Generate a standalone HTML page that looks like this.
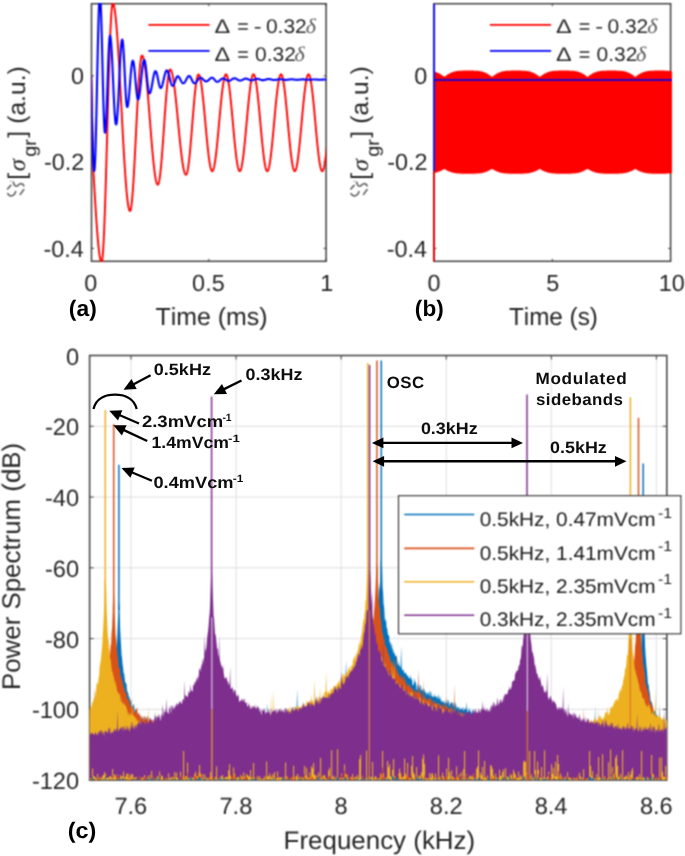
<!DOCTYPE html><html><head><meta charset="utf-8"><style>html,body{margin:0;padding:0;background:#fff;width:685px;height:856px;overflow:hidden;position:relative}</style></head><body>
<svg width="685" height="856" viewBox="0 0 685 856" style="position:absolute;left:0;top:0;font-kerning:none" text-rendering="geometricPrecision">
<filter id="bl" x="0" y="0" width="685" height="856" filterUnits="userSpaceOnUse" color-interpolation-filters="sRGB"><feConvolveMatrix order="3" kernelMatrix="1 2 1 2 4 2 1 2 1" divisor="16" edgeMode="duplicate"/></filter>
<rect width="685" height="856" fill="#fff"/>
<g filter="url(#bl)">
<defs>
<clipPath id="ca"><rect x="91.5" y="3.1" width="234.60000000000002" height="258.8"/></clipPath>
<clipPath id="cb"><rect x="432.8" y="3.1" width="239.40000000000003" height="258.8"/></clipPath>
</defs>
<rect x="91.5" y="3.7" width="234.60000000000002" height="257.6" fill="none" stroke="#404040" stroke-width="1.5"/>
<line x1="91.5" y1="261.3" x2="91.5" y2="258.8" stroke="#404040" stroke-width="1"/>
<line x1="91.5" y1="3.7" x2="91.5" y2="6.2" stroke="#404040" stroke-width="1"/>
<line x1="208.8" y1="261.3" x2="208.8" y2="258.8" stroke="#404040" stroke-width="1"/>
<line x1="208.8" y1="3.7" x2="208.8" y2="6.2" stroke="#404040" stroke-width="1"/>
<line x1="326.1" y1="261.3" x2="326.1" y2="258.8" stroke="#404040" stroke-width="1"/>
<line x1="326.1" y1="3.7" x2="326.1" y2="6.2" stroke="#404040" stroke-width="1"/>
<line x1="91.5" y1="75.8" x2="94.0" y2="75.8" stroke="#404040" stroke-width="1"/>
<line x1="326.1" y1="75.8" x2="323.6" y2="75.8" stroke="#404040" stroke-width="1"/>
<line x1="91.5" y1="162.10000000000002" x2="94.0" y2="162.10000000000002" stroke="#404040" stroke-width="1"/>
<line x1="326.1" y1="162.10000000000002" x2="323.6" y2="162.10000000000002" stroke="#404040" stroke-width="1"/>
<line x1="91.5" y1="248.40000000000003" x2="94.0" y2="248.40000000000003" stroke="#404040" stroke-width="1"/>
<line x1="326.1" y1="248.40000000000003" x2="323.6" y2="248.40000000000003" stroke="#404040" stroke-width="1"/>
<rect x="434.0" y="3.7" width="236.60000000000002" height="257.6" fill="none" stroke="#404040" stroke-width="1.5"/>
<line x1="434.0" y1="261.3" x2="434.0" y2="258.8" stroke="#404040" stroke-width="1"/>
<line x1="434.0" y1="3.7" x2="434.0" y2="6.2" stroke="#404040" stroke-width="1"/>
<line x1="552.3" y1="261.3" x2="552.3" y2="258.8" stroke="#404040" stroke-width="1"/>
<line x1="552.3" y1="3.7" x2="552.3" y2="6.2" stroke="#404040" stroke-width="1"/>
<line x1="670.6" y1="261.3" x2="670.6" y2="258.8" stroke="#404040" stroke-width="1"/>
<line x1="670.6" y1="3.7" x2="670.6" y2="6.2" stroke="#404040" stroke-width="1"/>
<line x1="434.0" y1="75.8" x2="436.5" y2="75.8" stroke="#404040" stroke-width="1"/>
<line x1="670.6" y1="75.8" x2="668.1" y2="75.8" stroke="#404040" stroke-width="1"/>
<line x1="434.0" y1="162.10000000000002" x2="436.5" y2="162.10000000000002" stroke="#404040" stroke-width="1"/>
<line x1="670.6" y1="162.10000000000002" x2="668.1" y2="162.10000000000002" stroke="#404040" stroke-width="1"/>
<line x1="434.0" y1="248.40000000000003" x2="436.5" y2="248.40000000000003" stroke="#404040" stroke-width="1"/>
<line x1="670.6" y1="248.40000000000003" x2="668.1" y2="248.40000000000003" stroke="#404040" stroke-width="1"/>
<g clip-path="url(#ca)" fill="none" stroke-linejoin="round">
<path d="M91.10,75.80 L91.36,86.38 L91.61,96.96 L91.87,107.53 L92.12,118.11 L92.38,128.69 L92.63,139.27 L92.89,149.84 L93.14,160.42 L93.40,171.00 L93.66,175.47 L93.91,179.92 L94.17,184.35 L94.43,188.75 L94.68,193.11 L94.94,197.42 L95.19,201.66 L95.45,205.82 L95.71,209.91 L95.96,213.90 L96.22,217.78 L96.47,221.56 L96.73,225.21 L96.99,228.73 L97.24,232.11 L97.50,235.35 L97.76,238.43 L98.01,241.34 L98.27,244.09 L98.53,246.66 L98.78,249.05 L99.04,251.25 L99.29,253.26 L99.55,255.07 L99.81,256.68 L100.06,258.08 L100.32,259.27 L100.57,260.25 L100.83,261.02 L101.09,261.56 L101.34,261.89 L101.60,262.00 L101.85,261.67 L102.11,260.68 L102.36,259.05 L102.62,256.76 L102.87,253.85 L103.13,250.32 L103.38,246.18 L103.64,241.47 L103.89,236.21 L104.15,230.42 L104.40,224.13 L104.65,217.37 L104.91,210.19 L105.16,202.60 L105.42,194.67 L105.67,186.41 L105.93,177.89 L106.18,169.13 L106.44,160.18 L106.69,151.10 L106.95,141.92 L107.20,132.70 L107.45,123.48 L107.71,114.30 L107.96,105.22 L108.22,96.27 L108.47,87.51 L108.73,78.99 L108.98,70.73 L109.24,62.80 L109.49,55.21 L109.75,48.03 L110.00,41.27 L110.25,34.98 L110.51,29.19 L110.76,23.93 L111.02,19.22 L111.27,15.08 L111.53,11.55 L111.78,8.64 L112.04,6.35 L112.29,4.72 L112.55,3.73 L112.80,3.40 L113.05,3.51 L113.31,3.84 L113.56,4.40 L113.81,5.17 L114.06,6.16 L114.32,7.36 L114.57,8.78 L114.82,10.41 L115.08,12.24 L115.33,14.28 L115.58,16.52 L115.84,18.95 L116.09,21.57 L116.34,24.37 L116.59,27.34 L116.85,30.49 L117.10,33.80 L117.35,37.27 L117.61,40.89 L117.86,44.65 L118.11,48.54 L118.36,52.56 L118.62,56.69 L118.87,60.93 L119.12,65.27 L119.38,69.70 L119.63,74.21 L119.88,78.79 L120.14,83.43 L120.39,88.13 L120.64,92.86 L120.89,97.62 L121.15,102.41 L121.40,107.20 L121.65,111.99 L121.91,116.78 L122.16,121.54 L122.41,126.27 L122.66,130.97 L122.92,135.61 L123.17,140.19 L123.42,144.70 L123.68,149.13 L123.93,153.47 L124.18,157.71 L124.44,161.84 L124.69,165.86 L124.94,169.75 L125.19,173.51 L125.45,177.13 L125.70,180.60 L125.95,183.91 L126.21,187.06 L126.46,190.03 L126.71,192.83 L126.96,195.45 L127.22,197.88 L127.47,200.12 L127.72,202.16 L127.98,203.99 L128.23,205.62 L128.48,207.04 L128.74,208.24 L128.99,209.23 L129.24,210.00 L129.49,210.56 L129.75,210.89 L130.00,211.00 L130.25,210.83 L130.50,210.34 L130.75,209.51 L131.00,208.35 L131.25,206.88 L131.50,205.09 L131.75,202.99 L132.00,200.59 L132.25,197.91 L132.50,194.94 L132.75,191.72 L133.00,188.24 L133.25,184.53 L133.50,180.60 L133.75,176.47 L134.00,172.15 L134.25,167.67 L134.50,163.03 L134.75,158.28 L135.00,153.41 L135.25,148.46 L135.50,143.44 L135.75,138.38 L136.00,133.30 L136.25,128.22 L136.50,123.16 L136.75,118.14 L137.00,113.19 L137.25,108.32 L137.50,103.57 L137.75,98.93 L138.00,94.45 L138.25,90.13 L138.50,86.00 L138.75,82.07 L139.00,78.36 L139.25,74.88 L139.50,71.66 L139.75,68.69 L140.00,66.01 L140.25,63.61 L140.50,61.51 L140.75,59.72 L141.00,58.25 L141.25,57.09 L141.50,56.26 L141.75,55.77 L142.00,55.60 L142.25,55.68 L142.50,55.92 L142.75,56.32 L143.00,56.88 L143.25,57.59 L143.50,58.47 L143.76,59.49 L144.01,60.66 L144.26,61.99 L144.51,63.45 L144.76,65.06 L145.01,66.81 L145.26,68.68 L145.51,70.69 L145.76,72.82 L146.01,75.06 L146.26,77.42 L146.51,79.88 L146.77,82.45 L147.02,85.11 L147.27,87.85 L147.52,90.67 L147.77,93.57 L148.02,96.54 L148.27,99.56 L148.52,102.63 L148.77,105.75 L149.02,108.90 L149.27,112.08 L149.52,115.28 L149.77,118.49 L150.03,121.71 L150.28,124.92 L150.53,128.12 L150.78,131.30 L151.03,134.45 L151.28,137.57 L151.53,140.64 L151.78,143.66 L152.03,146.63 L152.28,149.53 L152.53,152.35 L152.78,155.09 L153.03,157.75 L153.29,160.32 L153.54,162.78 L153.79,165.14 L154.04,167.38 L154.29,169.51 L154.54,171.52 L154.79,173.39 L155.04,175.14 L155.29,176.75 L155.54,178.21 L155.79,179.54 L156.04,180.71 L156.30,181.73 L156.55,182.61 L156.80,183.32 L157.05,183.88 L157.30,184.28 L157.55,184.52 L157.80,184.60 L158.05,184.48 L158.31,184.13 L158.56,183.54 L158.81,182.72 L159.07,181.67 L159.32,180.39 L159.57,178.90 L159.82,177.19 L160.08,175.28 L160.33,173.17 L160.58,170.87 L160.84,168.39 L161.09,165.74 L161.34,162.93 L161.60,159.98 L161.85,156.88 L162.10,153.67 L162.36,150.35 L162.61,146.93 L162.86,143.42 L163.11,139.86 L163.37,136.23 L163.62,132.58 L163.87,128.89 L164.13,125.21 L164.38,121.52 L164.63,117.87 L164.89,114.24 L165.14,110.68 L165.39,107.17 L165.64,103.75 L165.90,100.43 L166.15,97.22 L166.40,94.12 L166.66,91.17 L166.91,88.36 L167.16,85.71 L167.42,83.23 L167.67,80.93 L167.92,78.82 L168.18,76.91 L168.43,75.20 L168.68,73.71 L168.93,72.43 L169.19,71.38 L169.44,70.56 L169.69,69.97 L169.95,69.62 L170.20,69.50 L170.45,69.57 L170.70,69.76 L170.95,70.09 L171.20,70.54 L171.45,71.13 L171.70,71.84 L171.96,72.67 L172.21,73.63 L172.46,74.71 L172.71,75.91 L172.96,77.22 L173.21,78.64 L173.46,80.17 L173.71,81.81 L173.96,83.54 L174.21,85.37 L174.46,87.30 L174.71,89.30 L174.97,91.40 L175.22,93.56 L175.47,95.80 L175.72,98.10 L175.97,100.47 L176.22,102.88 L176.47,105.35 L176.72,107.85 L176.97,110.40 L177.22,112.97 L177.47,115.56 L177.72,118.17 L177.97,120.79 L178.23,123.41 L178.48,126.03 L178.73,128.64 L178.98,131.23 L179.23,133.80 L179.48,136.35 L179.73,138.85 L179.98,141.32 L180.23,143.73 L180.48,146.10 L180.73,148.40 L180.98,150.64 L181.23,152.80 L181.49,154.90 L181.74,156.90 L181.99,158.83 L182.24,160.66 L182.49,162.39 L182.74,164.03 L182.99,165.56 L183.24,166.98 L183.49,168.29 L183.74,169.49 L183.99,170.57 L184.24,171.53 L184.50,172.36 L184.75,173.07 L185.00,173.66 L185.25,174.11 L185.50,174.44 L185.75,174.63 L186.00,174.70 L186.25,174.60 L186.50,174.30 L186.75,173.81 L187.00,173.13 L187.25,172.25 L187.50,171.18 L187.75,169.93 L188.00,168.50 L188.25,166.90 L188.50,165.13 L188.75,163.20 L189.00,161.12 L189.25,158.90 L189.50,156.53 L189.75,154.05 L190.00,151.44 L190.25,148.74 L190.50,145.93 L190.75,143.04 L191.00,140.08 L191.25,137.06 L191.50,133.99 L191.75,130.88 L192.00,127.75 L192.25,124.60 L192.50,121.45 L192.75,118.32 L193.00,115.21 L193.25,112.14 L193.50,109.12 L193.75,106.16 L194.00,103.27 L194.25,100.46 L194.50,97.76 L194.75,95.15 L195.00,92.67 L195.25,90.30 L195.50,88.08 L195.75,86.00 L196.00,84.07 L196.25,82.30 L196.50,80.70 L196.75,79.27 L197.00,78.02 L197.25,76.95 L197.50,76.07 L197.75,75.39 L198.00,74.90 L198.25,74.60 L198.50,74.50 L198.75,74.58 L199.00,74.82 L199.25,75.21 L199.50,75.76 L199.75,76.46 L200.00,77.31 L200.25,78.31 L200.50,79.46 L200.75,80.75 L201.00,82.18 L201.25,83.73 L201.50,85.42 L201.75,87.23 L202.00,89.15 L202.25,91.19 L202.50,93.33 L202.75,95.56 L203.00,97.88 L203.25,100.29 L203.50,102.76 L203.75,105.31 L204.00,107.91 L204.25,110.56 L204.50,113.25 L204.75,115.97 L205.00,118.71 L205.25,121.47 L205.50,124.23 L205.75,126.99 L206.00,129.73 L206.25,132.45 L206.50,135.14 L206.75,137.79 L207.00,140.39 L207.25,142.94 L207.50,145.41 L207.75,147.82 L208.00,150.14 L208.25,152.37 L208.50,154.51 L208.75,156.55 L209.00,158.47 L209.25,160.28 L209.50,161.97 L209.75,163.52 L210.00,164.95 L210.25,166.24 L210.50,167.39 L210.75,168.39 L211.00,169.24 L211.25,169.94 L211.50,170.49 L211.75,170.88 L212.00,171.12 L212.25,171.20 L212.50,171.12 L212.75,170.88 L213.00,170.49 L213.25,169.94 L213.50,169.24 L213.75,168.38 L214.00,167.38 L214.25,166.23 L214.50,164.94 L214.75,163.51 L215.00,161.95 L215.25,160.26 L215.50,158.45 L215.75,156.52 L216.00,154.48 L216.25,152.34 L216.50,150.10 L216.75,147.77 L217.00,145.36 L217.25,142.88 L217.50,140.33 L217.75,137.72 L218.00,135.07 L218.25,132.37 L218.50,129.65 L218.75,126.90 L219.00,124.13 L219.25,121.37 L219.50,118.60 L219.75,115.85 L220.00,113.13 L220.25,110.43 L220.50,107.78 L220.75,105.17 L221.00,102.62 L221.25,100.14 L221.50,97.73 L221.75,95.40 L222.00,93.16 L222.25,91.02 L222.50,88.98 L222.75,87.05 L223.00,85.24 L223.25,83.55 L223.50,81.99 L223.75,80.56 L224.00,79.27 L224.25,78.12 L224.50,77.12 L224.75,76.26 L225.00,75.56 L225.25,75.01 L225.50,74.62 L225.75,74.38 L226.00,74.30 L226.25,74.38 L226.50,74.62 L226.75,75.01 L227.00,75.56 L227.25,76.26 L227.50,77.12 L227.75,78.12 L228.00,79.27 L228.25,80.56 L228.50,81.99 L228.75,83.55 L229.00,85.24 L229.25,87.05 L229.50,88.98 L229.75,91.02 L230.00,93.16 L230.25,95.40 L230.50,97.73 L230.75,100.14 L231.00,102.62 L231.25,105.17 L231.50,107.78 L231.75,110.43 L232.00,113.13 L232.25,115.85 L232.50,118.60 L232.75,121.37 L233.00,124.13 L233.25,126.90 L233.50,129.65 L233.75,132.37 L234.00,135.07 L234.25,137.72 L234.50,140.33 L234.75,142.88 L235.00,145.36 L235.25,147.77 L235.50,150.10 L235.75,152.34 L236.00,154.48 L236.25,156.52 L236.50,158.45 L236.75,160.26 L237.00,161.95 L237.25,163.51 L237.50,164.94 L237.75,166.23 L238.00,167.38 L238.25,168.38 L238.50,169.24 L238.75,169.94 L239.00,170.49 L239.25,170.88 L239.50,171.12 L239.75,171.20 L240.00,171.12 L240.25,170.88 L240.50,170.49 L240.75,169.94 L241.00,169.24 L241.25,168.38 L241.50,167.38 L241.75,166.23 L242.00,164.94 L242.25,163.51 L242.50,161.95 L242.75,160.26 L243.00,158.45 L243.25,156.52 L243.50,154.48 L243.75,152.34 L244.00,150.10 L244.25,147.77 L244.50,145.36 L244.75,142.88 L245.00,140.33 L245.25,137.72 L245.50,135.07 L245.75,132.37 L246.00,129.65 L246.25,126.90 L246.50,124.13 L246.75,121.37 L247.00,118.60 L247.25,115.85 L247.50,113.13 L247.75,110.43 L248.00,107.78 L248.25,105.17 L248.50,102.62 L248.75,100.14 L249.00,97.73 L249.25,95.40 L249.50,93.16 L249.75,91.02 L250.00,88.98 L250.25,87.05 L250.50,85.24 L250.75,83.55 L251.00,81.99 L251.25,80.56 L251.50,79.27 L251.75,78.12 L252.00,77.12 L252.25,76.26 L252.50,75.56 L252.75,75.01 L253.00,74.62 L253.25,74.38 L253.50,74.30 L253.75,74.38 L254.00,74.62 L254.25,75.01 L254.50,75.56 L254.75,76.26 L255.00,77.12 L255.25,78.12 L255.50,79.27 L255.75,80.56 L256.00,81.99 L256.25,83.55 L256.50,85.24 L256.75,87.05 L257.00,88.98 L257.25,91.02 L257.50,93.16 L257.75,95.40 L258.00,97.73 L258.25,100.14 L258.50,102.62 L258.75,105.17 L259.00,107.78 L259.25,110.43 L259.50,113.13 L259.75,115.85 L260.00,118.60 L260.25,121.37 L260.50,124.13 L260.75,126.90 L261.00,129.65 L261.25,132.37 L261.50,135.07 L261.75,137.72 L262.00,140.33 L262.25,142.88 L262.50,145.36 L262.75,147.77 L263.00,150.10 L263.25,152.34 L263.50,154.48 L263.75,156.52 L264.00,158.45 L264.25,160.26 L264.50,161.95 L264.75,163.51 L265.00,164.94 L265.25,166.23 L265.50,167.38 L265.75,168.38 L266.00,169.24 L266.25,169.94 L266.50,170.49 L266.75,170.88 L267.00,171.12 L267.25,171.20 L267.50,171.12 L267.75,170.88 L268.00,170.49 L268.25,169.94 L268.50,169.24 L268.75,168.38 L269.00,167.38 L269.25,166.23 L269.50,164.94 L269.75,163.51 L270.00,161.95 L270.25,160.26 L270.50,158.45 L270.75,156.52 L271.00,154.48 L271.25,152.34 L271.50,150.10 L271.75,147.77 L272.00,145.36 L272.25,142.88 L272.50,140.33 L272.75,137.72 L273.00,135.07 L273.25,132.37 L273.50,129.65 L273.75,126.90 L274.00,124.13 L274.25,121.37 L274.50,118.60 L274.75,115.85 L275.00,113.13 L275.25,110.43 L275.50,107.78 L275.75,105.17 L276.00,102.62 L276.25,100.14 L276.50,97.73 L276.75,95.40 L277.00,93.16 L277.25,91.02 L277.50,88.98 L277.75,87.05 L278.00,85.24 L278.25,83.55 L278.50,81.99 L278.75,80.56 L279.00,79.27 L279.25,78.12 L279.50,77.12 L279.75,76.26 L280.00,75.56 L280.25,75.01 L280.50,74.62 L280.75,74.38 L281.00,74.30 L281.25,74.38 L281.50,74.62 L281.75,75.01 L282.00,75.56 L282.25,76.26 L282.50,77.12 L282.75,78.12 L283.00,79.27 L283.25,80.56 L283.50,81.99 L283.75,83.55 L284.00,85.24 L284.25,87.05 L284.50,88.98 L284.75,91.02 L285.00,93.16 L285.25,95.40 L285.50,97.73 L285.75,100.14 L286.00,102.62 L286.25,105.17 L286.50,107.78 L286.75,110.43 L287.00,113.13 L287.25,115.85 L287.50,118.60 L287.75,121.37 L288.00,124.13 L288.25,126.90 L288.50,129.65 L288.75,132.37 L289.00,135.07 L289.25,137.72 L289.50,140.33 L289.75,142.88 L290.00,145.36 L290.25,147.77 L290.50,150.10 L290.75,152.34 L291.00,154.48 L291.25,156.52 L291.50,158.45 L291.75,160.26 L292.00,161.95 L292.25,163.51 L292.50,164.94 L292.75,166.23 L293.00,167.38 L293.25,168.38 L293.50,169.24 L293.75,169.94 L294.00,170.49 L294.25,170.88 L294.50,171.12 L294.75,171.20 L295.00,171.12 L295.25,170.88 L295.50,170.49 L295.75,169.94 L296.00,169.24 L296.25,168.38 L296.50,167.38 L296.75,166.23 L297.00,164.94 L297.25,163.51 L297.50,161.95 L297.75,160.26 L298.00,158.45 L298.25,156.52 L298.50,154.48 L298.75,152.34 L299.00,150.10 L299.25,147.77 L299.50,145.36 L299.75,142.88 L300.00,140.33 L300.25,137.72 L300.50,135.07 L300.75,132.37 L301.00,129.65 L301.25,126.90 L301.50,124.13 L301.75,121.37 L302.00,118.60 L302.25,115.85 L302.50,113.13 L302.75,110.43 L303.00,107.78 L303.25,105.17 L303.50,102.62 L303.75,100.14 L304.00,97.73 L304.25,95.40 L304.50,93.16 L304.75,91.02 L305.00,88.98 L305.25,87.05 L305.50,85.24 L305.75,83.55 L306.00,81.99 L306.25,80.56 L306.50,79.27 L306.75,78.12 L307.00,77.12 L307.25,76.26 L307.50,75.56 L307.75,75.01 L308.00,74.62 L308.25,74.38 L308.50,74.30 L308.75,74.38 L309.00,74.62 L309.25,75.01 L309.50,75.56 L309.75,76.26 L310.00,77.12 L310.25,78.12 L310.50,79.27 L310.75,80.56 L311.00,81.99 L311.25,83.55 L311.50,85.24 L311.75,87.05 L312.00,88.98 L312.25,91.02 L312.50,93.16 L312.75,95.40 L313.00,97.73 L313.25,100.14 L313.50,102.62 L313.75,105.17 L314.00,107.78 L314.25,110.43 L314.50,113.13 L314.75,115.85 L315.00,118.60 L315.25,121.37 L315.50,124.13 L315.75,126.90 L316.00,129.65 L316.25,132.37 L316.50,135.07 L316.75,137.72 L317.00,140.33 L317.25,142.88 L317.50,145.36 L317.75,147.77 L318.00,150.10 L318.25,152.34 L318.50,154.48 L318.75,156.52 L319.00,158.45 L319.25,160.26 L319.50,161.95 L319.75,163.51 L320.00,164.94 L320.25,166.23 L320.50,167.38 L320.75,168.38 L321.00,169.24 L321.25,169.94 L321.50,170.49 L321.75,170.88 L322.00,171.12 L322.25,171.20 L322.50,171.12 L322.75,170.88 L323.00,170.49 L323.25,169.94 L323.50,169.24 L323.75,168.38 L324.00,167.38 L324.25,166.23 L324.50,164.94 L324.75,163.51 L325.00,161.95 L325.25,160.26 L325.50,158.45 L325.75,156.52 L326.00,154.48 L326.25,152.34 L326.50,150.10 L326.75,147.77 L327.00,145.36 L327.25,142.88 L327.50,140.33 L327.75,137.72 L328.00,135.07 L328.25,132.37 L328.50,129.65 L328.75,126.90 L329.00,124.13 L329.25,121.37 L329.50,118.60 L329.75,115.85 L330.00,113.13 L330.25,110.43 L330.50,107.78 L330.75,105.17 L331.00,102.62 L331.25,100.14 L331.50,97.73 L331.75,95.40 L332.00,93.16 L332.25,91.02 L332.50,88.98 L332.75,87.05 L333.00,85.24 L333.25,83.55 L333.50,81.99 L333.75,80.56 L334.00,79.27 L334.25,78.12 L334.50,77.12 L334.75,76.26 L335.00,75.56 L335.25,75.01 L335.50,74.62 L335.75,74.38 L336.00,74.30 L336.25,74.38 L336.50,74.62 L336.75,75.01 L337.00,75.56 L337.25,76.26 L337.50,77.12 L337.75,78.12 L338.00,79.27 L338.25,80.56 L338.50,81.99 L338.75,83.55 L339.00,85.24 L339.25,87.05 L339.50,88.98 L339.75,91.02 L340.00,93.16 L340.25,95.40 L340.50,97.73 L340.75,100.14 L341.00,102.62 L341.25,105.17 L341.50,107.78 L341.75,110.43 L342.00,113.13 L342.25,115.85 L342.50,118.60 L342.75,121.37 L343.00,124.13 L343.25,126.90 L343.50,129.65 L343.75,132.37 L344.00,135.07 L344.25,137.72 L344.50,140.33 L344.75,142.88 L345.00,145.36 L345.25,147.77 L345.50,150.10 L345.75,152.34 L346.00,154.48 L346.25,156.52 L346.50,158.45 L346.75,160.26 L347.00,161.95 L347.25,163.51 L347.50,164.94 L347.75,166.23 L348.00,167.38 L348.25,168.38 L348.50,169.24 L348.75,169.94 L349.00,170.49 L349.25,170.88 L349.50,171.12 L349.75,171.20 L350.00,171.12 L350.25,170.88 L350.50,170.49 L350.75,169.94 L351.00,169.24 L351.25,168.38 L351.50,167.38 L351.75,166.23 L352.00,164.94 L352.25,163.51 L352.50,161.95 L352.75,160.26 L353.00,158.45 L353.25,156.52 L353.50,154.48 L353.75,152.34 L354.00,150.10 L354.25,147.77 L354.50,145.36 L354.75,142.88 L355.00,140.33 L355.25,137.72 L355.50,135.07 L355.75,132.37 L356.00,129.65 L356.25,126.90 L356.50,124.13 L356.75,121.37 L357.00,118.60 L357.25,115.85 L357.50,113.13 L357.75,110.43 L358.00,107.78 L358.25,105.17 L358.50,102.62 L358.75,100.14 L359.00,97.73 L359.25,95.40 L359.50,93.16 L359.75,91.02 L360.00,88.98 L360.25,87.05 L360.50,85.24 L360.75,83.55 L361.00,81.99 L361.25,80.56 L361.50,79.27 L361.75,78.12 L362.00,77.12 L362.25,76.26 L362.50,75.56 L362.75,75.01 L363.00,74.62 L363.25,74.38 L363.50,74.30" stroke="#ff0000" stroke-width="1.9"/>
<path d="M91.10,75.80 L91.36,88.23 L91.62,100.44 L91.88,112.23 L92.13,123.40 L92.39,133.75 L92.65,143.12 L92.91,151.33 L93.17,158.25 L93.42,163.75 L93.68,167.76 L93.94,170.19 L94.20,171.00 L94.46,170.11 L94.72,167.46 L94.98,163.09 L95.24,157.11 L95.50,149.63 L95.75,140.80 L96.01,130.81 L96.27,119.85 L96.53,108.15 L96.79,95.95 L97.05,83.50 L97.31,71.05 L97.57,58.85 L97.83,47.15 L98.09,36.19 L98.35,26.20 L98.60,17.37 L98.86,9.89 L99.12,3.91 L99.38,-0.46 L99.64,-3.11 L99.90,-4.00 L100.16,-3.16 L100.41,-0.65 L100.67,3.45 L100.92,9.05 L101.18,16.02 L101.43,24.17 L101.69,33.32 L101.94,43.23 L102.20,53.66 L102.45,64.35 L102.70,75.04 L102.96,85.47 L103.22,95.38 L103.47,104.53 L103.72,112.68 L103.98,119.65 L104.23,125.25 L104.49,129.35 L104.75,131.86 L105.00,132.70 L105.25,132.10 L105.50,130.33 L105.75,127.41 L106.00,123.44 L106.25,118.49 L106.50,112.71 L106.75,106.22 L107.00,99.19 L107.25,91.79 L107.50,84.20 L107.75,76.61 L108.00,69.21 L108.25,62.18 L108.50,55.69 L108.75,49.91 L109.00,44.96 L109.25,40.99 L109.50,38.07 L109.75,36.30 L110.00,35.70 L110.25,36.08 L110.51,37.21 L110.76,39.08 L111.02,41.65 L111.27,44.88 L111.53,48.70 L111.78,53.07 L112.03,57.90 L112.29,63.11 L112.54,68.61 L112.80,74.30 L113.05,80.10 L113.30,85.90 L113.56,91.59 L113.81,97.09 L114.07,102.30 L114.32,107.13 L114.57,111.50 L114.83,115.32 L115.08,118.55 L115.34,121.12 L115.59,122.99 L115.85,124.12 L116.10,124.50 L116.35,124.14 L116.61,123.05 L116.86,121.26 L117.12,118.81 L117.37,115.72 L117.62,112.05 L117.88,107.87 L118.13,103.25 L118.39,98.26 L118.64,93.00 L118.90,87.55 L119.15,82.00 L119.40,76.45 L119.66,71.00 L119.91,65.74 L120.17,60.75 L120.42,56.13 L120.67,51.95 L120.93,48.28 L121.18,45.19 L121.44,42.74 L121.69,40.95 L121.95,39.86 L122.20,39.50 L122.45,39.92 L122.70,41.15 L122.95,43.18 L123.20,45.95 L123.45,49.39 L123.70,53.41 L123.95,57.93 L124.20,62.82 L124.45,67.97 L124.70,73.25 L124.95,78.53 L125.20,83.68 L125.45,88.57 L125.70,93.09 L125.95,97.11 L126.20,100.55 L126.45,103.32 L126.70,105.35 L126.95,106.58 L127.20,107.00 L127.45,106.76 L127.71,106.06 L127.96,104.91 L128.22,103.33 L128.47,101.35 L128.73,99.01 L128.98,96.37 L129.24,93.47 L129.49,90.37 L129.75,87.14 L130.00,83.85 L130.25,80.56 L130.51,77.33 L130.76,74.23 L131.02,71.33 L131.27,68.69 L131.53,66.35 L131.78,64.37 L132.04,62.79 L132.29,61.64 L132.55,60.94 L132.80,60.70 L133.05,60.92 L133.30,61.56 L133.56,62.62 L133.81,64.06 L134.06,65.87 L134.31,67.99 L134.57,70.38 L134.82,72.98 L135.07,75.74 L135.32,78.60 L135.58,81.50 L135.83,84.36 L136.08,87.12 L136.33,89.72 L136.59,92.11 L136.84,94.23 L137.09,96.04 L137.34,97.48 L137.60,98.54 L137.85,99.18 L138.10,99.40 L138.35,99.23 L138.61,98.73 L138.86,97.90 L139.12,96.76 L139.37,95.33 L139.62,93.63 L139.88,91.69 L140.13,89.55 L140.39,87.24 L140.64,84.80 L140.90,82.27 L141.15,79.70 L141.40,77.13 L141.66,74.60 L141.91,72.16 L142.17,69.85 L142.42,67.71 L142.67,65.77 L142.93,64.07 L143.18,62.64 L143.44,61.50 L143.69,60.67 L143.95,60.17 L144.20,60.00 L144.45,60.19 L144.70,60.74 L144.96,61.65 L145.21,62.90 L145.46,64.46 L145.71,66.29 L145.97,68.35 L146.22,70.60 L146.47,72.98 L146.72,75.45 L146.98,77.95 L147.23,80.42 L147.48,82.80 L147.73,85.05 L147.99,87.11 L148.24,88.94 L148.49,90.50 L148.74,91.75 L149.00,92.66 L149.25,93.21 L149.50,93.40 L149.75,93.31 L150.00,93.02 L150.25,92.56 L150.50,91.91 L150.75,91.11 L151.00,90.15 L151.25,89.06 L151.50,87.85 L151.75,86.55 L152.00,85.17 L152.25,83.75 L152.50,82.30 L152.75,80.85 L153.00,79.43 L153.25,78.05 L153.50,76.75 L153.75,75.54 L154.00,74.45 L154.25,73.49 L154.50,72.69 L154.75,72.04 L155.00,71.58 L155.25,71.29 L155.50,71.20 L155.76,71.30 L156.02,71.61 L156.28,72.12 L156.54,72.80 L156.80,73.66 L157.06,74.66 L157.32,75.79 L157.58,77.00 L157.84,78.29 L158.10,79.60 L158.36,80.91 L158.62,82.20 L158.88,83.41 L159.14,84.54 L159.40,85.54 L159.66,86.40 L159.92,87.08 L160.18,87.59 L160.44,87.90 L160.70,88.00 L160.95,87.92 L161.21,87.70 L161.46,87.33 L161.72,86.82 L161.97,86.18 L162.22,85.42 L162.48,84.56 L162.73,83.60 L162.99,82.57 L163.24,81.48 L163.50,80.35 L163.75,79.20 L164.00,78.05 L164.26,76.92 L164.51,75.83 L164.77,74.80 L165.02,73.84 L165.28,72.98 L165.53,72.22 L165.78,71.58 L166.04,71.07 L166.29,70.70 L166.55,70.48 L166.80,70.40 L167.05,70.47 L167.30,70.69 L167.56,71.04 L167.81,71.52 L168.06,72.13 L168.31,72.84 L168.57,73.66 L168.82,74.56 L169.07,75.52 L169.32,76.53 L169.57,77.57 L169.83,78.63 L170.08,79.67 L170.33,80.68 L170.58,81.64 L170.83,82.54 L171.09,83.36 L171.34,84.07 L171.59,84.68 L171.84,85.16 L172.10,85.51 L172.35,85.73 L172.60,85.80 L172.85,85.74 L173.11,85.57 L173.36,85.28 L173.62,84.89 L173.88,84.41 L174.13,83.84 L174.38,83.21 L174.64,82.52 L174.89,81.79 L175.15,81.05 L175.41,80.31 L175.66,79.58 L175.91,78.89 L176.17,78.26 L176.42,77.69 L176.68,77.21 L176.94,76.82 L177.19,76.53 L177.44,76.36 L177.70,76.30 L177.95,76.34 L178.21,76.44 L178.46,76.62 L178.72,76.86 L178.97,77.15 L179.23,77.51 L179.48,77.91 L179.74,78.35 L179.99,78.81 L180.25,79.30 L180.50,79.80 L180.75,80.30 L181.01,80.79 L181.26,81.25 L181.52,81.69 L181.77,82.09 L182.03,82.45 L182.28,82.74 L182.54,82.98 L182.79,83.16 L183.05,83.26 L183.30,83.30 L183.55,83.27 L183.80,83.16 L184.06,83.00 L184.31,82.77 L184.56,82.48 L184.81,82.14 L185.07,81.75 L185.32,81.33 L185.57,80.87 L185.82,80.39 L186.07,79.90 L186.33,79.40 L186.58,78.91 L186.83,78.43 L187.08,77.97 L187.33,77.55 L187.59,77.16 L187.84,76.82 L188.09,76.53 L188.34,76.30 L188.60,76.14 L188.85,76.03 L189.10,76.00 L189.36,76.04 L189.61,76.16 L189.87,76.36 L190.13,76.63 L190.39,76.97 L190.64,77.37 L190.90,77.83 L191.16,78.32 L191.41,78.84 L191.67,79.38 L191.93,79.92 L192.19,80.46 L192.44,80.98 L192.70,81.47 L192.96,81.93 L193.21,82.33 L193.47,82.67 L193.73,82.94 L193.99,83.14 L194.24,83.26 L194.50,83.30 L194.76,83.27 L195.01,83.20 L195.27,83.07 L195.53,82.89 L195.78,82.67 L196.04,82.41 L196.30,82.11 L196.55,81.79 L196.81,81.44 L197.07,81.07 L197.32,80.69 L197.58,80.31 L197.83,79.93 L198.09,79.56 L198.35,79.21 L198.60,78.89 L198.86,78.59 L199.12,78.33 L199.37,78.11 L199.63,77.93 L199.89,77.80 L200.14,77.73 L200.40,77.70 L200.65,77.72 L200.90,77.77 L201.16,77.85 L201.41,77.97 L201.66,78.11 L201.91,78.29 L202.17,78.48 L202.42,78.70 L202.67,78.93 L202.92,79.17 L203.17,79.42 L203.43,79.68 L203.68,79.93 L203.93,80.17 L204.18,80.40 L204.43,80.62 L204.69,80.81 L204.94,80.99 L205.19,81.13 L205.44,81.25 L205.70,81.33 L205.95,81.38 L206.20,81.40 L206.45,81.38 L206.70,81.33 L206.96,81.25 L207.21,81.13 L207.46,80.99 L207.71,80.81 L207.97,80.62 L208.22,80.40 L208.47,80.17 L208.72,79.93 L208.97,79.68 L209.23,79.42 L209.48,79.17 L209.73,78.93 L209.98,78.70 L210.23,78.48 L210.49,78.29 L210.74,78.11 L210.99,77.97 L211.24,77.85 L211.50,77.77 L211.75,77.72 L212.00,77.70 L212.26,77.73 L212.52,77.80 L212.78,77.92 L213.04,78.09 L213.30,78.30 L213.56,78.55 L213.82,78.82 L214.08,79.12 L214.34,79.43 L214.60,79.75 L214.86,80.07 L215.12,80.38 L215.38,80.68 L215.64,80.95 L215.90,81.20 L216.16,81.41 L216.42,81.58 L216.68,81.70 L216.94,81.77 L217.20,81.80 L217.45,81.78 L217.70,81.74 L217.96,81.66 L218.21,81.56 L218.46,81.43 L218.71,81.28 L218.97,81.10 L219.22,80.91 L219.47,80.70 L219.72,80.49 L219.97,80.26 L220.23,80.04 L220.48,79.81 L220.73,79.60 L220.98,79.39 L221.23,79.20 L221.49,79.02 L221.74,78.87 L221.99,78.74 L222.24,78.64 L222.50,78.56 L222.75,78.52 L223.00,78.50 L223.26,78.51 L223.52,78.55 L223.78,78.61 L224.04,78.69 L224.30,78.79 L224.55,78.91 L224.81,79.05 L225.07,79.20 L225.33,79.36 L225.59,79.53 L225.85,79.70 L226.11,79.87 L226.37,80.04 L226.63,80.20 L226.89,80.35 L227.15,80.49 L227.40,80.61 L227.66,80.71 L227.92,80.79 L228.18,80.85 L228.44,80.89 L228.70,80.90 L228.96,80.89 L229.22,80.85 L229.48,80.78 L229.74,80.69 L230.00,80.58 L230.25,80.45 L230.51,80.30 L230.77,80.14 L231.03,79.97 L231.29,79.79 L231.55,79.60 L231.81,79.41 L232.07,79.23 L232.33,79.06 L232.59,78.90 L232.85,78.75 L233.10,78.62 L233.36,78.51 L233.62,78.42 L233.88,78.35 L234.14,78.31 L234.40,78.30 L234.66,78.31 L234.92,78.35 L235.18,78.40 L235.44,78.48 L235.70,78.58 L235.95,78.69 L236.21,78.82 L236.47,78.96 L236.73,79.12 L236.99,79.28 L237.25,79.44 L237.51,79.60 L237.77,79.76 L238.03,79.91 L238.29,80.05 L238.55,80.18 L238.80,80.30 L239.06,80.39 L239.32,80.47 L239.58,80.53 L239.84,80.56 L240.10,80.57 L240.36,80.57 L240.62,80.54 L240.88,80.49 L241.14,80.42 L241.40,80.34 L241.65,80.24 L241.91,80.13 L242.17,80.01 L242.43,79.87 L242.69,79.74 L242.95,79.60 L243.21,79.46 L243.47,79.33 L243.73,79.19 L243.99,79.07 L244.25,78.96 L244.50,78.86 L244.76,78.78 L245.02,78.71 L245.28,78.66 L245.54,78.63 L245.80,78.62 L246.06,78.63 L246.32,78.66 L246.58,78.70 L246.84,78.76 L247.10,78.83 L247.35,78.92 L247.61,79.02 L247.87,79.12 L248.13,79.24 L248.39,79.36 L248.65,79.48 L248.91,79.60 L249.17,79.72 L249.43,79.83 L249.69,79.94 L249.95,80.04 L250.20,80.12 L250.46,80.20 L250.72,80.25 L250.98,80.30 L251.24,80.32 L251.50,80.33 L251.76,80.32 L252.02,80.30 L252.28,80.27 L252.54,80.22 L252.80,80.15 L253.05,80.08 L253.31,80.00 L253.57,79.90 L253.83,79.81 L254.09,79.70 L254.35,79.60 L254.61,79.50 L254.87,79.39 L255.13,79.30 L255.39,79.20 L255.65,79.12 L255.90,79.05 L256.16,78.98 L256.42,78.93 L256.68,78.90 L256.94,78.88 L257.20,78.87 L257.46,78.88 L257.72,78.89 L257.98,78.93 L258.24,78.97 L258.50,79.03 L258.75,79.09 L259.01,79.16 L259.27,79.24 L259.53,79.33 L259.79,79.42 L260.05,79.51 L260.31,79.60 L260.57,79.69 L260.83,79.77 L261.09,79.85 L261.35,79.93 L261.60,79.99 L261.86,80.05 L262.12,80.09 L262.38,80.12 L262.64,80.14 L262.90,80.15 L263.16,80.14 L263.42,80.13 L263.68,80.10 L263.94,80.06 L264.20,80.01 L264.45,79.96 L264.71,79.90 L264.97,79.83 L265.23,79.75 L265.49,79.68 L265.75,79.60 L266.01,79.52 L266.27,79.45 L266.53,79.37 L266.79,79.30 L267.05,79.24 L267.30,79.19 L267.56,79.14 L267.82,79.10 L268.08,79.07 L268.34,79.06 L268.60,79.05 L268.86,79.06 L269.12,79.07 L269.38,79.09 L269.64,79.13 L269.90,79.17 L270.15,79.22 L270.41,79.27 L270.67,79.33 L270.93,79.40 L271.19,79.46 L271.45,79.53 L271.71,79.60 L271.97,79.67 L272.23,79.73 L272.49,79.79 L272.75,79.85 L273.00,79.89 L273.26,79.94 L273.52,79.97 L273.78,79.99 L274.04,80.01 L274.30,80.01 L274.56,80.01 L274.82,79.99 L275.08,79.97 L275.34,79.95 L275.60,79.91 L275.85,79.87 L276.11,79.82 L276.37,79.77 L276.63,79.72 L276.89,79.66 L277.15,79.60 L277.41,79.54 L277.67,79.48 L277.93,79.43 L278.19,79.38 L278.45,79.33 L278.70,79.29 L278.96,79.25 L279.22,79.23 L279.48,79.21 L279.74,79.19 L280.00,79.19 L280.26,79.19 L280.52,79.20 L280.78,79.22 L281.04,79.25 L281.30,79.28 L281.55,79.31 L281.81,79.35 L282.07,79.40 L282.33,79.45 L282.59,79.50 L282.85,79.55 L283.11,79.60 L283.37,79.65 L283.63,79.70 L283.89,79.74 L284.15,79.78 L284.40,79.82 L284.66,79.85 L284.92,79.88 L285.18,79.89 L285.44,79.90 L285.70,79.91 L285.96,79.91 L286.22,79.90 L286.48,79.88 L286.74,79.86 L287.00,79.83 L287.25,79.80 L287.51,79.77 L287.77,79.73 L288.03,79.69 L288.29,79.64 L288.55,79.60 L288.81,79.56 L289.07,79.51 L289.33,79.47 L289.59,79.43 L289.85,79.40 L290.10,79.37 L290.36,79.34 L290.62,79.32 L290.88,79.30 L291.14,79.29 L291.40,79.29 L291.66,79.29 L291.92,79.30 L292.18,79.32 L292.44,79.33 L292.70,79.36 L292.95,79.38 L293.21,79.42 L293.47,79.45 L293.73,79.49 L293.99,79.52 L294.25,79.56 L294.51,79.60 L294.77,79.64 L295.03,79.67 L295.29,79.71 L295.55,79.74 L295.80,79.77 L296.06,79.79 L296.32,79.81 L296.58,79.82 L296.84,79.83 L297.10,79.83 L297.36,79.83 L297.62,79.82 L297.88,79.81 L298.14,79.79 L298.40,79.77 L298.65,79.75 L298.91,79.73 L299.17,79.70 L299.43,79.67 L299.69,79.63 L299.95,79.60 L300.21,79.57 L300.47,79.53 L300.73,79.50 L300.99,79.47 L301.25,79.45 L301.50,79.43 L301.76,79.41 L302.02,79.39 L302.28,79.38 L302.54,79.37 L302.80,79.37 L303.06,79.37 L303.32,79.38 L303.58,79.39 L303.84,79.40 L304.10,79.42 L304.35,79.44 L304.61,79.46 L304.87,79.49 L305.13,79.51 L305.39,79.54 L305.65,79.57 L305.91,79.60 L306.17,79.63 L306.43,79.66 L306.69,79.68 L306.95,79.70 L307.20,79.72 L307.46,79.74 L307.72,79.76 L307.98,79.77 L308.24,79.77 L308.50,79.77 L308.76,79.77 L309.02,79.77 L309.28,79.76 L309.54,79.75 L309.80,79.73 L310.05,79.71 L310.31,79.69 L310.57,79.67 L310.83,79.65 L311.09,79.62 L311.35,79.60 L311.61,79.58 L311.87,79.55 L312.13,79.53 L312.39,79.51 L312.65,79.49 L312.90,79.47 L313.16,79.45 L313.42,79.44 L313.68,79.43 L313.94,79.43 L314.20,79.43 L314.46,79.43 L314.72,79.43 L314.98,79.44 L315.24,79.45 L315.50,79.46 L315.75,79.48 L316.01,79.50 L316.27,79.52 L316.53,79.54 L316.79,79.56 L317.05,79.58 L317.31,79.60 L317.57,79.62 L317.83,79.64 L318.09,79.66 L318.35,79.68 L318.60,79.69 L318.86,79.71 L319.12,79.72 L319.38,79.72 L319.64,79.73 L319.90,79.73 L320.16,79.73 L320.42,79.72 L320.68,79.72 L320.94,79.71 L321.20,79.70 L321.45,79.69 L321.71,79.67 L321.97,79.65 L322.23,79.64 L322.49,79.62 L322.75,79.60 L323.01,79.58 L323.27,79.56 L323.53,79.55 L323.79,79.53 L324.05,79.51 L324.30,79.50 L324.56,79.49 L324.82,79.48 L325.08,79.48 L325.34,79.47 L325.60,79.47 L325.86,79.47 L326.12,79.47 L326.38,79.48 L326.64,79.49 L326.90,79.50 L327.15,79.51 L327.41,79.52 L327.67,79.54 L327.93,79.55 L328.19,79.57 L328.45,79.58 L328.71,79.60 L328.97,79.62 L329.23,79.63 L329.49,79.65 L329.75,79.66 L330.00,79.67 L330.26,79.68 L330.52,79.69 L330.78,79.69 L331.04,79.70 L331.30,79.70 L331.56,79.70 L331.82,79.69 L332.08,79.69 L332.34,79.68 L332.60,79.67 L332.85,79.66 L333.11,79.65 L333.37,79.64 L333.63,79.63 L333.89,79.61 L334.15,79.60 L334.41,79.59 L334.67,79.57 L334.93,79.56 L335.19,79.55 L335.45,79.54 L335.70,79.53 L335.96,79.52 L336.22,79.51 L336.48,79.51 L336.74,79.50 L337.00,79.50 L337.25,79.50 L337.50,79.51 L337.75,79.52 L338.00,79.53 L338.25,79.54 L338.50,79.55 L338.75,79.56 L339.00,79.58 L339.25,79.59 L339.50,79.59 L339.75,79.60 L340.00,79.60" stroke="#0000ff" stroke-width="2.1"/>
</g>
<g clip-path="url(#cb)">
<path d="M434.00,71.49 L434.50,71.62 L435.00,71.76 L435.50,71.91 L436.00,72.08 L436.50,72.26 L437.00,72.45 L437.50,72.66 L438.00,72.88 L438.50,73.12 L439.00,73.37 L439.50,73.64 L440.00,73.93 L440.50,74.22 L441.00,74.54 L441.50,74.87 L442.00,75.22 L442.50,75.58 L443.00,75.95 L443.50,76.34 L444.00,76.75 L444.50,76.83 L445.00,76.42 L445.50,76.03 L446.00,75.65 L446.50,75.29 L447.00,74.94 L447.50,74.60 L448.00,74.29 L448.50,73.98 L449.00,73.70 L449.50,73.43 L450.00,73.17 L450.50,72.93 L451.00,72.70 L451.50,72.49 L452.00,72.30 L452.50,72.11 L453.00,71.94 L453.50,71.79 L454.00,71.65 L454.50,71.52 L455.00,71.40 L455.50,71.29 L456.00,71.19 L456.50,71.10 L457.00,71.03 L457.50,70.96 L458.00,70.90 L458.50,70.85 L459.00,70.80 L459.50,70.76 L460.00,70.73 L460.50,70.70 L461.00,70.68 L461.50,70.66 L462.00,70.64 L462.50,70.63 L463.00,70.62 L463.50,70.61 L464.00,70.61 L464.50,70.61 L465.00,70.60 L465.50,70.60 L466.00,70.60 L466.50,70.60 L467.00,70.60 L467.50,70.60 L468.00,70.60 L468.50,70.60 L469.00,70.60 L469.50,70.60 L470.00,70.60 L470.50,70.60 L471.00,70.60 L471.50,70.60 L472.00,70.61 L472.50,70.61 L473.00,70.62 L473.50,70.62 L474.00,70.63 L474.50,70.65 L475.00,70.66 L475.50,70.68 L476.00,70.71 L476.50,70.74 L477.00,70.77 L477.50,70.81 L478.00,70.86 L478.50,70.92 L479.00,70.98 L479.50,71.05 L480.00,71.13 L480.50,71.22 L481.00,71.32 L481.50,71.43 L482.00,71.55 L482.50,71.69 L483.00,71.83 L483.50,71.99 L484.00,72.17 L484.50,72.35 L485.00,72.55 L485.50,72.77 L486.00,73.00 L486.50,73.25 L487.00,73.51 L487.50,73.78 L488.00,74.07 L488.50,74.38 L489.00,74.70 L489.50,75.04 L490.00,75.39 L490.50,75.76 L491.00,76.15 L491.50,76.55 L492.00,76.96 L492.50,76.63 L493.00,76.23 L493.50,75.84 L494.00,75.47 L494.50,75.11 L495.00,74.77 L495.50,74.44 L496.00,74.13 L496.50,73.84 L497.00,73.56 L497.50,73.30 L498.00,73.05 L498.50,72.81 L499.00,72.60 L499.50,72.39 L500.00,72.20 L500.50,72.03 L501.00,71.87 L501.50,71.72 L502.00,71.58 L502.50,71.45 L503.00,71.34 L503.50,71.24 L504.00,71.15 L504.50,71.06 L505.00,70.99 L505.50,70.93 L506.00,70.87 L506.50,70.82 L507.00,70.78 L507.50,70.74 L508.00,70.71 L508.50,70.69 L509.00,70.67 L509.50,70.65 L510.00,70.64 L510.50,70.63 L511.00,70.62 L511.50,70.61 L512.00,70.61 L512.50,70.60 L513.00,70.60 L513.50,70.60 L514.00,70.60 L514.50,70.60 L515.00,70.60 L515.50,70.60 L516.00,70.60 L516.50,70.60 L517.00,70.60 L517.50,70.60 L518.00,70.60 L518.50,70.60 L519.00,70.60 L519.50,70.60 L520.00,70.61 L520.50,70.61 L521.00,70.62 L521.50,70.63 L522.00,70.64 L522.50,70.65 L523.00,70.67 L523.50,70.69 L524.00,70.72 L524.50,70.75 L525.00,70.79 L525.50,70.84 L526.00,70.89 L526.50,70.95 L527.00,71.01 L527.50,71.09 L528.00,71.17 L528.50,71.27 L529.00,71.37 L529.50,71.49 L530.00,71.62 L530.50,71.76 L531.00,71.91 L531.50,72.08 L532.00,72.26 L532.50,72.45 L533.00,72.66 L533.50,72.88 L534.00,73.12 L534.50,73.37 L535.00,73.64 L535.50,73.93 L536.00,74.22 L536.50,74.54 L537.00,74.87 L537.50,75.22 L538.00,75.58 L538.50,75.95 L539.00,76.34 L539.50,76.75 L540.00,76.83 L540.50,76.42 L541.00,76.03 L541.50,75.65 L542.00,75.29 L542.50,74.94 L543.00,74.60 L543.50,74.29 L544.00,73.98 L544.50,73.70 L545.00,73.43 L545.50,73.17 L546.00,72.93 L546.50,72.70 L547.00,72.49 L547.50,72.30 L548.00,72.11 L548.50,71.94 L549.00,71.79 L549.50,71.65 L550.00,71.52 L550.50,71.40 L551.00,71.29 L551.50,71.19 L552.00,71.10 L552.50,71.03 L553.00,70.96 L553.50,70.90 L554.00,70.85 L554.50,70.80 L555.00,70.76 L555.50,70.73 L556.00,70.70 L556.50,70.68 L557.00,70.66 L557.50,70.64 L558.00,70.63 L558.50,70.62 L559.00,70.61 L559.50,70.61 L560.00,70.61 L560.50,70.60 L561.00,70.60 L561.50,70.60 L562.00,70.60 L562.50,70.60 L563.00,70.60 L563.50,70.60 L564.00,70.60 L564.50,70.60 L565.00,70.60 L565.50,70.60 L566.00,70.60 L566.50,70.60 L567.00,70.60 L567.50,70.61 L568.00,70.61 L568.50,70.62 L569.00,70.62 L569.50,70.63 L570.00,70.65 L570.50,70.66 L571.00,70.68 L571.50,70.71 L572.00,70.74 L572.50,70.77 L573.00,70.81 L573.50,70.86 L574.00,70.92 L574.50,70.98 L575.00,71.05 L575.50,71.13 L576.00,71.22 L576.50,71.32 L577.00,71.43 L577.50,71.55 L578.00,71.69 L578.50,71.83 L579.00,71.99 L579.50,72.17 L580.00,72.35 L580.50,72.55 L581.00,72.77 L581.50,73.00 L582.00,73.25 L582.50,73.51 L583.00,73.78 L583.50,74.07 L584.00,74.38 L584.50,74.70 L585.00,75.04 L585.50,75.39 L586.00,75.76 L586.50,76.15 L587.00,76.55 L587.50,76.96 L588.00,76.63 L588.50,76.23 L589.00,75.84 L589.50,75.47 L590.00,75.11 L590.50,74.77 L591.00,74.44 L591.50,74.13 L592.00,73.84 L592.50,73.56 L593.00,73.30 L593.50,73.05 L594.00,72.81 L594.50,72.60 L595.00,72.39 L595.50,72.20 L596.00,72.03 L596.50,71.87 L597.00,71.72 L597.50,71.58 L598.00,71.45 L598.50,71.34 L599.00,71.24 L599.50,71.15 L600.00,71.06 L600.50,70.99 L601.00,70.93 L601.50,70.87 L602.00,70.82 L602.50,70.78 L603.00,70.74 L603.50,70.71 L604.00,70.69 L604.50,70.67 L605.00,70.65 L605.50,70.64 L606.00,70.63 L606.50,70.62 L607.00,70.61 L607.50,70.61 L608.00,70.60 L608.50,70.60 L609.00,70.60 L609.50,70.60 L610.00,70.60 L610.50,70.60 L611.00,70.60 L611.50,70.60 L612.00,70.60 L612.50,70.60 L613.00,70.60 L613.50,70.60 L614.00,70.60 L614.50,70.60 L615.00,70.60 L615.50,70.61 L616.00,70.61 L616.50,70.62 L617.00,70.63 L617.50,70.64 L618.00,70.65 L618.50,70.67 L619.00,70.69 L619.50,70.72 L620.00,70.75 L620.50,70.79 L621.00,70.84 L621.50,70.89 L622.00,70.95 L622.50,71.01 L623.00,71.09 L623.50,71.17 L624.00,71.27 L624.50,71.37 L625.00,71.49 L625.50,71.62 L626.00,71.76 L626.50,71.91 L627.00,72.08 L627.50,72.26 L628.00,72.45 L628.50,72.66 L629.00,72.88 L629.50,73.12 L630.00,73.37 L630.50,73.64 L631.00,73.93 L631.50,74.22 L632.00,74.54 L632.50,74.87 L633.00,75.22 L633.50,75.58 L634.00,75.95 L634.50,76.34 L635.00,76.75 L635.50,76.83 L636.00,76.42 L636.50,76.03 L637.00,75.65 L637.50,75.29 L638.00,74.94 L638.50,74.60 L639.00,74.29 L639.50,73.98 L640.00,73.70 L640.50,73.43 L641.00,73.17 L641.50,72.93 L642.00,72.70 L642.50,72.49 L643.00,72.30 L643.50,72.11 L644.00,71.94 L644.50,71.79 L645.00,71.65 L645.50,71.52 L646.00,71.40 L646.50,71.29 L647.00,71.19 L647.50,71.10 L648.00,71.03 L648.50,70.96 L649.00,70.90 L649.50,70.85 L650.00,70.80 L650.50,70.76 L651.00,70.73 L651.50,70.70 L652.00,70.68 L652.50,70.66 L653.00,70.64 L653.50,70.63 L654.00,70.62 L654.50,70.61 L655.00,70.61 L655.50,70.61 L656.00,70.60 L656.50,70.60 L657.00,70.60 L657.50,70.60 L658.00,70.60 L658.50,70.60 L659.00,70.60 L659.50,70.60 L660.00,70.60 L660.50,70.60 L661.00,70.60 L661.50,70.60 L662.00,70.60 L662.50,70.60 L663.00,70.61 L663.50,70.61 L664.00,70.62 L664.50,70.62 L665.00,70.63 L665.50,70.65 L666.00,70.66 L666.50,70.68 L667.00,70.71 L667.50,70.74 L668.00,70.77 L668.50,70.81 L669.00,70.86 L669.50,70.92 L670.00,70.98 L670.50,71.05 L671.00,71.13 L671.50,71.22 L672.00,71.32 L672.00,173.16 L671.50,173.24 L671.00,173.30 L670.50,173.36 L670.00,173.42 L669.50,173.46 L669.00,173.50 L668.50,173.54 L668.00,173.57 L667.50,173.60 L667.00,173.62 L666.50,173.64 L666.00,173.65 L665.50,173.67 L665.00,173.67 L664.50,173.68 L664.00,173.69 L663.50,173.69 L663.00,173.70 L662.50,173.70 L662.00,173.70 L661.50,173.70 L661.00,173.70 L660.50,173.70 L660.00,173.70 L659.50,173.70 L659.00,173.70 L658.50,173.70 L658.00,173.70 L657.50,173.70 L657.00,173.70 L656.50,173.70 L656.00,173.70 L655.50,173.70 L655.00,173.69 L654.50,173.69 L654.00,173.68 L653.50,173.68 L653.00,173.67 L652.50,173.66 L652.00,173.64 L651.50,173.63 L651.00,173.60 L650.50,173.58 L650.00,173.55 L649.50,173.52 L649.00,173.48 L648.50,173.43 L648.00,173.38 L647.50,173.32 L647.00,173.26 L646.50,173.18 L646.00,173.10 L645.50,173.01 L645.00,172.92 L644.50,172.81 L644.00,172.69 L643.50,172.56 L643.00,172.43 L642.50,172.28 L642.00,172.12 L641.50,171.95 L641.00,171.77 L640.50,171.58 L640.00,171.38 L639.50,171.16 L639.00,170.94 L638.50,170.70 L638.00,170.45 L637.50,170.18 L637.00,169.91 L636.50,169.63 L636.00,169.33 L635.50,169.03 L635.00,169.09 L634.50,169.39 L634.00,169.69 L633.50,169.97 L633.00,170.24 L632.50,170.50 L632.00,170.75 L631.50,170.98 L631.00,171.21 L630.50,171.42 L630.00,171.62 L629.50,171.81 L629.00,171.99 L628.50,172.15 L628.00,172.31 L627.50,172.46 L627.00,172.59 L626.50,172.72 L626.00,172.83 L625.50,172.94 L625.00,173.03 L624.50,173.12 L624.00,173.20 L623.50,173.27 L623.00,173.33 L622.50,173.39 L622.00,173.44 L621.50,173.48 L621.00,173.52 L620.50,173.56 L620.00,173.58 L619.50,173.61 L619.00,173.63 L618.50,173.65 L618.00,173.66 L617.50,173.67 L617.00,173.68 L616.50,173.69 L616.00,173.69 L615.50,173.69 L615.00,173.70 L614.50,173.70 L614.00,173.70 L613.50,173.70 L613.00,173.70 L612.50,173.70 L612.00,173.70 L611.50,173.70 L611.00,173.70 L610.50,173.70 L610.00,173.70 L609.50,173.70 L609.00,173.70 L608.50,173.70 L608.00,173.70 L607.50,173.69 L607.00,173.69 L606.50,173.69 L606.00,173.68 L605.50,173.67 L605.00,173.66 L604.50,173.65 L604.00,173.63 L603.50,173.62 L603.00,173.59 L602.50,173.57 L602.00,173.53 L601.50,173.50 L601.00,173.45 L600.50,173.41 L600.00,173.35 L599.50,173.29 L599.00,173.22 L598.50,173.14 L598.00,173.06 L597.50,172.97 L597.00,172.86 L596.50,172.75 L596.00,172.63 L595.50,172.50 L595.00,172.36 L594.50,172.20 L594.00,172.04 L593.50,171.86 L593.00,171.68 L592.50,171.48 L592.00,171.27 L591.50,171.05 L591.00,170.82 L590.50,170.57 L590.00,170.32 L589.50,170.05 L589.00,169.77 L588.50,169.48 L588.00,169.18 L587.50,168.93 L587.00,169.24 L586.50,169.54 L586.00,169.83 L585.50,170.10 L585.00,170.37 L584.50,170.62 L584.00,170.86 L583.50,171.10 L583.00,171.31 L582.50,171.52 L582.00,171.72 L581.50,171.90 L581.00,172.07 L580.50,172.23 L580.00,172.38 L579.50,172.52 L579.00,172.65 L578.50,172.77 L578.00,172.88 L577.50,172.99 L577.00,173.08 L576.50,173.16 L576.00,173.24 L575.50,173.30 L575.00,173.36 L574.50,173.42 L574.00,173.46 L573.50,173.50 L573.00,173.54 L572.50,173.57 L572.00,173.60 L571.50,173.62 L571.00,173.64 L570.50,173.65 L570.00,173.67 L569.50,173.67 L569.00,173.68 L568.50,173.69 L568.00,173.69 L567.50,173.70 L567.00,173.70 L566.50,173.70 L566.00,173.70 L565.50,173.70 L565.00,173.70 L564.50,173.70 L564.00,173.70 L563.50,173.70 L563.00,173.70 L562.50,173.70 L562.00,173.70 L561.50,173.70 L561.00,173.70 L560.50,173.70 L560.00,173.70 L559.50,173.69 L559.00,173.69 L558.50,173.68 L558.00,173.68 L557.50,173.67 L557.00,173.66 L556.50,173.64 L556.00,173.63 L555.50,173.60 L555.00,173.58 L554.50,173.55 L554.00,173.52 L553.50,173.48 L553.00,173.43 L552.50,173.38 L552.00,173.32 L551.50,173.26 L551.00,173.18 L550.50,173.10 L550.00,173.01 L549.50,172.92 L549.00,172.81 L548.50,172.69 L548.00,172.56 L547.50,172.43 L547.00,172.28 L546.50,172.12 L546.00,171.95 L545.50,171.77 L545.00,171.58 L544.50,171.38 L544.00,171.16 L543.50,170.94 L543.00,170.70 L542.50,170.45 L542.00,170.18 L541.50,169.91 L541.00,169.63 L540.50,169.33 L540.00,169.03 L539.50,169.09 L539.00,169.39 L538.50,169.69 L538.00,169.97 L537.50,170.24 L537.00,170.50 L536.50,170.75 L536.00,170.98 L535.50,171.21 L535.00,171.42 L534.50,171.62 L534.00,171.81 L533.50,171.99 L533.00,172.15 L532.50,172.31 L532.00,172.46 L531.50,172.59 L531.00,172.72 L530.50,172.83 L530.00,172.94 L529.50,173.03 L529.00,173.12 L528.50,173.20 L528.00,173.27 L527.50,173.33 L527.00,173.39 L526.50,173.44 L526.00,173.48 L525.50,173.52 L525.00,173.56 L524.50,173.58 L524.00,173.61 L523.50,173.63 L523.00,173.65 L522.50,173.66 L522.00,173.67 L521.50,173.68 L521.00,173.69 L520.50,173.69 L520.00,173.69 L519.50,173.70 L519.00,173.70 L518.50,173.70 L518.00,173.70 L517.50,173.70 L517.00,173.70 L516.50,173.70 L516.00,173.70 L515.50,173.70 L515.00,173.70 L514.50,173.70 L514.00,173.70 L513.50,173.70 L513.00,173.70 L512.50,173.70 L512.00,173.69 L511.50,173.69 L511.00,173.69 L510.50,173.68 L510.00,173.67 L509.50,173.66 L509.00,173.65 L508.50,173.63 L508.00,173.62 L507.50,173.59 L507.00,173.57 L506.50,173.53 L506.00,173.50 L505.50,173.45 L505.00,173.41 L504.50,173.35 L504.00,173.29 L503.50,173.22 L503.00,173.14 L502.50,173.06 L502.00,172.97 L501.50,172.86 L501.00,172.75 L500.50,172.63 L500.00,172.50 L499.50,172.36 L499.00,172.20 L498.50,172.04 L498.00,171.86 L497.50,171.68 L497.00,171.48 L496.50,171.27 L496.00,171.05 L495.50,170.82 L495.00,170.57 L494.50,170.32 L494.00,170.05 L493.50,169.77 L493.00,169.48 L492.50,169.18 L492.00,168.93 L491.50,169.24 L491.00,169.54 L490.50,169.83 L490.00,170.10 L489.50,170.37 L489.00,170.62 L488.50,170.86 L488.00,171.10 L487.50,171.31 L487.00,171.52 L486.50,171.72 L486.00,171.90 L485.50,172.07 L485.00,172.23 L484.50,172.38 L484.00,172.52 L483.50,172.65 L483.00,172.77 L482.50,172.88 L482.00,172.99 L481.50,173.08 L481.00,173.16 L480.50,173.24 L480.00,173.30 L479.50,173.36 L479.00,173.42 L478.50,173.46 L478.00,173.50 L477.50,173.54 L477.00,173.57 L476.50,173.60 L476.00,173.62 L475.50,173.64 L475.00,173.65 L474.50,173.67 L474.00,173.67 L473.50,173.68 L473.00,173.69 L472.50,173.69 L472.00,173.70 L471.50,173.70 L471.00,173.70 L470.50,173.70 L470.00,173.70 L469.50,173.70 L469.00,173.70 L468.50,173.70 L468.00,173.70 L467.50,173.70 L467.00,173.70 L466.50,173.70 L466.00,173.70 L465.50,173.70 L465.00,173.70 L464.50,173.70 L464.00,173.69 L463.50,173.69 L463.00,173.68 L462.50,173.68 L462.00,173.67 L461.50,173.66 L461.00,173.64 L460.50,173.63 L460.00,173.60 L459.50,173.58 L459.00,173.55 L458.50,173.52 L458.00,173.48 L457.50,173.43 L457.00,173.38 L456.50,173.32 L456.00,173.26 L455.50,173.18 L455.00,173.10 L454.50,173.01 L454.00,172.92 L453.50,172.81 L453.00,172.69 L452.50,172.56 L452.00,172.43 L451.50,172.28 L451.00,172.12 L450.50,171.95 L450.00,171.77 L449.50,171.58 L449.00,171.38 L448.50,171.16 L448.00,170.94 L447.50,170.70 L447.00,170.45 L446.50,170.18 L446.00,169.91 L445.50,169.63 L445.00,169.33 L444.50,169.03 L444.00,169.09 L443.50,169.39 L443.00,169.69 L442.50,169.97 L442.00,170.24 L441.50,170.50 L441.00,170.75 L440.50,170.98 L440.00,171.21 L439.50,171.42 L439.00,171.62 L438.50,171.81 L438.00,171.99 L437.50,172.15 L437.00,172.31 L436.50,172.46 L436.00,172.59 L435.50,172.72 L435.00,172.83 L434.50,172.94 L434.00,173.03Z" fill="#ff0000"/>
<line x1="434.0" y1="3.7" x2="434.0" y2="261.3" stroke="#e00000" stroke-width="2"/>
<line x1="434.0" y1="3.7" x2="434.0" y2="171" stroke="#1a1ae6" stroke-width="2.2"/>
<line x1="434.0" y1="79.9" x2="672.1" y2="79.9" stroke="#2800c8" stroke-width="2"/>
</g>
<line x1="148.4" y1="24.8" x2="209.6" y2="24.8" stroke="#ff0000" stroke-width="1.7"/>
<line x1="148.4" y1="50.9" x2="209.6" y2="50.9" stroke="#0000ff" stroke-width="1.7"/>
<text transform="translate(214.50,33.30) scale(1.1880,1)" font-family='"Liberation Sans", sans-serif' font-weight="normal" font-style="normal" font-size="19.8" fill="#262626" >Δ</text>
<text transform="translate(237.34,33.30) scale(0.9980,1)" font-family='"Liberation Sans", sans-serif' font-weight="normal" font-style="normal" font-size="19.8" fill="#262626" >=</text>
<text transform="translate(253.84,33.30) scale(1.1998,1)" font-family='"Liberation Sans", sans-serif' font-weight="normal" font-style="normal" font-size="19.8" fill="#262626" >-</text>
<text transform="translate(265.88,33.30) scale(1.0607,1)" font-family='"Liberation Sans", sans-serif' font-weight="normal" font-style="normal" font-size="19.8" fill="#262626" >0.32</text>
<text transform="translate(214.50,60.80) scale(1.1880,1)" font-family='"Liberation Sans", sans-serif' font-weight="normal" font-style="normal" font-size="19.8" fill="#262626" >Δ</text>
<text transform="translate(237.34,60.80) scale(0.9980,1)" font-family='"Liberation Sans", sans-serif' font-weight="normal" font-style="normal" font-size="19.8" fill="#262626" >=</text>
<text transform="translate(254.98,60.80) scale(1.0607,1)" font-family='"Liberation Sans", sans-serif' font-weight="normal" font-style="normal" font-size="19.8" fill="#262626" >0.32</text>
<text transform="translate(305.65,33.30) scale(1.0607,1)" font-family='"Liberation Serif", serif' font-weight="normal" font-style="italic" font-size="20.8" fill="#5a5a5a" >δ</text>
<text transform="translate(294.45,60.80) scale(1.0607,1)" font-family='"Liberation Serif", serif' font-weight="normal" font-style="italic" font-size="20.8" fill="#5a5a5a" >δ</text>
<line x1="489.9" y1="24.8" x2="551.1" y2="24.8" stroke="#ff0000" stroke-width="1.7"/>
<line x1="489.9" y1="50.9" x2="551.1" y2="50.9" stroke="#0000ff" stroke-width="1.7"/>
<text transform="translate(556.00,33.30) scale(1.1880,1)" font-family='"Liberation Sans", sans-serif' font-weight="normal" font-style="normal" font-size="19.8" fill="#262626" >Δ</text>
<text transform="translate(578.84,33.30) scale(0.9980,1)" font-family='"Liberation Sans", sans-serif' font-weight="normal" font-style="normal" font-size="19.8" fill="#262626" >=</text>
<text transform="translate(595.34,33.30) scale(1.1998,1)" font-family='"Liberation Sans", sans-serif' font-weight="normal" font-style="normal" font-size="19.8" fill="#262626" >-</text>
<text transform="translate(607.38,33.30) scale(1.0607,1)" font-family='"Liberation Sans", sans-serif' font-weight="normal" font-style="normal" font-size="19.8" fill="#262626" >0.32</text>
<text transform="translate(556.00,60.80) scale(1.1880,1)" font-family='"Liberation Sans", sans-serif' font-weight="normal" font-style="normal" font-size="19.8" fill="#262626" >Δ</text>
<text transform="translate(578.84,60.80) scale(0.9980,1)" font-family='"Liberation Sans", sans-serif' font-weight="normal" font-style="normal" font-size="19.8" fill="#262626" >=</text>
<text transform="translate(596.48,60.80) scale(1.0607,1)" font-family='"Liberation Sans", sans-serif' font-weight="normal" font-style="normal" font-size="19.8" fill="#262626" >0.32</text>
<text transform="translate(647.15,33.30) scale(1.0607,1)" font-family='"Liberation Serif", serif' font-weight="normal" font-style="italic" font-size="20.8" fill="#5a5a5a" >δ</text>
<text transform="translate(635.95,60.80) scale(1.0607,1)" font-family='"Liberation Serif", serif' font-weight="normal" font-style="italic" font-size="20.8" fill="#5a5a5a" >δ</text>
<text transform="translate(84.14,291.00)" font-family='"Liberation Sans", sans-serif' font-weight="normal" font-style="normal" font-size="23.4" fill="#262626" >0</text>
<text transform="translate(192.12,291.20)" font-family='"Liberation Sans", sans-serif' font-weight="normal" font-style="normal" font-size="23.4" fill="#262626" >0.5</text>
<text transform="translate(320.37,291.00)" font-family='"Liberation Sans", sans-serif' font-weight="normal" font-style="normal" font-size="23.4" fill="#262626" >1</text>
<text transform="translate(427.59,291.00)" font-family='"Liberation Sans", sans-serif' font-weight="normal" font-style="normal" font-size="23.4" fill="#262626" >0</text>
<text transform="translate(546.22,291.00)" font-family='"Liberation Sans", sans-serif' font-weight="normal" font-style="normal" font-size="23.4" fill="#262626" >5</text>
<text transform="translate(658.85,291.00)" font-family='"Liberation Sans", sans-serif' font-weight="normal" font-style="normal" font-size="23.4" fill="#262626" >10</text>
<text transform="translate(71.00,83.90)" font-family='"Liberation Sans", sans-serif' font-weight="normal" font-style="normal" font-size="23.4" fill="#262626" >0</text>
<text transform="translate(43.96,169.90)" font-family='"Liberation Sans", sans-serif' font-weight="normal" font-style="normal" font-size="23.4" fill="#262626" >-0.2</text>
<text transform="translate(43.46,257.10)" font-family='"Liberation Sans", sans-serif' font-weight="normal" font-style="normal" font-size="23.4" fill="#262626" >-0.4</text>
<text transform="translate(414.30,83.90)" font-family='"Liberation Sans", sans-serif' font-weight="normal" font-style="normal" font-size="23.4" fill="#262626" >0</text>
<text transform="translate(387.26,169.90)" font-family='"Liberation Sans", sans-serif' font-weight="normal" font-style="normal" font-size="23.4" fill="#262626" >-0.2</text>
<text transform="translate(386.76,257.10)" font-family='"Liberation Sans", sans-serif' font-weight="normal" font-style="normal" font-size="23.4" fill="#262626" >-0.4</text>
<text transform="translate(155.54,324.50) scale(1.0079,1)" font-family='"Liberation Sans", sans-serif' font-weight="normal" font-style="normal" font-size="24.7" fill="#262626" >Time (ms)</text>
<text transform="translate(508.96,324.60) scale(0.9823,1)" font-family='"Liberation Sans", sans-serif' font-weight="normal" font-style="normal" font-size="24.7" fill="#262626" >Time (s)</text>
<g transform="translate(0,0)" fill="none" stroke="#6a6a6a" stroke-width="1.7" stroke-linecap="round" stroke-linejoin="round"><path d="M7.6,188.8 L10.8,185.4"/><path d="M13.3,182.2 C14,184.5 15,186.6 16.6,186.2 C18,185.8 19,183.6 20.8,183.6 C22.3,183.6 23.4,184.6 23.8,185.8"/><path d="M7.8,193.6 C8.6,195.6 10.6,196 12.2,195.6 C14,195.1 15.2,193.4 15.6,191.6"/><path d="M20.2,194.4 L23.8,189.6"/><path d="M10.6,181.4 L11.2,181.0" stroke-width="1.2" opacity="0.6"/></g>
<g transform="translate(24.5,0) rotate(-90)"><text transform="translate(-179.76,0.00) scale(1.0189,1)" font-family='"Liberation Sans", sans-serif' font-weight="normal" font-style="normal" font-size="24.2" fill="#262626" >[</text></g>
<g transform="translate(24.5,0) rotate(-90)"><text transform="translate(-171.33,0.00) scale(1.0182,1)" font-family='"Liberation Serif", serif' font-weight="normal" font-style="italic" font-size="24.2" fill="#262626" >σ</text></g>
<g transform="translate(24.5,0) rotate(-90)"><text transform="translate(-156.73,11.50) scale(1.0673,1)" font-family='"Liberation Sans", sans-serif' font-weight="normal" font-style="normal" font-size="18.5" fill="#262626" >gr</text></g>
<g transform="translate(24.5,0) rotate(-90)"><text transform="translate(-137.69,0.00) scale(1.0189,1)" font-family='"Liberation Sans", sans-serif' font-weight="normal" font-style="normal" font-size="24.2" fill="#262626" >]</text></g>
<g transform="translate(24.5,0) rotate(-90)"><text transform="translate(-123.83,0.00) scale(1.0107,1)" font-family='"Liberation Sans", sans-serif' font-weight="normal" font-style="normal" font-size="24.4" fill="#262626" >(a.u.)</text></g>
<g transform="translate(343.3,0)" fill="none" stroke="#6a6a6a" stroke-width="1.7" stroke-linecap="round" stroke-linejoin="round"><path d="M7.6,188.8 L10.8,185.4"/><path d="M13.3,182.2 C14,184.5 15,186.6 16.6,186.2 C18,185.8 19,183.6 20.8,183.6 C22.3,183.6 23.4,184.6 23.8,185.8"/><path d="M7.8,193.6 C8.6,195.6 10.6,196 12.2,195.6 C14,195.1 15.2,193.4 15.6,191.6"/><path d="M20.2,194.4 L23.8,189.6"/><path d="M10.6,181.4 L11.2,181.0" stroke-width="1.2" opacity="0.6"/></g>
<g transform="translate(367.8,0) rotate(-90)"><text transform="translate(-179.76,0.00) scale(1.0189,1)" font-family='"Liberation Sans", sans-serif' font-weight="normal" font-style="normal" font-size="24.2" fill="#262626" >[</text></g>
<g transform="translate(367.8,0) rotate(-90)"><text transform="translate(-171.33,0.00) scale(1.0182,1)" font-family='"Liberation Serif", serif' font-weight="normal" font-style="italic" font-size="24.2" fill="#262626" >σ</text></g>
<g transform="translate(367.8,0) rotate(-90)"><text transform="translate(-156.73,11.50) scale(1.0673,1)" font-family='"Liberation Sans", sans-serif' font-weight="normal" font-style="normal" font-size="18.5" fill="#262626" >gr</text></g>
<g transform="translate(367.8,0) rotate(-90)"><text transform="translate(-137.69,0.00) scale(1.0189,1)" font-family='"Liberation Sans", sans-serif' font-weight="normal" font-style="normal" font-size="24.2" fill="#262626" >]</text></g>
<g transform="translate(367.8,0) rotate(-90)"><text transform="translate(-123.83,0.00) scale(1.0107,1)" font-family='"Liberation Sans", sans-serif' font-weight="normal" font-style="normal" font-size="24.4" fill="#262626" >(a.u.)</text></g>
<defs><clipPath id="cc"><rect x="89.6" y="355.5" width="577.1999999999999" height="424.6"/></clipPath></defs>
<line x1="131.00" y1="355.5" x2="131.00" y2="780.1" stroke="#dfdfdf" stroke-width="1"/>
<line x1="236.08" y1="355.5" x2="236.08" y2="780.1" stroke="#dfdfdf" stroke-width="1"/>
<line x1="341.16" y1="355.5" x2="341.16" y2="780.1" stroke="#dfdfdf" stroke-width="1"/>
<line x1="446.24" y1="355.5" x2="446.24" y2="780.1" stroke="#dfdfdf" stroke-width="1"/>
<line x1="551.32" y1="355.5" x2="551.32" y2="780.1" stroke="#dfdfdf" stroke-width="1"/>
<line x1="656.40" y1="355.5" x2="656.40" y2="780.1" stroke="#dfdfdf" stroke-width="1"/>
<line x1="89.6" y1="426.27" x2="666.8" y2="426.27" stroke="#dfdfdf" stroke-width="1"/>
<line x1="89.6" y1="497.04" x2="666.8" y2="497.04" stroke="#dfdfdf" stroke-width="1"/>
<line x1="89.6" y1="567.81" x2="666.8" y2="567.81" stroke="#dfdfdf" stroke-width="1"/>
<line x1="89.6" y1="638.58" x2="666.8" y2="638.58" stroke="#dfdfdf" stroke-width="1"/>
<line x1="89.6" y1="709.35" x2="666.8" y2="709.35" stroke="#dfdfdf" stroke-width="1"/>
<rect x="89.6" y="355.5" width="577.1999999999999" height="424.6" fill="none" stroke="#404040" stroke-width="1.5"/>
<line x1="131.00" y1="780.1" x2="131.00" y2="776.1" stroke="#404040" stroke-width="1"/>
<line x1="131.00" y1="355.5" x2="131.00" y2="359.5" stroke="#404040" stroke-width="1"/>
<line x1="236.08" y1="780.1" x2="236.08" y2="776.1" stroke="#404040" stroke-width="1"/>
<line x1="236.08" y1="355.5" x2="236.08" y2="359.5" stroke="#404040" stroke-width="1"/>
<line x1="341.16" y1="780.1" x2="341.16" y2="776.1" stroke="#404040" stroke-width="1"/>
<line x1="341.16" y1="355.5" x2="341.16" y2="359.5" stroke="#404040" stroke-width="1"/>
<line x1="446.24" y1="780.1" x2="446.24" y2="776.1" stroke="#404040" stroke-width="1"/>
<line x1="446.24" y1="355.5" x2="446.24" y2="359.5" stroke="#404040" stroke-width="1"/>
<line x1="551.32" y1="780.1" x2="551.32" y2="776.1" stroke="#404040" stroke-width="1"/>
<line x1="551.32" y1="355.5" x2="551.32" y2="359.5" stroke="#404040" stroke-width="1"/>
<line x1="656.40" y1="780.1" x2="656.40" y2="776.1" stroke="#404040" stroke-width="1"/>
<line x1="656.40" y1="355.5" x2="656.40" y2="359.5" stroke="#404040" stroke-width="1"/>
<line x1="89.6" y1="355.50" x2="93.6" y2="355.50" stroke="#404040" stroke-width="1"/>
<line x1="666.8" y1="355.50" x2="662.8" y2="355.50" stroke="#404040" stroke-width="1"/>
<line x1="89.6" y1="426.27" x2="93.6" y2="426.27" stroke="#404040" stroke-width="1"/>
<line x1="666.8" y1="426.27" x2="662.8" y2="426.27" stroke="#404040" stroke-width="1"/>
<line x1="89.6" y1="497.04" x2="93.6" y2="497.04" stroke="#404040" stroke-width="1"/>
<line x1="666.8" y1="497.04" x2="662.8" y2="497.04" stroke="#404040" stroke-width="1"/>
<line x1="89.6" y1="567.81" x2="93.6" y2="567.81" stroke="#404040" stroke-width="1"/>
<line x1="666.8" y1="567.81" x2="662.8" y2="567.81" stroke="#404040" stroke-width="1"/>
<line x1="89.6" y1="638.58" x2="93.6" y2="638.58" stroke="#404040" stroke-width="1"/>
<line x1="666.8" y1="638.58" x2="662.8" y2="638.58" stroke="#404040" stroke-width="1"/>
<line x1="89.6" y1="709.35" x2="93.6" y2="709.35" stroke="#404040" stroke-width="1"/>
<line x1="666.8" y1="709.35" x2="662.8" y2="709.35" stroke="#404040" stroke-width="1"/>
<line x1="89.6" y1="780.12" x2="93.6" y2="780.12" stroke="#404040" stroke-width="1"/>
<line x1="666.8" y1="780.12" x2="662.8" y2="780.12" stroke="#404040" stroke-width="1"/>
<g clip-path="url(#cc)">
<path d="M89.1,727.4 89.6,724.4 90.1,724.4 90.6,727.9 91.1,727.2 91.6,727.4 92.1,724.9 92.6,725.9 93.1,723.9 93.6,729.1 94.1,721.6 94.6,724.8 95.1,722.8 95.6,724.2 96.1,724.3 96.6,722.1 97.1,721.0 97.6,722.7 98.1,722.2 98.6,719.9 99.1,722.7 99.6,723.6 100.1,718.9 100.6,720.6 101.1,722.7 101.6,719.7 102.1,718.2 102.6,719.1 103.1,718.9 103.6,714.9 104.1,712.2 104.6,713.7 105.1,713.8 105.6,710.4 106.1,708.6 106.6,709.6 107.1,706.6 107.6,704.3 108.1,705.5 108.6,705.4 109.1,701.3 109.6,699.9 110.1,696.3 110.6,699.4 111.1,696.0 111.6,694.1 112.1,693.6 112.6,687.0 113.1,683.2 113.6,682.7 114.1,674.6 114.6,671.9 115.1,667.8 115.6,663.2 116.1,656.0 116.6,653.6 117.1,640.5 117.6,628.6 118.1,615.7 118.6,600.6 119.1,603.4 119.6,606.5 120.1,627.3 120.6,638.1 121.1,646.0 121.6,655.5 122.1,658.1 122.6,664.4 123.1,667.4 123.6,673.3 124.1,673.2 124.6,677.2 125.1,681.7 125.6,682.5 126.1,683.4 126.6,684.4 127.1,693.6 127.6,690.2 128.1,692.8 128.6,695.7 129.1,699.1 129.6,695.7 130.1,702.5 130.6,699.8 131.1,699.5 131.6,706.8 132.1,705.1 132.6,708.3 133.1,706.0 133.6,704.2 134.1,704.0 134.6,712.9 135.1,711.1 135.6,709.2 136.1,708.0 136.6,711.2 137.1,714.3 137.6,712.7 138.1,714.0 138.6,715.0 139.1,716.6 139.6,714.8 140.1,715.4 140.6,716.8 141.1,717.5 141.6,720.2 142.1,718.9 142.6,715.7 143.1,719.0 143.6,722.1 144.1,716.5 144.6,718.5 145.1,715.5 145.6,720.2 146.1,721.6 146.6,723.9 147.1,718.3 147.6,715.9 148.1,723.4 148.6,723.2 149.1,720.8 149.6,724.1 150.1,723.1 150.6,723.4 151.1,722.5 151.6,720.7 152.1,723.2 152.6,721.5 153.1,724.5 153.6,723.0 154.1,728.4 154.6,710.9 155.1,722.4 155.6,725.5 156.1,723.1 156.6,723.3 157.1,721.8 157.6,723.0 158.1,722.7 158.6,725.1 159.1,726.5 159.6,726.6 160.1,726.2 160.6,727.7 161.1,726.5 161.6,725.6 162.1,724.9 162.6,726.3 163.1,729.7 163.6,725.8 164.1,725.2 164.6,723.5 165.1,724.6 165.6,727.2 166.1,727.5 166.6,721.7 167.1,724.4 167.6,722.2 168.1,721.6 168.6,727.9 169.1,725.3 169.6,725.2 170.1,725.0 170.6,725.1 171.1,725.8 171.6,725.9 172.1,729.5 172.6,726.7 173.1,727.9 173.6,726.1 174.1,727.4 174.6,725.1 175.1,724.7 175.6,725.7 176.1,725.7 176.6,726.2 177.1,727.4 177.6,726.8 178.1,727.5 178.6,725.6 179.1,726.4 179.6,725.2 180.1,729.3 180.6,724.5 181.1,728.0 181.6,728.0 182.1,726.8 182.6,727.6 183.1,725.8 183.6,727.6 184.1,728.7 184.6,728.2 185.1,723.6 185.6,726.3 186.1,728.8 186.6,726.3 187.1,729.6 187.6,722.5 188.1,729.5 188.6,725.2 189.1,725.1 189.6,729.3 190.1,725.6 190.6,724.1 191.1,725.2 191.6,725.6 192.1,724.1 192.6,725.8 193.1,725.4 193.6,726.3 194.1,724.7 194.6,728.0 195.1,724.3 195.6,727.0 196.1,728.2 196.6,725.1 197.1,722.3 197.6,723.8 198.1,726.9 198.6,724.3 199.1,726.7 199.6,726.0 200.1,725.5 200.6,730.6 201.1,725.2 201.6,727.8 202.1,727.0 202.6,728.6 203.1,728.7 203.6,727.4 204.1,723.6 204.6,721.8 205.1,725.4 205.6,723.0 206.1,725.8 206.6,716.7 207.1,724.9 207.6,724.2 208.1,726.0 208.6,724.4 209.1,723.8 209.6,726.8 210.1,728.1 210.6,725.3 211.1,725.3 211.6,725.5 212.1,722.7 212.6,721.0 213.1,725.5 213.6,723.1 214.1,722.6 214.6,723.0 215.1,722.2 215.6,725.3 216.1,722.8 216.6,720.0 217.1,722.6 217.6,725.5 218.1,722.9 218.6,721.5 219.1,723.3 219.6,725.2 220.1,720.7 220.6,726.6 221.1,722.8 221.6,723.9 222.1,726.3 222.6,721.1 223.1,722.9 223.6,726.1 224.1,722.3 224.6,724.4 225.1,727.5 225.6,724.8 226.1,722.8 226.6,721.9 227.1,722.9 227.6,723.1 228.1,722.1 228.6,723.5 229.1,720.5 229.6,722.6 230.1,722.2 230.6,721.6 231.1,725.0 231.6,724.2 232.1,719.4 232.6,721.8 233.1,723.1 233.6,721.7 234.1,723.4 234.6,721.7 235.1,723.6 235.6,721.6 236.1,725.4 236.6,710.1 237.1,723.0 237.6,725.2 238.1,722.3 238.6,722.5 239.1,721.4 239.6,724.0 240.1,720.7 240.6,713.8 241.1,724.1 241.6,720.6 242.1,721.9 242.6,720.8 243.1,725.0 243.6,723.5 244.1,720.0 244.6,721.0 245.1,717.4 245.6,722.2 246.1,720.3 246.6,714.4 247.1,722.1 247.6,722.4 248.1,720.4 248.6,720.4 249.1,718.4 249.6,719.9 250.1,721.7 250.6,719.5 251.1,714.3 251.6,717.1 252.1,725.6 252.6,719.9 253.1,721.4 253.6,718.1 254.1,719.8 254.6,715.2 255.1,717.2 255.6,717.2 256.1,718.6 256.6,719.0 257.1,718.1 257.6,716.0 258.1,717.6 258.6,719.3 259.1,715.8 259.6,718.0 260.1,718.5 260.6,719.9 261.1,719.3 261.6,719.4 262.1,723.9 262.6,715.7 263.1,716.6 263.6,718.1 264.1,715.3 264.6,716.5 265.1,716.6 265.6,722.5 266.1,717.7 266.6,715.9 267.1,702.5 267.6,713.0 268.1,713.7 268.6,719.1 269.1,721.2 269.6,715.2 270.1,716.3 270.6,714.2 271.1,716.4 271.6,715.6 272.1,719.1 272.6,714.9 273.1,716.7 273.6,714.9 274.1,714.5 274.6,715.6 275.1,714.6 275.6,715.2 276.1,713.4 276.6,713.9 277.1,716.0 277.6,715.9 278.1,710.9 278.6,714.7 279.1,712.2 279.6,713.4 280.1,715.3 280.6,715.6 281.1,713.6 281.6,713.2 282.1,712.3 282.6,716.2 283.1,714.6 283.6,713.4 284.1,709.7 284.6,718.0 285.1,711.9 285.6,713.9 286.1,711.7 286.6,713.5 287.1,711.5 287.6,708.9 288.1,711.3 288.6,711.0 289.1,711.0 289.6,713.2 290.1,710.3 290.6,711.8 291.1,712.9 291.6,711.2 292.1,711.4 292.6,709.2 293.1,710.7 293.6,711.6 294.1,707.2 294.6,708.1 295.1,707.3 295.6,708.6 296.1,710.0 296.6,710.5 297.1,689.0 297.6,707.3 298.1,708.9 298.6,712.1 299.1,708.9 299.6,711.6 300.1,708.1 300.6,710.9 301.1,710.8 301.6,707.7 302.1,708.0 302.6,711.2 303.1,705.9 303.6,702.7 304.1,710.3 304.6,703.1 305.1,708.2 305.6,707.6 306.1,706.8 306.6,709.3 307.1,703.3 307.6,704.8 308.1,707.3 308.6,706.1 309.1,708.5 309.6,705.9 310.1,702.9 310.6,708.4 311.1,705.5 311.6,704.0 312.1,701.9 312.6,701.1 313.1,704.7 313.6,705.1 314.1,702.4 314.6,703.9 315.1,703.6 315.6,700.4 316.1,698.9 316.6,701.7 317.1,702.5 317.6,700.6 318.1,705.6 318.6,701.4 319.1,703.4 319.6,695.9 320.1,699.2 320.6,700.2 321.1,700.7 321.6,705.4 322.1,698.3 322.6,696.1 323.1,700.8 323.6,697.6 324.1,697.3 324.6,701.8 325.1,696.3 325.6,695.2 326.1,697.3 326.6,697.7 327.1,695.6 327.6,700.3 328.1,696.5 328.6,694.2 329.1,698.8 329.6,693.8 330.1,696.5 330.6,699.8 331.1,695.3 331.6,696.8 332.1,693.8 332.6,696.7 333.1,691.6 333.6,695.1 334.1,692.5 334.6,694.2 335.1,693.3 335.6,689.8 336.1,691.5 336.6,692.5 337.1,694.0 337.6,688.5 338.1,689.1 338.6,691.0 339.1,689.5 339.6,691.8 340.1,691.4 340.6,690.7 341.1,687.8 341.6,687.5 342.1,689.4 342.6,685.9 343.1,685.4 343.6,686.3 344.1,684.0 344.6,686.5 345.1,685.7 345.6,674.1 346.1,660.2 346.6,682.5 347.1,686.4 347.6,680.3 348.1,684.5 348.6,682.7 349.1,684.9 349.6,680.2 350.1,678.3 350.6,678.2 351.1,678.2 351.6,682.8 352.1,680.7 352.6,679.5 353.1,679.9 353.6,675.0 354.1,656.5 354.6,676.3 355.1,674.7 355.6,677.2 356.1,676.5 356.6,675.8 357.1,672.3 357.6,672.0 358.1,670.8 358.6,669.1 359.1,673.6 359.6,671.2 360.1,669.0 360.6,671.4 361.1,669.0 361.6,664.9 362.1,663.9 362.6,663.2 363.1,664.6 363.6,664.2 364.1,660.6 364.6,662.8 365.1,660.4 365.6,657.3 366.1,659.9 366.6,659.4 367.1,657.1 367.6,654.7 368.1,653.8 368.6,639.1 369.1,651.2 369.6,654.5 370.1,651.6 370.6,648.1 371.1,648.9 371.6,648.2 372.1,646.3 372.6,644.0 373.1,640.6 373.6,640.5 374.1,635.8 374.6,630.4 375.1,632.0 375.6,615.9 376.1,625.6 376.6,625.5 377.1,620.2 377.6,617.9 378.1,609.7 378.6,608.6 379.1,581.7 379.6,590.7 380.1,585.5 380.6,563.0 381.1,556.6 381.6,561.6 382.1,566.6 382.6,587.5 383.1,593.1 383.6,604.7 384.1,606.2 384.6,616.1 385.1,622.2 385.6,619.6 386.1,618.9 386.6,628.1 387.1,627.8 387.6,631.9 388.1,635.2 388.6,635.4 389.1,635.2 389.6,643.2 390.1,641.2 390.6,643.4 391.1,648.7 391.6,643.8 392.1,644.5 392.6,652.1 393.1,647.7 393.6,652.6 394.1,654.2 394.6,651.9 395.1,655.7 395.6,656.6 396.1,655.1 396.6,656.6 397.1,658.4 397.6,664.3 398.1,665.5 398.6,660.7 399.1,665.9 399.6,664.5 400.1,667.9 400.6,666.8 401.1,646.0 401.6,664.5 402.1,670.9 402.6,669.7 403.1,670.5 403.6,668.3 404.1,674.5 404.6,672.2 405.1,673.3 405.6,672.3 406.1,673.1 406.6,675.6 407.1,674.7 407.6,676.6 408.1,675.4 408.6,677.2 409.1,678.9 409.6,678.1 410.1,677.8 410.6,674.3 411.1,680.6 411.6,679.5 412.1,677.5 412.6,685.5 413.1,685.3 413.6,684.5 414.1,682.7 414.6,677.8 415.1,682.6 415.6,681.3 416.1,684.7 416.6,689.9 417.1,690.0 417.6,683.4 418.1,685.5 418.6,689.1 419.1,684.4 419.6,690.4 420.1,685.1 420.6,684.8 421.1,689.9 421.6,691.0 422.1,687.2 422.6,691.7 423.1,687.9 423.6,692.6 424.1,688.7 424.6,690.5 425.1,692.0 425.6,693.3 426.1,691.2 426.6,696.1 427.1,693.0 427.6,693.5 428.1,691.6 428.6,696.0 429.1,690.0 429.6,694.6 430.1,696.7 430.6,691.6 431.1,691.3 431.6,695.5 432.1,697.3 432.6,695.7 433.1,697.4 433.6,696.9 434.1,693.2 434.6,696.0 435.1,696.8 435.6,696.6 436.1,697.7 436.6,696.1 437.1,696.2 437.6,699.2 438.1,698.4 438.6,693.7 439.1,698.2 439.6,699.8 440.1,695.3 440.6,699.8 441.1,702.4 441.6,698.9 442.1,702.5 442.6,701.8 443.1,700.3 443.6,701.5 444.1,703.1 444.6,702.9 445.1,703.2 445.6,699.7 446.1,703.9 446.6,703.8 447.1,698.4 447.6,704.2 448.1,700.0 448.6,700.6 449.1,703.9 449.6,706.8 450.1,703.0 450.6,702.8 451.1,702.4 451.6,704.5 452.1,702.2 452.6,702.0 453.1,707.4 453.6,702.3 454.1,705.2 454.6,707.0 455.1,706.6 455.6,702.1 456.1,704.2 456.6,710.3 457.1,706.5 457.6,707.1 458.1,707.4 458.6,708.3 459.1,710.5 459.6,705.7 460.1,709.7 460.6,708.7 461.1,709.3 461.6,709.8 462.1,706.8 462.6,707.7 463.1,710.1 463.6,710.9 464.1,710.0 464.6,707.1 465.1,709.1 465.6,709.0 466.1,710.4 466.6,701.2 467.1,709.5 467.6,714.0 468.1,706.8 468.6,712.1 469.1,711.8 469.6,707.9 470.1,710.4 470.6,710.9 471.1,712.4 471.6,714.6 472.1,711.0 472.6,709.0 473.1,713.6 473.6,709.0 474.1,714.4 474.6,713.7 475.1,711.2 475.6,712.4 476.1,711.1 476.6,714.2 477.1,715.0 477.6,716.9 478.1,715.6 478.6,715.5 479.1,716.3 479.6,712.8 480.1,715.0 480.6,717.9 481.1,708.6 481.6,715.7 482.1,716.7 482.6,711.6 483.1,711.8 483.6,716.9 484.1,717.7 484.6,716.8 485.1,712.4 485.6,715.6 486.1,716.7 486.6,715.2 487.1,712.7 487.6,718.3 488.1,716.3 488.6,718.5 489.1,711.1 489.6,712.0 490.1,713.9 490.6,716.3 491.1,714.8 491.6,720.7 492.1,715.8 492.6,719.3 493.1,719.4 493.6,718.2 494.1,717.5 494.6,715.7 495.1,715.5 495.6,716.5 496.1,719.2 496.6,715.9 497.1,717.7 497.6,715.0 498.1,719.6 498.6,723.6 499.1,718.8 499.6,713.3 500.1,717.0 500.6,718.5 501.1,716.3 501.6,717.2 502.1,717.4 502.6,719.6 503.1,718.4 503.6,718.2 504.1,720.1 504.6,721.2 505.1,718.6 505.6,717.0 506.1,717.7 506.6,718.2 507.1,718.2 507.6,713.9 508.1,718.9 508.6,717.4 509.1,715.5 509.6,719.6 510.1,719.3 510.6,706.3 511.1,708.0 511.6,719.4 512.1,719.4 512.6,720.1 513.1,722.9 513.6,718.0 514.1,721.0 514.6,724.2 515.1,721.0 515.6,724.4 516.1,722.9 516.6,720.8 517.1,722.9 517.6,718.8 518.1,724.2 518.6,720.6 519.1,720.1 519.6,718.2 520.1,719.5 520.6,721.0 521.1,721.4 521.6,721.8 522.1,719.3 522.6,723.2 523.1,720.8 523.6,722.1 524.1,721.5 524.6,722.6 525.1,717.6 525.6,723.6 526.1,721.7 526.6,721.8 527.1,721.1 527.6,721.5 528.1,721.7 528.6,720.5 529.1,725.9 529.6,722.7 530.1,725.5 530.6,722.4 531.1,725.5 531.6,725.1 532.1,723.2 532.6,720.2 533.1,722.0 533.6,722.7 534.1,720.4 534.6,725.4 535.1,727.9 535.6,704.6 536.1,724.2 536.6,721.1 537.1,719.2 537.6,726.6 538.1,718.6 538.6,720.6 539.1,722.2 539.6,723.3 540.1,718.9 540.6,724.0 541.1,725.2 541.6,724.0 542.1,727.2 542.6,723.4 543.1,724.7 543.6,723.8 544.1,723.8 544.6,726.9 545.1,721.9 545.6,726.9 546.1,722.9 546.6,728.2 547.1,724.1 547.6,726.7 548.1,724.9 548.6,726.4 549.1,729.8 549.6,727.5 550.1,725.1 550.6,724.0 551.1,728.4 551.6,729.9 552.1,727.3 552.6,725.9 553.1,726.9 553.6,727.3 554.1,723.8 554.6,723.6 555.1,724.2 555.6,727.8 556.1,725.7 556.6,726.3 557.1,729.0 557.6,724.1 558.1,725.8 558.6,727.1 559.1,723.1 559.6,724.6 560.1,724.4 560.6,723.7 561.1,724.8 561.6,729.0 562.1,727.2 562.6,724.3 563.1,728.1 563.6,726.5 564.1,725.7 564.6,723.6 565.1,723.9 565.6,724.8 566.1,727.2 566.6,724.9 567.1,725.7 567.6,727.2 568.1,724.1 568.6,725.9 569.1,728.6 569.6,724.4 570.1,727.6 570.6,725.9 571.1,730.4 571.6,727.3 572.1,729.3 572.6,729.4 573.1,731.4 573.6,722.8 574.1,727.7 574.6,727.0 575.1,725.1 575.6,727.8 576.1,726.5 576.6,730.5 577.1,727.2 577.6,728.6 578.1,726.6 578.6,727.4 579.1,730.7 579.6,731.7 580.1,730.0 580.6,726.3 581.1,727.0 581.6,727.1 582.1,732.3 582.6,733.7 583.1,729.4 583.6,728.8 584.1,729.4 584.6,727.4 585.1,728.5 585.6,730.7 586.1,730.1 586.6,728.0 587.1,728.1 587.6,728.5 588.1,723.5 588.6,728.9 589.1,728.1 589.6,730.5 590.1,729.2 590.6,727.3 591.1,727.3 591.6,728.8 592.1,727.7 592.6,728.4 593.1,732.6 593.6,735.5 594.1,723.7 594.6,726.9 595.1,704.9 595.6,732.3 596.1,731.4 596.6,725.8 597.1,734.6 597.6,729.4 598.1,726.9 598.6,728.4 599.1,727.1 599.6,729.0 600.1,723.7 600.6,730.9 601.1,731.7 601.6,728.2 602.1,725.7 602.6,728.9 603.1,726.5 603.6,729.9 604.1,731.3 604.6,725.8 605.1,725.4 605.6,725.5 606.1,729.6 606.6,731.1 607.1,731.1 607.6,729.1 608.1,727.4 608.6,727.5 609.1,731.6 609.6,728.1 610.1,728.4 610.6,728.2 611.1,728.4 611.6,728.8 612.1,727.0 612.6,727.9 613.1,727.7 613.6,729.5 614.1,727.2 614.6,728.2 615.1,732.3 615.6,726.7 616.1,728.2 616.6,725.5 617.1,727.7 617.6,727.4 618.1,726.6 618.6,727.0 619.1,727.7 619.6,730.4 620.1,722.5 620.6,729.5 621.1,726.7 621.6,724.3 622.1,724.6 622.6,723.9 623.1,723.2 623.6,721.8 624.1,723.5 624.6,717.6 625.1,725.5 625.6,722.4 626.1,723.1 626.6,723.0 627.1,720.6 627.6,717.5 628.1,721.5 628.6,720.7 629.1,716.9 629.6,716.4 630.1,712.5 630.6,713.5 631.1,714.1 631.6,714.1 632.1,711.6 632.6,711.1 633.1,712.1 633.6,707.5 634.1,706.2 634.6,704.4 635.1,702.7 635.6,695.9 636.1,695.5 636.6,692.3 637.1,692.5 637.6,690.1 638.1,684.8 638.6,679.6 639.1,676.2 639.6,670.6 640.1,662.1 640.6,656.2 641.1,650.2 641.6,637.7 642.1,622.7 642.6,595.8 643.1,598.6 643.6,596.5 644.1,611.5 644.6,631.2 645.1,645.9 645.6,654.9 646.1,661.1 646.6,666.9 647.1,671.7 647.6,678.7 648.1,685.5 648.6,683.5 649.1,689.3 649.6,692.3 650.1,695.3 650.6,700.8 651.1,701.6 651.6,702.6 652.1,703.0 652.6,706.9 653.1,715.4 653.6,710.9 654.1,711.1 654.6,710.4 655.1,712.9 655.6,710.3 656.1,713.7 656.6,714.8 657.1,716.6 657.6,722.4 658.1,718.5 658.6,719.8 659.1,722.8 659.6,704.2 660.1,722.1 660.6,724.5 661.1,724.3 661.6,725.1 662.1,724.5 662.6,726.4 663.1,724.7 663.6,730.3 664.1,727.2 664.6,730.5 665.1,728.3 665.6,726.4 666.1,727.8 666.6,728.3 667.1,728.2 667.1,780.2 666.1,780.2 666.1,779.6 665.1,779.6 665.1,780.5 664.1,780.5 664.1,780.5 663.1,780.5 663.1,776.5 662.1,776.5 662.1,779.8 661.1,779.8 661.1,779.2 660.1,779.2 660.1,780.0 659.1,780.0 659.1,779.5 658.1,779.5 658.1,776.2 657.1,776.2 657.1,779.5 656.1,779.5 656.1,780.8 655.1,780.8 655.1,779.1 654.1,779.1 654.1,780.1 653.1,780.1 653.1,780.5 652.1,780.5 652.1,780.3 651.1,780.3 651.1,780.4 650.1,780.4 650.1,779.5 649.1,779.5 649.1,779.6 648.1,779.6 648.1,778.9 647.1,778.9 647.1,779.6 646.1,779.6 646.1,780.4 645.1,780.4 645.1,780.2 644.1,780.2 644.1,779.4 643.1,779.4 643.1,778.0 642.1,778.0 642.1,780.5 641.1,780.5 641.1,778.8 640.1,778.8 640.1,779.8 639.1,779.8 639.1,780.1 638.1,780.1 638.1,779.5 637.1,779.5 637.1,777.3 636.1,777.3 636.1,780.0 635.1,780.0 635.1,780.0 634.1,780.0 634.1,780.5 633.1,780.5 633.1,780.7 632.1,780.7 632.1,779.8 631.1,779.8 631.1,779.8 630.1,779.8 630.1,779.0 629.1,779.0 629.1,780.1 628.1,780.1 628.1,780.7 627.1,780.7 627.1,779.8 626.1,779.8 626.1,780.5 625.1,780.5 625.1,779.1 624.1,779.1 624.1,780.8 623.1,780.8 623.1,780.4 622.1,780.4 622.1,778.8 621.1,778.8 621.1,780.6 620.1,780.6 620.1,778.5 619.1,778.5 619.1,776.7 618.1,776.7 618.1,777.9 617.1,777.9 617.1,779.7 616.1,779.7 616.1,778.7 615.1,778.7 615.1,778.8 614.1,778.8 614.1,779.5 613.1,779.5 613.1,780.0 612.1,780.0 612.1,778.9 611.1,778.9 611.1,780.3 610.1,780.3 610.1,780.5 609.1,780.5 609.1,780.6 608.1,780.6 608.1,780.2 607.1,780.2 607.1,780.0 606.1,780.0 606.1,780.5 605.1,780.5 605.1,779.9 604.1,779.9 604.1,779.1 603.1,779.1 603.1,779.6 602.1,779.6 602.1,779.6 601.1,779.6 601.1,779.3 600.1,779.3 600.1,778.7 599.1,778.7 599.1,780.2 598.1,780.2 598.1,779.1 597.1,779.1 597.1,780.4 596.1,780.4 596.1,780.1 595.1,780.1 595.1,778.5 594.1,778.5 594.1,779.7 593.1,779.7 593.1,780.4 592.1,780.4 592.1,779.7 591.1,779.7 591.1,779.3 590.1,779.3 590.1,780.1 589.1,780.1 589.1,780.3 588.1,780.3 588.1,779.5 587.1,779.5 587.1,778.1 586.1,778.1 586.1,779.6 585.1,779.6 585.1,780.5 584.1,780.5 584.1,780.2 583.1,780.2 583.1,776.1 582.1,776.1 582.1,779.4 581.1,779.4 581.1,780.0 580.1,780.0 580.1,779.5 579.1,779.5 579.1,779.6 578.1,779.6 578.1,780.2 577.1,780.2 577.1,780.6 576.1,780.6 576.1,780.6 575.1,780.6 575.1,779.7 574.1,779.7 574.1,778.6 573.1,778.6 573.1,779.2 572.1,779.2 572.1,780.2 571.1,780.2 571.1,778.8 570.1,778.8 570.1,779.2 569.1,779.2 569.1,780.0 568.1,780.0 568.1,780.2 567.1,780.2 567.1,780.6 566.1,780.6 566.1,778.9 565.1,778.9 565.1,780.5 564.1,780.5 564.1,780.8 563.1,780.8 563.1,779.7 562.1,779.7 562.1,777.9 561.1,777.9 561.1,780.4 560.1,780.4 560.1,780.5 559.1,780.5 559.1,780.5 558.1,780.5 558.1,779.3 557.1,779.3 557.1,780.8 556.1,780.8 556.1,777.8 555.1,777.8 555.1,780.1 554.1,780.1 554.1,780.3 553.1,780.3 553.1,778.2 552.1,778.2 552.1,780.0 551.1,780.0 551.1,780.3 550.1,780.3 550.1,780.0 549.1,780.0 549.1,780.1 548.1,780.1 548.1,780.3 547.1,780.3 547.1,780.2 546.1,780.2 546.1,780.8 545.1,780.8 545.1,780.3 544.1,780.3 544.1,780.0 543.1,780.0 543.1,779.2 542.1,779.2 542.1,779.9 541.1,779.9 541.1,780.4 540.1,780.4 540.1,779.9 539.1,779.9 539.1,780.7 538.1,780.7 538.1,780.7 537.1,780.7 537.1,779.8 536.1,779.8 536.1,779.2 535.1,779.2 535.1,780.2 534.1,780.2 534.1,779.1 533.1,779.1 533.1,780.4 532.1,780.4 532.1,780.7 531.1,780.7 531.1,778.9 530.1,778.9 530.1,778.4 529.1,778.4 529.1,779.2 528.1,779.2 528.1,779.9 527.1,779.9 527.1,779.1 526.1,779.1 526.1,780.4 525.1,780.4 525.1,779.4 524.1,779.4 524.1,779.6 523.1,779.6 523.1,779.3 522.1,779.3 522.1,780.4 521.1,780.4 521.1,780.2 520.1,780.2 520.1,780.5 519.1,780.5 519.1,780.5 518.1,780.5 518.1,780.0 517.1,780.0 517.1,780.4 516.1,780.4 516.1,780.2 515.1,780.2 515.1,779.7 514.1,779.7 514.1,779.6 513.1,779.6 513.1,779.9 512.1,779.9 512.1,779.3 511.1,779.3 511.1,779.7 510.1,779.7 510.1,780.6 509.1,780.6 509.1,779.1 508.1,779.1 508.1,779.5 507.1,779.5 507.1,780.2 506.1,780.2 506.1,780.3 505.1,780.3 505.1,779.1 504.1,779.1 504.1,780.7 503.1,780.7 503.1,780.6 502.1,780.6 502.1,779.6 501.1,779.6 501.1,780.2 500.1,780.2 500.1,779.6 499.1,779.6 499.1,780.3 498.1,780.3 498.1,779.8 497.1,779.8 497.1,779.1 496.1,779.1 496.1,779.0 495.1,779.0 495.1,780.5 494.1,780.5 494.1,780.1 493.1,780.1 493.1,780.1 492.1,780.1 492.1,780.2 491.1,780.2 491.1,779.9 490.1,779.9 490.1,780.3 489.1,780.3 489.1,779.9 488.1,779.9 488.1,780.4 487.1,780.4 487.1,780.6 486.1,780.6 486.1,780.3 485.1,780.3 485.1,780.8 484.1,780.8 484.1,780.2 483.1,780.2 483.1,780.1 482.1,780.1 482.1,777.1 481.1,777.1 481.1,779.9 480.1,779.9 480.1,780.3 479.1,780.3 479.1,780.2 478.1,780.2 478.1,779.3 477.1,779.3 477.1,780.2 476.1,780.2 476.1,780.0 475.1,780.0 475.1,779.0 474.1,779.0 474.1,779.6 473.1,779.6 473.1,779.4 472.1,779.4 472.1,780.2 471.1,780.2 471.1,780.3 470.1,780.3 470.1,779.8 469.1,779.8 469.1,780.4 468.1,780.4 468.1,778.1 467.1,778.1 467.1,780.0 466.1,780.0 466.1,779.7 465.1,779.7 465.1,779.5 464.1,779.5 464.1,778.4 463.1,778.4 463.1,778.5 462.1,778.5 462.1,780.0 461.1,780.0 461.1,779.8 460.1,779.8 460.1,778.1 459.1,778.1 459.1,779.8 458.1,779.8 458.1,778.2 457.1,778.2 457.1,779.8 456.1,779.8 456.1,780.7 455.1,780.7 455.1,779.9 454.1,779.9 454.1,780.1 453.1,780.1 453.1,780.1 452.1,780.1 452.1,779.2 451.1,779.2 451.1,779.9 450.1,779.9 450.1,779.5 449.1,779.5 449.1,779.9 448.1,779.9 448.1,778.5 447.1,778.5 447.1,780.0 446.1,780.0 446.1,778.4 445.1,778.4 445.1,778.8 444.1,778.8 444.1,780.3 443.1,780.3 443.1,780.0 442.1,780.0 442.1,779.7 441.1,779.7 441.1,779.9 440.1,779.9 440.1,780.4 439.1,780.4 439.1,778.0 438.1,778.0 438.1,779.7 437.1,779.7 437.1,779.9 436.1,779.9 436.1,777.8 435.1,777.8 435.1,778.9 434.1,778.9 434.1,780.4 433.1,780.4 433.1,780.0 432.1,780.0 432.1,780.9 431.1,780.9 431.1,780.6 430.1,780.6 430.1,779.9 429.1,779.9 429.1,779.7 428.1,779.7 428.1,780.2 427.1,780.2 427.1,779.9 426.1,779.9 426.1,779.2 425.1,779.2 425.1,780.2 424.1,780.2 424.1,780.6 423.1,780.6 423.1,778.7 422.1,778.7 422.1,780.2 421.1,780.2 421.1,778.5 420.1,778.5 420.1,780.1 419.1,780.1 419.1,780.2 418.1,780.2 418.1,780.0 417.1,780.0 417.1,780.3 416.1,780.3 416.1,779.0 415.1,779.0 415.1,780.6 414.1,780.6 414.1,780.2 413.1,780.2 413.1,780.6 412.1,780.6 412.1,779.7 411.1,779.7 411.1,778.9 410.1,778.9 410.1,780.4 409.1,780.4 409.1,779.5 408.1,779.5 408.1,780.7 407.1,780.7 407.1,778.3 406.1,778.3 406.1,779.6 405.1,779.6 405.1,780.6 404.1,780.6 404.1,780.5 403.1,780.5 403.1,778.8 402.1,778.8 402.1,777.1 401.1,777.1 401.1,777.0 400.1,777.0 400.1,780.2 399.1,780.2 399.1,778.2 398.1,778.2 398.1,780.5 397.1,780.5 397.1,780.0 396.1,780.0 396.1,780.3 395.1,780.3 395.1,780.4 394.1,780.4 394.1,779.0 393.1,779.0 393.1,780.2 392.1,780.2 392.1,780.5 391.1,780.5 391.1,779.6 390.1,779.6 390.1,780.7 389.1,780.7 389.1,780.7 388.1,780.7 388.1,779.3 387.1,779.3 387.1,779.0 386.1,779.0 386.1,779.4 385.1,779.4 385.1,780.5 384.1,780.5 384.1,780.4 383.1,780.4 383.1,780.5 382.1,780.5 382.1,780.8 381.1,780.8 381.1,780.1 380.1,780.1 380.1,779.8 379.1,779.8 379.1,778.6 378.1,778.6 378.1,780.3 377.1,780.3 377.1,779.7 376.1,779.7 376.1,780.1 375.1,780.1 375.1,780.1 374.1,780.1 374.1,779.6 373.1,779.6 373.1,780.6 372.1,780.6 372.1,779.7 371.1,779.7 371.1,780.5 370.1,780.5 370.1,780.6 369.1,780.6 369.1,780.4 368.1,780.4 368.1,778.7 367.1,778.7 367.1,780.2 366.1,780.2 366.1,780.2 365.1,780.2 365.1,780.0 364.1,780.0 364.1,778.7 363.1,778.7 363.1,780.5 362.1,780.5 362.1,780.1 361.1,780.1 361.1,775.5 360.1,775.5 360.1,780.2 359.1,780.2 359.1,779.9 358.1,779.9 358.1,779.7 357.1,779.7 357.1,779.7 356.1,779.7 356.1,779.2 355.1,779.2 355.1,780.7 354.1,780.7 354.1,780.2 353.1,780.2 353.1,779.5 352.1,779.5 352.1,779.9 351.1,779.9 351.1,778.5 350.1,778.5 350.1,780.5 349.1,780.5 349.1,779.8 348.1,779.8 348.1,778.3 347.1,778.3 347.1,779.1 346.1,779.1 346.1,780.4 345.1,780.4 345.1,779.5 344.1,779.5 344.1,780.1 343.1,780.1 343.1,779.1 342.1,779.1 342.1,777.5 341.1,777.5 341.1,779.5 340.1,779.5 340.1,778.2 339.1,778.2 339.1,779.8 338.1,779.8 338.1,780.8 337.1,780.8 337.1,780.0 336.1,780.0 336.1,779.3 335.1,779.3 335.1,779.9 334.1,779.9 334.1,776.1 333.1,776.1 333.1,780.7 332.1,780.7 332.1,778.5 331.1,778.5 331.1,780.0 330.1,780.0 330.1,780.5 329.1,780.5 329.1,780.8 328.1,780.8 328.1,780.6 327.1,780.6 327.1,778.9 326.1,778.9 326.1,780.4 325.1,780.4 325.1,776.7 324.1,776.7 324.1,779.8 323.1,779.8 323.1,779.0 322.1,779.0 322.1,780.0 321.1,780.0 321.1,776.0 320.1,776.0 320.1,780.5 319.1,780.5 319.1,778.7 318.1,778.7 318.1,780.4 317.1,780.4 317.1,780.3 316.1,780.3 316.1,779.7 315.1,779.7 315.1,780.1 314.1,780.1 314.1,780.1 313.1,780.1 313.1,779.1 312.1,779.1 312.1,780.1 311.1,780.1 311.1,778.4 310.1,778.4 310.1,779.7 309.1,779.7 309.1,778.6 308.1,778.6 308.1,779.7 307.1,779.7 307.1,779.4 306.1,779.4 306.1,780.5 305.1,780.5 305.1,780.8 304.1,780.8 304.1,780.0 303.1,780.0 303.1,779.7 302.1,779.7 302.1,779.3 301.1,779.3 301.1,780.3 300.1,780.3 300.1,780.8 299.1,780.8 299.1,779.9 298.1,779.9 298.1,780.4 297.1,780.4 297.1,780.2 296.1,780.2 296.1,777.1 295.1,777.1 295.1,779.6 294.1,779.6 294.1,778.9 293.1,778.9 293.1,780.0 292.1,780.0 292.1,777.8 291.1,777.8 291.1,778.8 290.1,778.8 290.1,780.7 289.1,780.7 289.1,779.1 288.1,779.1 288.1,779.1 287.1,779.1 287.1,780.6 286.1,780.6 286.1,779.2 285.1,779.2 285.1,778.4 284.1,778.4 284.1,780.0 283.1,780.0 283.1,780.7 282.1,780.7 282.1,780.6 281.1,780.6 281.1,779.3 280.1,779.3 280.1,780.3 279.1,780.3 279.1,779.9 278.1,779.9 278.1,780.4 277.1,780.4 277.1,779.4 276.1,779.4 276.1,779.9 275.1,779.9 275.1,779.4 274.1,779.4 274.1,780.2 273.1,780.2 273.1,779.9 272.1,779.9 272.1,779.1 271.1,779.1 271.1,779.7 270.1,779.7 270.1,779.5 269.1,779.5 269.1,780.1 268.1,780.1 268.1,779.7 267.1,779.7 267.1,779.6 266.1,779.6 266.1,779.6 265.1,779.6 265.1,780.0 264.1,780.0 264.1,778.8 263.1,778.8 263.1,780.3 262.1,780.3 262.1,780.7 261.1,780.7 261.1,780.6 260.1,780.6 260.1,780.0 259.1,780.0 259.1,780.8 258.1,780.8 258.1,778.0 257.1,778.0 257.1,780.4 256.1,780.4 256.1,779.7 255.1,779.7 255.1,780.7 254.1,780.7 254.1,780.3 253.1,780.3 253.1,780.6 252.1,780.6 252.1,780.5 251.1,780.5 251.1,778.8 250.1,778.8 250.1,776.4 249.1,776.4 249.1,780.8 248.1,780.8 248.1,780.0 247.1,780.0 247.1,779.7 246.1,779.7 246.1,778.9 245.1,778.9 245.1,780.7 244.1,780.7 244.1,780.3 243.1,780.3 243.1,780.5 242.1,780.5 242.1,780.4 241.1,780.4 241.1,778.0 240.1,778.0 240.1,779.7 239.1,779.7 239.1,780.5 238.1,780.5 238.1,780.5 237.1,780.5 237.1,780.3 236.1,780.3 236.1,779.1 235.1,779.1 235.1,780.4 234.1,780.4 234.1,779.0 233.1,779.0 233.1,780.1 232.1,780.1 232.1,780.2 231.1,780.2 231.1,779.8 230.1,779.8 230.1,779.8 229.1,779.8 229.1,779.0 228.1,779.0 228.1,779.7 227.1,779.7 227.1,779.1 226.1,779.1 226.1,780.4 225.1,780.4 225.1,779.9 224.1,779.9 224.1,780.5 223.1,780.5 223.1,779.2 222.1,779.2 222.1,779.6 221.1,779.6 221.1,780.6 220.1,780.6 220.1,778.4 219.1,778.4 219.1,779.2 218.1,779.2 218.1,779.6 217.1,779.6 217.1,779.6 216.1,779.6 216.1,779.9 215.1,779.9 215.1,779.1 214.1,779.1 214.1,780.8 213.1,780.8 213.1,780.3 212.1,780.3 212.1,779.2 211.1,779.2 211.1,779.6 210.1,779.6 210.1,779.5 209.1,779.5 209.1,780.3 208.1,780.3 208.1,779.3 207.1,779.3 207.1,780.3 206.1,780.3 206.1,780.1 205.1,780.1 205.1,779.9 204.1,779.9 204.1,780.2 203.1,780.2 203.1,779.3 202.1,779.3 202.1,779.6 201.1,779.6 201.1,780.0 200.1,780.0 200.1,780.3 199.1,780.3 199.1,779.8 198.1,779.8 198.1,780.3 197.1,780.3 197.1,780.3 196.1,780.3 196.1,779.7 195.1,779.7 195.1,780.0 194.1,780.0 194.1,779.6 193.1,779.6 193.1,779.4 192.1,779.4 192.1,780.0 191.1,780.0 191.1,779.6 190.1,779.6 190.1,778.8 189.1,778.8 189.1,778.7 188.1,778.7 188.1,780.6 187.1,780.6 187.1,778.1 186.1,778.1 186.1,780.2 185.1,780.2 185.1,778.6 184.1,778.6 184.1,780.0 183.1,780.0 183.1,779.8 182.1,779.8 182.1,779.2 181.1,779.2 181.1,780.1 180.1,780.1 180.1,780.4 179.1,780.4 179.1,780.4 178.1,780.4 178.1,779.6 177.1,779.6 177.1,780.7 176.1,780.7 176.1,779.6 175.1,779.6 175.1,780.5 174.1,780.5 174.1,776.4 173.1,776.4 173.1,780.5 172.1,780.5 172.1,780.1 171.1,780.1 171.1,779.2 170.1,779.2 170.1,778.5 169.1,778.5 169.1,780.6 168.1,780.6 168.1,778.7 167.1,778.7 167.1,780.8 166.1,780.8 166.1,780.2 165.1,780.2 165.1,780.5 164.1,780.5 164.1,780.4 163.1,780.4 163.1,779.8 162.1,779.8 162.1,780.8 161.1,780.8 161.1,779.4 160.1,779.4 160.1,780.0 159.1,780.0 159.1,780.5 158.1,780.5 158.1,779.0 157.1,779.0 157.1,780.4 156.1,780.4 156.1,779.9 155.1,779.9 155.1,776.6 154.1,776.6 154.1,780.0 153.1,780.0 153.1,779.2 152.1,779.2 152.1,780.2 151.1,780.2 151.1,780.3 150.1,780.3 150.1,780.1 149.1,780.1 149.1,780.4 148.1,780.4 148.1,780.3 147.1,780.3 147.1,779.5 146.1,779.5 146.1,780.3 145.1,780.3 145.1,779.3 144.1,779.3 144.1,778.8 143.1,778.8 143.1,780.2 142.1,780.2 142.1,780.8 141.1,780.8 141.1,780.3 140.1,780.3 140.1,779.1 139.1,779.1 139.1,779.9 138.1,779.9 138.1,780.7 137.1,780.7 137.1,779.6 136.1,779.6 136.1,780.7 135.1,780.7 135.1,778.3 134.1,778.3 134.1,779.6 133.1,779.6 133.1,780.2 132.1,780.2 132.1,780.0 131.1,780.0 131.1,780.3 130.1,780.3 130.1,778.6 129.1,778.6 129.1,780.7 128.1,780.7 128.1,780.2 127.1,780.2 127.1,779.5 126.1,779.5 126.1,779.7 125.1,779.7 125.1,777.6 124.1,777.6 124.1,779.4 123.1,779.4 123.1,780.5 122.1,780.5 122.1,778.9 121.1,778.9 121.1,780.0 120.1,780.0 120.1,780.2 119.1,780.2 119.1,780.8 118.1,780.8 118.1,780.5 117.1,780.5 117.1,780.3 116.1,780.3 116.1,779.2 115.1,779.2 115.1,779.3 114.1,779.3 114.1,779.5 113.1,779.5 113.1,778.2 112.1,778.2 112.1,779.9 111.1,779.9 111.1,780.6 110.1,780.6 110.1,779.9 109.1,779.9 109.1,780.4 108.1,780.4 108.1,778.1 107.1,778.1 107.1,778.9 106.1,778.9 106.1,779.4 105.1,779.4 105.1,779.5 104.1,779.5 104.1,779.6 103.1,779.6 103.1,778.9 102.1,778.9 102.1,779.8 101.1,779.8 101.1,780.6 100.1,780.6 100.1,779.0 99.1,779.0 99.1,778.3 98.1,778.3 98.1,780.1 97.1,780.1 97.1,778.7 96.1,778.7 96.1,779.3 95.1,779.3 95.1,778.6 94.1,778.6 94.1,779.1 93.1,779.1 93.1,780.8 92.1,780.8 92.1,779.9 91.1,779.9 91.1,778.0 90.1,778.0 90.1,780.4 89.1,780.4Z" fill="#0072bd"/>
<path d="M89.1,715.0 89.6,714.3 90.1,714.5 90.6,714.3 91.1,709.1 91.6,710.2 92.1,711.9 92.6,710.8 93.1,707.2 93.6,707.7 94.1,707.4 94.6,687.1 95.1,707.3 95.6,708.0 96.1,708.9 96.6,702.1 97.1,703.8 97.6,703.1 98.1,703.3 98.6,698.7 99.1,694.8 99.6,697.0 100.1,695.1 100.6,698.6 101.1,694.3 101.6,693.0 102.1,689.0 102.6,690.7 103.1,691.3 103.6,687.8 104.1,687.0 104.6,681.3 105.1,681.1 105.6,679.8 106.1,678.1 106.6,674.4 107.1,674.8 107.6,673.1 108.1,672.3 108.6,662.7 109.1,660.7 109.6,656.5 110.1,653.4 110.6,645.0 111.1,644.6 111.6,632.8 112.1,628.0 112.6,614.5 113.1,595.6 113.6,592.8 114.1,593.6 114.6,605.8 115.1,622.9 115.6,634.9 116.1,638.7 116.6,643.5 117.1,650.0 117.6,656.3 118.1,659.4 118.6,667.5 119.1,667.8 119.6,667.6 120.1,671.8 120.6,677.1 121.1,675.8 121.6,680.0 122.1,680.2 122.6,686.6 123.1,678.9 123.6,686.4 124.1,688.0 124.6,689.0 125.1,691.6 125.6,693.3 126.1,693.2 126.6,693.6 127.1,699.8 127.6,698.4 128.1,699.2 128.6,699.5 129.1,698.6 129.6,704.5 130.1,701.5 130.6,707.2 131.1,705.9 131.6,706.2 132.1,706.5 132.6,707.9 133.1,708.4 133.6,708.8 134.1,709.3 134.6,713.2 135.1,712.9 135.6,711.5 136.1,710.0 136.6,709.6 137.1,706.2 137.6,712.5 138.1,714.9 138.6,713.3 139.1,712.7 139.6,714.3 140.1,717.3 140.6,715.7 141.1,716.0 141.6,719.3 142.1,719.2 142.6,714.5 143.1,722.1 143.6,717.4 144.1,718.6 144.6,715.5 145.1,717.4 145.6,720.8 146.1,716.6 146.6,720.8 147.1,715.7 147.6,716.6 148.1,720.5 148.6,719.0 149.1,720.5 149.6,723.0 150.1,719.1 150.6,720.6 151.1,720.0 151.6,719.7 152.1,719.2 152.6,720.1 153.1,722.7 153.6,722.5 154.1,722.0 154.6,723.3 155.1,723.7 155.6,719.4 156.1,722.5 156.6,719.6 157.1,725.4 157.6,724.0 158.1,725.0 158.6,725.0 159.1,724.9 159.6,724.7 160.1,725.5 160.6,720.9 161.1,723.3 161.6,726.4 162.1,726.1 162.6,723.5 163.1,724.0 163.6,726.5 164.1,723.4 164.6,728.4 165.1,726.5 165.6,722.0 166.1,731.1 166.6,726.2 167.1,723.7 167.6,726.2 168.1,727.6 168.6,727.9 169.1,730.4 169.6,728.9 170.1,726.0 170.6,727.4 171.1,726.3 171.6,726.7 172.1,725.8 172.6,729.9 173.1,727.1 173.6,727.2 174.1,727.2 174.6,728.5 175.1,731.3 175.6,725.4 176.1,725.0 176.6,721.8 177.1,725.2 177.6,723.3 178.1,725.6 178.6,727.7 179.1,725.8 179.6,729.4 180.1,726.4 180.6,727.2 181.1,729.2 181.6,724.4 182.1,724.6 182.6,726.0 183.1,725.3 183.6,723.6 184.1,727.3 184.6,729.9 185.1,729.1 185.6,725.6 186.1,726.6 186.6,730.2 187.1,724.3 187.6,726.6 188.1,723.7 188.6,724.7 189.1,728.0 189.6,726.9 190.1,728.6 190.6,728.8 191.1,727.7 191.6,726.0 192.1,724.2 192.6,728.9 193.1,725.6 193.6,726.9 194.1,727.5 194.6,724.6 195.1,727.7 195.6,724.1 196.1,727.7 196.6,728.9 197.1,725.3 197.6,730.0 198.1,729.4 198.6,727.3 199.1,713.1 199.6,727.4 200.1,731.0 200.6,729.6 201.1,725.7 201.6,725.6 202.1,728.9 202.6,726.2 203.1,726.3 203.6,724.5 204.1,728.2 204.6,723.5 205.1,727.2 205.6,723.5 206.1,724.6 206.6,728.6 207.1,727.1 207.6,725.8 208.1,724.3 208.6,729.3 209.1,727.4 209.6,725.0 210.1,725.3 210.6,728.5 211.1,728.1 211.6,725.3 212.1,728.3 212.6,725.6 213.1,724.2 213.6,726.0 214.1,731.7 214.6,723.5 215.1,723.5 215.6,722.9 216.1,724.1 216.6,729.4 217.1,722.8 217.6,725.0 218.1,723.7 218.6,726.0 219.1,726.2 219.6,726.1 220.1,722.2 220.6,724.9 221.1,725.9 221.6,728.1 222.1,724.4 222.6,725.3 223.1,725.0 223.6,723.2 224.1,723.7 224.6,725.1 225.1,724.6 225.6,724.9 226.1,723.5 226.6,723.5 227.1,724.6 227.6,726.7 228.1,723.0 228.6,722.8 229.1,727.0 229.6,723.8 230.1,725.4 230.6,729.2 231.1,724.6 231.6,722.4 232.1,725.9 232.6,725.8 233.1,722.1 233.6,726.6 234.1,726.2 234.6,724.8 235.1,722.7 235.6,722.7 236.1,725.1 236.6,724.5 237.1,723.6 237.6,724.6 238.1,725.5 238.6,726.0 239.1,722.1 239.6,724.0 240.1,717.4 240.6,722.1 241.1,724.9 241.6,723.3 242.1,722.5 242.6,722.3 243.1,722.1 243.6,722.0 244.1,715.4 244.6,721.5 245.1,718.2 245.6,723.6 246.1,723.4 246.6,721.1 247.1,719.9 247.6,720.7 248.1,719.8 248.6,722.4 249.1,722.7 249.6,720.7 250.1,720.6 250.6,718.4 251.1,718.6 251.6,725.7 252.1,720.1 252.6,723.1 253.1,726.0 253.6,720.7 254.1,721.8 254.6,722.1 255.1,724.0 255.6,723.3 256.1,721.6 256.6,724.2 257.1,721.2 257.6,720.6 258.1,721.1 258.6,720.1 259.1,720.7 259.6,723.0 260.1,722.6 260.6,720.1 261.1,718.2 261.6,719.8 262.1,721.1 262.6,719.6 263.1,723.7 263.6,721.9 264.1,720.5 264.6,719.7 265.1,720.2 265.6,720.0 266.1,721.8 266.6,720.4 267.1,718.6 267.6,722.9 268.1,721.5 268.6,719.6 269.1,715.6 269.6,717.2 270.1,715.2 270.6,715.6 271.1,719.3 271.6,718.4 272.1,720.6 272.6,715.5 273.1,716.3 273.6,716.5 274.1,716.3 274.6,716.6 275.1,717.0 275.6,716.7 276.1,714.6 276.6,718.8 277.1,719.2 277.6,716.9 278.1,714.3 278.6,716.1 279.1,716.9 279.6,714.6 280.1,716.0 280.6,720.2 281.1,718.1 281.6,720.3 282.1,716.2 282.6,716.6 283.1,714.6 283.6,710.9 284.1,716.5 284.6,715.1 285.1,715.8 285.6,720.8 286.1,716.3 286.6,716.1 287.1,713.9 287.6,716.1 288.1,716.9 288.6,712.8 289.1,714.0 289.6,715.6 290.1,715.2 290.6,714.1 291.1,711.6 291.6,710.2 292.1,715.8 292.6,710.4 293.1,712.6 293.6,711.8 294.1,710.4 294.6,714.3 295.1,710.3 295.6,714.7 296.1,712.8 296.6,713.4 297.1,707.9 297.6,707.8 298.1,709.5 298.6,709.9 299.1,711.9 299.6,707.0 300.1,707.5 300.6,708.4 301.1,710.4 301.6,710.7 302.1,709.9 302.6,706.8 303.1,711.4 303.6,709.0 304.1,705.6 304.6,707.0 305.1,705.0 305.6,707.6 306.1,707.4 306.6,705.2 307.1,706.5 307.6,707.0 308.1,708.6 308.6,710.4 309.1,703.9 309.6,707.8 310.1,708.3 310.6,704.6 311.1,708.1 311.6,708.9 312.1,707.0 312.6,705.8 313.1,704.8 313.6,704.1 314.1,702.9 314.6,705.0 315.1,703.7 315.6,704.5 316.1,705.4 316.6,703.0 317.1,702.9 317.6,699.5 318.1,701.9 318.6,704.3 319.1,701.4 319.6,702.9 320.1,698.8 320.6,705.5 321.1,703.0 321.6,702.8 322.1,700.9 322.6,701.1 323.1,691.9 323.6,704.2 324.1,699.7 324.6,696.7 325.1,696.5 325.6,700.1 326.1,698.0 326.6,700.5 327.1,701.4 327.6,695.5 328.1,696.4 328.6,698.2 329.1,698.0 329.6,695.0 330.1,695.9 330.6,697.0 331.1,695.3 331.6,695.6 332.1,696.1 332.6,696.5 333.1,692.7 333.6,695.3 334.1,696.4 334.6,689.8 335.1,690.6 335.6,691.8 336.1,692.7 336.6,691.7 337.1,694.8 337.6,691.4 338.1,690.5 338.6,691.1 339.1,689.3 339.6,691.5 340.1,689.1 340.6,692.3 341.1,688.7 341.6,689.5 342.1,690.6 342.6,688.2 343.1,686.9 343.6,687.7 344.1,684.1 344.6,687.0 345.1,683.1 345.6,683.1 346.1,685.4 346.6,680.6 347.1,686.0 347.6,681.5 348.1,681.9 348.6,680.0 349.1,684.3 349.6,682.9 350.1,681.6 350.6,679.3 351.1,678.6 351.6,678.1 352.1,678.1 352.6,678.4 353.1,679.1 353.6,676.5 354.1,673.9 354.6,672.2 355.1,674.7 355.6,670.7 356.1,675.0 356.6,669.8 357.1,672.9 357.6,669.4 358.1,671.0 358.6,670.2 359.1,668.5 359.6,663.5 360.1,667.0 360.6,663.4 361.1,663.4 361.6,662.1 362.1,661.0 362.6,659.3 363.1,662.0 363.6,658.2 364.1,656.4 364.6,657.1 365.1,653.9 365.6,655.4 366.1,650.4 366.6,651.9 367.1,649.4 367.6,645.6 368.1,643.3 368.6,644.9 369.1,643.1 369.6,637.6 370.1,643.5 370.6,632.3 371.1,629.8 371.6,631.9 372.1,624.1 372.6,622.4 373.1,618.4 373.6,619.7 374.1,610.8 374.6,604.1 375.1,596.9 375.6,586.7 376.1,571.3 376.6,567.7 377.1,562.2 377.6,568.0 378.1,583.6 378.6,595.3 379.1,602.3 379.6,608.1 380.1,610.3 380.6,620.2 381.1,619.0 381.6,626.5 382.1,631.0 382.6,635.0 383.1,632.8 383.6,640.2 384.1,637.4 384.6,640.6 385.1,644.5 385.6,646.5 386.1,645.9 386.6,648.2 387.1,648.6 387.6,651.6 388.1,654.1 388.6,653.3 389.1,658.2 389.6,655.2 390.1,658.0 390.6,661.6 391.1,662.5 391.6,662.1 392.1,666.3 392.6,660.6 393.1,662.5 393.6,667.7 394.1,666.6 394.6,663.7 395.1,667.2 395.6,671.0 396.1,652.2 396.6,673.9 397.1,668.8 397.6,671.4 398.1,675.5 398.6,672.0 399.1,675.0 399.6,676.3 400.1,676.6 400.6,677.2 401.1,673.4 401.6,679.5 402.1,678.9 402.6,675.9 403.1,676.1 403.6,681.9 404.1,676.1 404.6,678.7 405.1,684.6 405.6,678.3 406.1,685.7 406.6,681.7 407.1,686.0 407.6,687.8 408.1,682.8 408.6,684.2 409.1,685.7 409.6,685.6 410.1,686.7 410.6,687.5 411.1,689.6 411.6,686.6 412.1,688.2 412.6,689.2 413.1,690.3 413.6,690.1 414.1,693.1 414.6,690.9 415.1,692.8 415.6,688.4 416.1,693.5 416.6,692.8 417.1,692.2 417.6,690.9 418.1,692.0 418.6,668.8 419.1,689.1 419.6,694.0 420.1,693.7 420.6,688.9 421.1,696.9 421.6,693.3 422.1,694.7 422.6,698.8 423.1,697.6 423.6,680.3 424.1,700.0 424.6,697.6 425.1,695.6 425.6,698.4 426.1,697.6 426.6,699.8 427.1,700.0 427.6,700.3 428.1,700.0 428.6,698.3 429.1,699.7 429.6,696.0 430.1,699.2 430.6,700.1 431.1,696.2 431.6,701.4 432.1,703.2 432.6,701.4 433.1,704.3 433.6,701.1 434.1,699.6 434.6,701.4 435.1,703.8 435.6,703.5 436.1,702.4 436.6,701.2 437.1,704.8 437.6,705.0 438.1,702.1 438.6,704.1 439.1,704.1 439.6,704.0 440.1,706.9 440.6,705.8 441.1,703.5 441.6,706.2 442.1,706.5 442.6,705.7 443.1,705.7 443.6,701.4 444.1,708.7 444.6,706.9 445.1,703.1 445.6,707.5 446.1,695.7 446.6,711.0 447.1,706.1 447.6,706.5 448.1,706.8 448.6,709.1 449.1,708.1 449.6,709.2 450.1,707.5 450.6,709.5 451.1,708.0 451.6,699.8 452.1,710.7 452.6,716.2 453.1,710.6 453.6,708.9 454.1,711.2 454.6,684.0 455.1,713.1 455.6,711.9 456.1,713.3 456.6,712.6 457.1,712.7 457.6,714.9 458.1,714.1 458.6,707.9 459.1,712.9 459.6,710.5 460.1,715.3 460.6,713.0 461.1,711.8 461.6,713.4 462.1,714.3 462.6,713.8 463.1,713.5 463.6,711.9 464.1,711.3 464.6,716.7 465.1,718.4 465.6,714.7 466.1,714.4 466.6,713.0 467.1,712.4 467.6,716.2 468.1,710.6 468.6,714.5 469.1,718.9 469.6,713.3 470.1,714.9 470.6,715.0 471.1,719.1 471.6,716.5 472.1,715.7 472.6,716.5 473.1,714.8 473.6,713.7 474.1,713.3 474.6,714.0 475.1,717.1 475.6,713.2 476.1,716.4 476.6,715.3 477.1,717.7 477.6,720.3 478.1,722.2 478.6,717.2 479.1,719.1 479.6,717.8 480.1,716.0 480.6,721.3 481.1,721.9 481.6,717.7 482.1,717.6 482.6,719.1 483.1,719.7 483.6,722.1 484.1,719.0 484.6,720.5 485.1,718.1 485.6,717.1 486.1,720.4 486.6,718.4 487.1,719.0 487.6,718.1 488.1,716.4 488.6,718.3 489.1,718.3 489.6,718.3 490.1,720.9 490.6,720.1 491.1,719.5 491.6,717.7 492.1,717.7 492.6,715.7 493.1,722.9 493.6,720.8 494.1,724.4 494.6,722.0 495.1,724.4 495.6,718.6 496.1,719.6 496.6,723.5 497.1,720.6 497.6,719.9 498.1,717.8 498.6,719.8 499.1,721.4 499.6,722.0 500.1,720.5 500.6,721.3 501.1,723.0 501.6,724.7 502.1,720.0 502.6,723.8 503.1,722.9 503.6,720.8 504.1,722.6 504.6,720.2 505.1,725.1 505.6,721.2 506.1,715.1 506.6,726.1 507.1,725.2 507.6,722.8 508.1,724.6 508.6,726.1 509.1,720.8 509.6,725.4 510.1,723.7 510.6,723.0 511.1,724.6 511.6,722.9 512.1,722.4 512.6,724.0 513.1,721.7 513.6,725.2 514.1,726.3 514.6,723.7 515.1,726.2 515.6,723.4 516.1,724.5 516.6,725.4 517.1,723.2 517.6,723.4 518.1,730.8 518.6,725.3 519.1,724.4 519.6,723.8 520.1,726.0 520.6,727.3 521.1,724.7 521.6,723.6 522.1,729.5 522.6,728.3 523.1,726.5 523.6,710.1 524.1,726.6 524.6,723.7 525.1,727.7 525.6,725.3 526.1,727.5 526.6,724.8 527.1,724.3 527.6,723.0 528.1,725.7 528.6,723.7 529.1,725.1 529.6,727.0 530.1,723.0 530.6,727.4 531.1,725.8 531.6,708.5 532.1,724.5 532.6,728.1 533.1,725.8 533.6,727.6 534.1,726.8 534.6,729.8 535.1,726.2 535.6,730.0 536.1,725.9 536.6,726.0 537.1,725.0 537.6,722.2 538.1,730.4 538.6,729.5 539.1,729.2 539.6,728.3 540.1,725.3 540.6,727.9 541.1,728.5 541.6,729.7 542.1,728.7 542.6,728.3 543.1,727.7 543.6,730.5 544.1,727.7 544.6,726.4 545.1,726.9 545.6,730.3 546.1,726.0 546.6,726.0 547.1,727.2 547.6,730.4 548.1,731.0 548.6,727.8 549.1,730.1 549.6,730.8 550.1,726.2 550.6,726.2 551.1,726.8 551.6,725.4 552.1,726.3 552.6,730.7 553.1,725.9 553.6,728.1 554.1,727.4 554.6,725.1 555.1,727.5 555.6,725.2 556.1,728.4 556.6,729.4 557.1,730.1 557.6,728.9 558.1,732.3 558.6,728.9 559.1,729.0 559.6,729.9 560.1,733.6 560.6,733.4 561.1,727.4 561.6,731.0 562.1,726.1 562.6,730.5 563.1,728.3 563.6,732.1 564.1,730.4 564.6,729.6 565.1,727.9 565.6,725.6 566.1,727.2 566.6,732.3 567.1,729.3 567.6,729.7 568.1,730.7 568.6,728.1 569.1,726.0 569.6,730.4 570.1,727.1 570.6,726.5 571.1,731.7 571.6,725.7 572.1,725.9 572.6,717.4 573.1,725.9 573.6,729.1 574.1,727.2 574.6,728.3 575.1,731.5 575.6,729.1 576.1,730.1 576.6,730.8 577.1,732.2 577.6,731.4 578.1,732.4 578.6,727.4 579.1,734.0 579.6,729.6 580.1,731.1 580.6,732.5 581.1,728.3 581.6,731.5 582.1,727.3 582.6,730.3 583.1,729.2 583.6,707.2 584.1,728.5 584.6,727.9 585.1,730.9 585.6,729.9 586.1,726.2 586.6,731.1 587.1,726.0 587.6,730.7 588.1,731.1 588.6,733.5 589.1,731.7 589.6,733.6 590.1,731.1 590.6,728.4 591.1,729.9 591.6,731.1 592.1,732.0 592.6,731.2 593.1,732.8 593.6,732.4 594.1,725.5 594.6,729.1 595.1,720.6 595.6,728.1 596.1,726.3 596.6,730.8 597.1,729.7 597.6,732.1 598.1,709.0 598.6,726.4 599.1,721.9 599.6,730.7 600.1,732.5 600.6,726.0 601.1,726.7 601.6,727.8 602.1,725.6 602.6,729.4 603.1,728.0 603.6,726.8 604.1,729.0 604.6,727.2 605.1,728.6 605.6,727.0 606.1,727.5 606.6,716.9 607.1,727.3 607.6,730.4 608.1,728.9 608.6,730.5 609.1,725.0 609.6,727.2 610.1,727.1 610.6,723.4 611.1,724.3 611.6,726.0 612.1,729.6 612.6,723.5 613.1,725.1 613.6,725.0 614.1,722.3 614.6,724.8 615.1,723.2 615.6,720.7 616.1,720.9 616.6,722.9 617.1,718.0 617.6,718.1 618.1,715.9 618.6,719.4 619.1,718.2 619.6,715.7 620.1,716.3 620.6,716.1 621.1,715.8 621.6,715.4 622.1,715.2 622.6,714.2 623.1,710.9 623.6,711.3 624.1,712.5 624.6,708.1 625.1,703.4 625.6,702.6 626.1,708.3 626.6,704.3 627.1,699.1 627.6,698.9 628.1,672.3 628.6,695.4 629.1,692.9 629.6,692.9 630.1,685.8 630.6,687.9 631.1,683.2 631.6,676.7 632.1,674.4 632.6,673.1 633.1,669.3 633.6,666.2 634.1,661.3 634.6,655.4 635.1,646.0 635.6,642.7 636.1,632.1 636.6,622.0 637.1,608.5 637.6,590.2 638.1,570.0 638.6,571.2 639.1,571.3 639.6,599.6 640.1,619.8 640.6,625.8 641.1,635.3 641.6,645.8 642.1,651.7 642.6,656.5 643.1,664.2 643.6,665.2 644.1,669.3 644.6,672.8 645.1,676.0 645.6,685.2 646.1,683.0 646.6,687.7 647.1,687.0 647.6,689.5 648.1,692.2 648.6,696.2 649.1,692.0 649.6,699.9 650.1,703.7 650.6,701.1 651.1,707.8 651.6,702.1 652.1,705.4 652.6,706.1 653.1,707.9 653.6,710.4 654.1,715.2 654.6,714.7 655.1,713.3 655.6,715.8 656.1,715.5 656.6,718.6 657.1,719.6 657.6,718.1 658.1,717.9 658.6,720.1 659.1,722.8 659.6,724.9 660.1,717.7 660.6,724.9 661.1,724.9 661.6,725.1 662.1,722.2 662.6,726.1 663.1,723.8 663.6,724.7 664.1,728.2 664.6,725.8 665.1,729.1 665.6,727.2 666.1,725.6 666.6,728.0 667.1,729.7 667.1,780.6 666.1,780.6 666.1,779.5 665.1,779.5 665.1,780.8 664.1,780.8 664.1,779.7 663.1,779.7 663.1,780.6 662.1,780.6 662.1,780.1 661.1,780.1 661.1,778.7 660.1,778.7 660.1,778.9 659.1,778.9 659.1,780.7 658.1,780.7 658.1,779.8 657.1,779.8 657.1,779.7 656.1,779.7 656.1,776.0 655.1,776.0 655.1,780.6 654.1,780.6 654.1,778.1 653.1,778.1 653.1,779.5 652.1,779.5 652.1,775.9 651.1,775.9 651.1,780.4 650.1,780.4 650.1,775.9 649.1,775.9 649.1,780.5 648.1,780.5 648.1,779.1 647.1,779.1 647.1,777.4 646.1,777.4 646.1,770.5 645.1,770.5 645.1,777.1 644.1,777.1 644.1,780.1 643.1,780.1 643.1,779.9 642.1,779.9 642.1,780.0 641.1,780.0 641.1,780.5 640.1,780.5 640.1,778.9 639.1,778.9 639.1,780.8 638.1,780.8 638.1,780.4 637.1,780.4 637.1,780.2 636.1,780.2 636.1,778.9 635.1,778.9 635.1,779.4 634.1,779.4 634.1,769.2 633.1,769.2 633.1,779.6 632.1,779.6 632.1,780.6 631.1,780.6 631.1,779.6 630.1,779.6 630.1,779.4 629.1,779.4 629.1,777.9 628.1,777.9 628.1,779.8 627.1,779.8 627.1,778.7 626.1,778.7 626.1,778.7 625.1,778.7 625.1,780.1 624.1,780.1 624.1,778.7 623.1,778.7 623.1,779.6 622.1,779.6 622.1,780.5 621.1,780.5 621.1,777.1 620.1,777.1 620.1,780.6 619.1,780.6 619.1,779.0 618.1,779.0 618.1,779.8 617.1,779.8 617.1,774.5 616.1,774.5 616.1,779.1 615.1,779.1 615.1,779.8 614.1,779.8 614.1,780.3 613.1,780.3 613.1,774.8 612.1,774.8 612.1,778.8 611.1,778.8 611.1,780.4 610.1,780.4 610.1,779.1 609.1,779.1 609.1,777.9 608.1,777.9 608.1,780.6 607.1,780.6 607.1,779.8 606.1,779.8 606.1,779.3 605.1,779.3 605.1,780.4 604.1,780.4 604.1,778.5 603.1,778.5 603.1,779.0 602.1,779.0 602.1,777.4 601.1,777.4 601.1,780.7 600.1,780.7 600.1,777.2 599.1,777.2 599.1,779.1 598.1,779.1 598.1,779.9 597.1,779.9 597.1,780.1 596.1,780.1 596.1,779.3 595.1,779.3 595.1,779.4 594.1,779.4 594.1,777.9 593.1,777.9 593.1,778.9 592.1,778.9 592.1,778.7 591.1,778.7 591.1,777.1 590.1,777.1 590.1,771.9 589.1,771.9 589.1,778.8 588.1,778.8 588.1,780.6 587.1,780.6 587.1,780.0 586.1,780.0 586.1,779.9 585.1,779.9 585.1,780.1 584.1,780.1 584.1,780.2 583.1,780.2 583.1,776.3 582.1,776.3 582.1,780.0 581.1,780.0 581.1,779.5 580.1,779.5 580.1,777.7 579.1,777.7 579.1,780.2 578.1,780.2 578.1,780.5 577.1,780.5 577.1,780.5 576.1,780.5 576.1,779.8 575.1,779.8 575.1,779.7 574.1,779.7 574.1,778.4 573.1,778.4 573.1,780.6 572.1,780.6 572.1,779.6 571.1,779.6 571.1,777.9 570.1,777.9 570.1,778.1 569.1,778.1 569.1,779.5 568.1,779.5 568.1,779.6 567.1,779.6 567.1,778.9 566.1,778.9 566.1,775.2 565.1,775.2 565.1,778.8 564.1,778.8 564.1,779.6 563.1,779.6 563.1,778.7 562.1,778.7 562.1,778.9 561.1,778.9 561.1,780.6 560.1,780.6 560.1,780.5 559.1,780.5 559.1,778.6 558.1,778.6 558.1,780.6 557.1,780.6 557.1,779.5 556.1,779.5 556.1,775.3 555.1,775.3 555.1,779.4 554.1,779.4 554.1,780.6 553.1,780.6 553.1,778.1 552.1,778.1 552.1,780.1 551.1,780.1 551.1,779.7 550.1,779.7 550.1,779.4 549.1,779.4 549.1,780.5 548.1,780.5 548.1,780.4 547.1,780.4 547.1,778.9 546.1,778.9 546.1,779.1 545.1,779.1 545.1,778.9 544.1,778.9 544.1,779.5 543.1,779.5 543.1,777.8 542.1,777.8 542.1,779.1 541.1,779.1 541.1,778.1 540.1,778.1 540.1,771.6 539.1,771.6 539.1,779.9 538.1,779.9 538.1,778.3 537.1,778.3 537.1,778.7 536.1,778.7 536.1,780.2 535.1,780.2 535.1,775.4 534.1,775.4 534.1,778.7 533.1,778.7 533.1,777.5 532.1,777.5 532.1,775.9 531.1,775.9 531.1,780.7 530.1,780.7 530.1,780.0 529.1,780.0 529.1,779.6 528.1,779.6 528.1,780.2 527.1,780.2 527.1,780.6 526.1,780.6 526.1,780.3 525.1,780.3 525.1,768.9 524.1,768.9 524.1,780.8 523.1,780.8 523.1,776.1 522.1,776.1 522.1,779.4 521.1,779.4 521.1,780.8 520.1,780.8 520.1,779.0 519.1,779.0 519.1,780.6 518.1,780.6 518.1,779.2 517.1,779.2 517.1,778.8 516.1,778.8 516.1,779.8 515.1,779.8 515.1,779.9 514.1,779.9 514.1,773.6 513.1,773.6 513.1,779.9 512.1,779.9 512.1,778.5 511.1,778.5 511.1,779.8 510.1,779.8 510.1,775.5 509.1,775.5 509.1,777.7 508.1,777.7 508.1,778.8 507.1,778.8 507.1,775.6 506.1,775.6 506.1,780.1 505.1,780.1 505.1,774.6 504.1,774.6 504.1,780.2 503.1,780.2 503.1,777.0 502.1,777.0 502.1,779.5 501.1,779.5 501.1,779.6 500.1,779.6 500.1,780.2 499.1,780.2 499.1,778.5 498.1,778.5 498.1,777.1 497.1,777.1 497.1,779.0 496.1,779.0 496.1,780.1 495.1,780.1 495.1,779.3 494.1,779.3 494.1,780.7 493.1,780.7 493.1,779.7 492.1,779.7 492.1,780.5 491.1,780.5 491.1,780.5 490.1,780.5 490.1,777.5 489.1,777.5 489.1,775.9 488.1,775.9 488.1,779.8 487.1,779.8 487.1,780.7 486.1,780.7 486.1,778.7 485.1,778.7 485.1,780.3 484.1,780.3 484.1,779.8 483.1,779.8 483.1,779.5 482.1,779.5 482.1,779.6 481.1,779.6 481.1,780.1 480.1,780.1 480.1,778.6 479.1,778.6 479.1,776.2 478.1,776.2 478.1,774.4 477.1,774.4 477.1,780.5 476.1,780.5 476.1,778.9 475.1,778.9 475.1,776.1 474.1,776.1 474.1,779.1 473.1,779.1 473.1,780.3 472.1,780.3 472.1,780.6 471.1,780.6 471.1,780.1 470.1,780.1 470.1,777.9 469.1,777.9 469.1,776.9 468.1,776.9 468.1,780.1 467.1,780.1 467.1,780.0 466.1,780.0 466.1,777.6 465.1,777.6 465.1,776.0 464.1,776.0 464.1,779.7 463.1,779.7 463.1,779.9 462.1,779.9 462.1,778.0 461.1,778.0 461.1,780.3 460.1,780.3 460.1,780.1 459.1,780.1 459.1,780.5 458.1,780.5 458.1,778.6 457.1,778.6 457.1,780.7 456.1,780.7 456.1,780.4 455.1,780.4 455.1,779.9 454.1,779.9 454.1,779.7 453.1,779.7 453.1,780.6 452.1,780.6 452.1,780.0 451.1,780.0 451.1,777.8 450.1,777.8 450.1,779.7 449.1,779.7 449.1,779.3 448.1,779.3 448.1,780.7 447.1,780.7 447.1,780.4 446.1,780.4 446.1,779.5 445.1,779.5 445.1,780.6 444.1,780.6 444.1,779.7 443.1,779.7 443.1,778.6 442.1,778.6 442.1,780.0 441.1,780.0 441.1,780.9 440.1,780.9 440.1,770.7 439.1,770.7 439.1,778.1 438.1,778.1 438.1,780.0 437.1,780.0 437.1,778.7 436.1,778.7 436.1,779.6 435.1,779.6 435.1,778.1 434.1,778.1 434.1,779.2 433.1,779.2 433.1,779.4 432.1,779.4 432.1,778.8 431.1,778.8 431.1,779.0 430.1,779.0 430.1,779.1 429.1,779.1 429.1,780.3 428.1,780.3 428.1,779.4 427.1,779.4 427.1,778.6 426.1,778.6 426.1,777.9 425.1,777.9 425.1,780.6 424.1,780.6 424.1,780.6 423.1,780.6 423.1,779.2 422.1,779.2 422.1,777.8 421.1,777.8 421.1,778.4 420.1,778.4 420.1,779.3 419.1,779.3 419.1,778.2 418.1,778.2 418.1,778.5 417.1,778.5 417.1,777.1 416.1,777.1 416.1,780.3 415.1,780.3 415.1,778.5 414.1,778.5 414.1,780.4 413.1,780.4 413.1,779.8 412.1,779.8 412.1,779.1 411.1,779.1 411.1,773.9 410.1,773.9 410.1,779.5 409.1,779.5 409.1,780.6 408.1,780.6 408.1,780.6 407.1,780.6 407.1,780.4 406.1,780.4 406.1,780.6 405.1,780.6 405.1,778.7 404.1,778.7 404.1,779.4 403.1,779.4 403.1,779.9 402.1,779.9 402.1,778.4 401.1,778.4 401.1,779.6 400.1,779.6 400.1,779.1 399.1,779.1 399.1,780.0 398.1,780.0 398.1,777.0 397.1,777.0 397.1,777.8 396.1,777.8 396.1,779.7 395.1,779.7 395.1,779.2 394.1,779.2 394.1,768.8 393.1,768.8 393.1,775.9 392.1,775.9 392.1,779.7 391.1,779.7 391.1,778.8 390.1,778.8 390.1,780.2 389.1,780.2 389.1,778.4 388.1,778.4 388.1,777.5 387.1,777.5 387.1,778.9 386.1,778.9 386.1,777.7 385.1,777.7 385.1,780.5 384.1,780.5 384.1,779.5 383.1,779.5 383.1,780.5 382.1,780.5 382.1,779.5 381.1,779.5 381.1,778.9 380.1,778.9 380.1,779.1 379.1,779.1 379.1,775.2 378.1,775.2 378.1,779.8 377.1,779.8 377.1,780.0 376.1,780.0 376.1,779.2 375.1,779.2 375.1,780.5 374.1,780.5 374.1,768.7 373.1,768.7 373.1,778.7 372.1,778.7 372.1,776.7 371.1,776.7 371.1,777.5 370.1,777.5 370.1,780.3 369.1,780.3 369.1,779.6 368.1,779.6 368.1,779.3 367.1,779.3 367.1,780.5 366.1,780.5 366.1,774.5 365.1,774.5 365.1,779.9 364.1,779.9 364.1,778.8 363.1,778.8 363.1,779.1 362.1,779.1 362.1,779.5 361.1,779.5 361.1,776.8 360.1,776.8 360.1,778.9 359.1,778.9 359.1,773.0 358.1,773.0 358.1,779.6 357.1,779.6 357.1,778.0 356.1,778.0 356.1,778.7 355.1,778.7 355.1,779.8 354.1,779.8 354.1,779.8 353.1,779.8 353.1,779.1 352.1,779.1 352.1,780.1 351.1,780.1 351.1,780.2 350.1,780.2 350.1,780.0 349.1,780.0 349.1,777.5 348.1,777.5 348.1,777.8 347.1,777.8 347.1,780.5 346.1,780.5 346.1,778.6 345.1,778.6 345.1,777.5 344.1,777.5 344.1,779.9 343.1,779.9 343.1,779.1 342.1,779.1 342.1,779.9 341.1,779.9 341.1,778.2 340.1,778.2 340.1,778.9 339.1,778.9 339.1,778.8 338.1,778.8 338.1,775.3 337.1,775.3 337.1,779.6 336.1,779.6 336.1,768.9 335.1,768.9 335.1,780.6 334.1,780.6 334.1,779.3 333.1,779.3 333.1,778.9 332.1,778.9 332.1,778.4 331.1,778.4 331.1,779.3 330.1,779.3 330.1,780.5 329.1,780.5 329.1,779.2 328.1,779.2 328.1,780.1 327.1,780.1 327.1,780.7 326.1,780.7 326.1,773.5 325.1,773.5 325.1,779.3 324.1,779.3 324.1,778.0 323.1,778.0 323.1,779.7 322.1,779.7 322.1,779.2 321.1,779.2 321.1,778.9 320.1,778.9 320.1,777.7 319.1,777.7 319.1,777.3 318.1,777.3 318.1,777.5 317.1,777.5 317.1,779.9 316.1,779.9 316.1,780.8 315.1,780.8 315.1,780.1 314.1,780.1 314.1,779.6 313.1,779.6 313.1,779.8 312.1,779.8 312.1,780.3 311.1,780.3 311.1,778.3 310.1,778.3 310.1,779.5 309.1,779.5 309.1,778.5 308.1,778.5 308.1,780.5 307.1,780.5 307.1,780.2 306.1,780.2 306.1,779.5 305.1,779.5 305.1,779.6 304.1,779.6 304.1,778.2 303.1,778.2 303.1,780.4 302.1,780.4 302.1,779.5 301.1,779.5 301.1,778.3 300.1,778.3 300.1,778.9 299.1,778.9 299.1,779.5 298.1,779.5 298.1,777.8 297.1,777.8 297.1,779.0 296.1,779.0 296.1,780.5 295.1,780.5 295.1,780.1 294.1,780.1 294.1,780.1 293.1,780.1 293.1,779.8 292.1,779.8 292.1,778.9 291.1,778.9 291.1,780.4 290.1,780.4 290.1,778.5 289.1,778.5 289.1,779.5 288.1,779.5 288.1,778.7 287.1,778.7 287.1,780.1 286.1,780.1 286.1,778.5 285.1,778.5 285.1,779.0 284.1,779.0 284.1,777.9 283.1,777.9 283.1,779.2 282.1,779.2 282.1,779.9 281.1,779.9 281.1,779.9 280.1,779.9 280.1,779.9 279.1,779.9 279.1,780.2 278.1,780.2 278.1,779.5 277.1,779.5 277.1,780.0 276.1,780.0 276.1,779.6 275.1,779.6 275.1,777.3 274.1,777.3 274.1,778.6 273.1,778.6 273.1,779.3 272.1,779.3 272.1,777.4 271.1,777.4 271.1,780.5 270.1,780.5 270.1,777.5 269.1,777.5 269.1,780.1 268.1,780.1 268.1,778.8 267.1,778.8 267.1,779.8 266.1,779.8 266.1,780.7 265.1,780.7 265.1,780.4 264.1,780.4 264.1,778.3 263.1,778.3 263.1,778.5 262.1,778.5 262.1,779.5 261.1,779.5 261.1,779.9 260.1,779.9 260.1,780.1 259.1,780.1 259.1,779.4 258.1,779.4 258.1,776.8 257.1,776.8 257.1,779.3 256.1,779.3 256.1,779.3 255.1,779.3 255.1,778.5 254.1,778.5 254.1,779.7 253.1,779.7 253.1,778.8 252.1,778.8 252.1,777.0 251.1,777.0 251.1,780.0 250.1,780.0 250.1,777.7 249.1,777.7 249.1,780.2 248.1,780.2 248.1,780.1 247.1,780.1 247.1,779.0 246.1,779.0 246.1,780.0 245.1,780.0 245.1,780.0 244.1,780.0 244.1,779.0 243.1,779.0 243.1,780.0 242.1,780.0 242.1,780.2 241.1,780.2 241.1,779.2 240.1,779.2 240.1,777.4 239.1,777.4 239.1,776.4 238.1,776.4 238.1,778.0 237.1,778.0 237.1,777.8 236.1,777.8 236.1,779.4 235.1,779.4 235.1,779.0 234.1,779.0 234.1,780.3 233.1,780.3 233.1,779.8 232.1,779.8 232.1,779.6 231.1,779.6 231.1,778.7 230.1,778.7 230.1,778.1 229.1,778.1 229.1,780.5 228.1,780.5 228.1,776.8 227.1,776.8 227.1,780.3 226.1,780.3 226.1,779.9 225.1,779.9 225.1,777.9 224.1,777.9 224.1,775.2 223.1,775.2 223.1,777.1 222.1,777.1 222.1,778.5 221.1,778.5 221.1,774.6 220.1,774.6 220.1,778.0 219.1,778.0 219.1,780.2 218.1,780.2 218.1,778.9 217.1,778.9 217.1,775.9 216.1,775.9 216.1,779.6 215.1,779.6 215.1,778.0 214.1,778.0 214.1,780.5 213.1,780.5 213.1,779.8 212.1,779.8 212.1,779.2 211.1,779.2 211.1,779.7 210.1,779.7 210.1,779.8 209.1,779.8 209.1,780.3 208.1,780.3 208.1,776.4 207.1,776.4 207.1,779.8 206.1,779.8 206.1,778.5 205.1,778.5 205.1,780.5 204.1,780.5 204.1,777.6 203.1,777.6 203.1,780.1 202.1,780.1 202.1,778.1 201.1,778.1 201.1,778.0 200.1,778.0 200.1,777.7 199.1,777.7 199.1,777.5 198.1,777.5 198.1,778.7 197.1,778.7 197.1,780.0 196.1,780.0 196.1,779.3 195.1,779.3 195.1,779.8 194.1,779.8 194.1,780.2 193.1,780.2 193.1,777.2 192.1,777.2 192.1,776.4 191.1,776.4 191.1,777.9 190.1,777.9 190.1,777.5 189.1,777.5 189.1,773.6 188.1,773.6 188.1,780.0 187.1,780.0 187.1,779.8 186.1,779.8 186.1,778.7 185.1,778.7 185.1,778.7 184.1,778.7 184.1,779.8 183.1,779.8 183.1,779.8 182.1,779.8 182.1,778.6 181.1,778.6 181.1,780.4 180.1,780.4 180.1,778.9 179.1,778.9 179.1,779.4 178.1,779.4 178.1,778.2 177.1,778.2 177.1,776.7 176.1,776.7 176.1,778.6 175.1,778.6 175.1,779.5 174.1,779.5 174.1,776.8 173.1,776.8 173.1,779.4 172.1,779.4 172.1,779.8 171.1,779.8 171.1,779.0 170.1,779.0 170.1,776.5 169.1,776.5 169.1,778.8 168.1,778.8 168.1,780.8 167.1,780.8 167.1,780.4 166.1,780.4 166.1,780.4 165.1,780.4 165.1,779.1 164.1,779.1 164.1,780.2 163.1,780.2 163.1,780.6 162.1,780.6 162.1,780.1 161.1,780.1 161.1,780.6 160.1,780.6 160.1,776.8 159.1,776.8 159.1,778.2 158.1,778.2 158.1,778.4 157.1,778.4 157.1,778.6 156.1,778.6 156.1,780.0 155.1,780.0 155.1,780.5 154.1,780.5 154.1,777.9 153.1,777.9 153.1,779.5 152.1,779.5 152.1,777.1 151.1,777.1 151.1,779.6 150.1,779.6 150.1,778.9 149.1,778.9 149.1,779.0 148.1,779.0 148.1,779.1 147.1,779.1 147.1,779.8 146.1,779.8 146.1,780.6 145.1,780.6 145.1,779.7 144.1,779.7 144.1,779.8 143.1,779.8 143.1,778.5 142.1,778.5 142.1,780.7 141.1,780.7 141.1,779.7 140.1,779.7 140.1,779.8 139.1,779.8 139.1,777.9 138.1,777.9 138.1,776.4 137.1,776.4 137.1,779.4 136.1,779.4 136.1,779.9 135.1,779.9 135.1,779.6 134.1,779.6 134.1,778.7 133.1,778.7 133.1,778.9 132.1,778.9 132.1,780.1 131.1,780.1 131.1,780.0 130.1,780.0 130.1,779.7 129.1,779.7 129.1,777.2 128.1,777.2 128.1,780.8 127.1,780.8 127.1,778.1 126.1,778.1 126.1,779.2 125.1,779.2 125.1,780.0 124.1,780.0 124.1,779.4 123.1,779.4 123.1,776.7 122.1,776.7 122.1,778.9 121.1,778.9 121.1,778.1 120.1,778.1 120.1,778.6 119.1,778.6 119.1,779.8 118.1,779.8 118.1,780.2 117.1,780.2 117.1,779.2 116.1,779.2 116.1,779.2 115.1,779.2 115.1,779.9 114.1,779.9 114.1,780.0 113.1,780.0 113.1,778.2 112.1,778.2 112.1,779.4 111.1,779.4 111.1,780.6 110.1,780.6 110.1,779.8 109.1,779.8 109.1,779.1 108.1,779.1 108.1,775.6 107.1,775.6 107.1,779.2 106.1,779.2 106.1,776.6 105.1,776.6 105.1,780.6 104.1,780.6 104.1,778.9 103.1,778.9 103.1,780.8 102.1,780.8 102.1,780.1 101.1,780.1 101.1,779.3 100.1,779.3 100.1,780.2 99.1,780.2 99.1,779.8 98.1,779.8 98.1,780.4 97.1,780.4 97.1,777.9 96.1,777.9 96.1,779.5 95.1,779.5 95.1,780.2 94.1,780.2 94.1,775.2 93.1,775.2 93.1,776.6 92.1,776.6 92.1,780.1 91.1,780.1 91.1,779.0 90.1,779.0 90.1,779.8 89.1,779.8Z" fill="#d95319"/>
<path d="M89.1,708.4 89.6,709.8 90.1,705.6 90.6,707.0 91.1,704.9 91.6,708.5 92.1,703.1 92.6,702.4 93.1,701.6 93.6,698.0 94.1,699.5 94.6,695.6 95.1,698.6 95.6,691.7 96.1,690.7 96.6,683.3 97.1,684.2 97.6,680.8 98.1,685.6 98.6,677.4 99.1,675.8 99.6,667.1 100.1,664.1 100.6,661.7 101.1,657.0 101.6,651.9 102.1,646.2 102.6,637.7 103.1,629.4 103.6,620.2 104.1,607.0 104.6,579.7 105.1,577.6 105.6,580.2 106.1,584.6 106.6,607.5 107.1,620.3 107.6,632.1 108.1,638.8 108.6,639.9 109.1,648.7 109.6,650.3 110.1,659.1 110.6,658.8 111.1,663.5 111.6,667.8 112.1,673.5 112.6,669.5 113.1,674.5 113.6,677.1 114.1,677.3 114.6,683.3 115.1,680.1 115.6,683.2 116.1,685.4 116.6,686.9 117.1,691.2 117.6,691.6 118.1,691.7 118.6,695.0 119.1,692.4 119.6,694.7 120.1,694.7 120.6,702.0 121.1,696.6 121.6,701.9 122.1,703.5 122.6,703.5 123.1,700.8 123.6,703.7 124.1,704.7 124.6,704.2 125.1,704.9 125.6,705.5 126.1,706.7 126.6,708.7 127.1,709.0 127.6,713.6 128.1,711.7 128.6,716.7 129.1,712.8 129.6,713.0 130.1,715.4 130.6,715.4 131.1,712.6 131.6,716.1 132.1,696.0 132.6,712.3 133.1,716.1 133.6,715.3 134.1,716.7 134.6,716.8 135.1,716.0 135.6,719.3 136.1,717.6 136.6,720.6 137.1,720.8 137.6,718.9 138.1,721.9 138.6,726.4 139.1,721.7 139.6,718.8 140.1,723.9 140.6,720.8 141.1,723.1 141.6,725.8 142.1,723.5 142.6,727.9 143.1,720.8 143.6,724.4 144.1,723.0 144.6,724.0 145.1,727.3 145.6,725.2 146.1,722.1 146.6,723.0 147.1,725.7 147.6,726.6 148.1,725.4 148.6,705.9 149.1,725.0 149.6,729.1 150.1,727.4 150.6,724.2 151.1,726.1 151.6,727.6 152.1,726.1 152.6,727.0 153.1,726.1 153.6,724.4 154.1,727.0 154.6,730.4 155.1,726.1 155.6,728.7 156.1,708.6 156.6,725.2 157.1,727.3 157.6,726.4 158.1,730.5 158.6,731.2 159.1,728.3 159.6,726.9 160.1,724.9 160.6,729.2 161.1,729.8 161.6,729.7 162.1,729.5 162.6,727.6 163.1,731.0 163.6,726.5 164.1,730.9 164.6,723.4 165.1,728.5 165.6,728.0 166.1,731.7 166.6,727.7 167.1,732.3 167.6,726.6 168.1,729.7 168.6,727.9 169.1,714.7 169.6,726.5 170.1,725.7 170.6,726.1 171.1,727.0 171.6,729.8 172.1,730.9 172.6,727.0 173.1,727.9 173.6,729.7 174.1,728.7 174.6,726.6 175.1,726.7 175.6,729.8 176.1,731.3 176.6,732.6 177.1,729.6 177.6,708.2 178.1,731.4 178.6,726.4 179.1,724.6 179.6,730.2 180.1,727.0 180.6,728.8 181.1,727.3 181.6,728.2 182.1,728.7 182.6,726.5 183.1,727.0 183.6,729.3 184.1,727.4 184.6,729.7 185.1,728.5 185.6,727.1 186.1,715.4 186.6,731.6 187.1,727.1 187.6,730.8 188.1,727.8 188.6,726.8 189.1,731.4 189.6,730.5 190.1,712.1 190.6,727.5 191.1,732.5 191.6,726.1 192.1,729.4 192.6,730.5 193.1,727.5 193.6,729.3 194.1,727.9 194.6,727.4 195.1,722.9 195.6,726.0 196.1,727.3 196.6,727.6 197.1,727.1 197.6,726.7 198.1,729.0 198.6,726.6 199.1,729.1 199.6,728.8 200.1,727.8 200.6,725.4 201.1,725.8 201.6,733.7 202.1,724.9 202.6,727.3 203.1,727.2 203.6,724.3 204.1,728.8 204.6,729.4 205.1,731.3 205.6,729.6 206.1,725.4 206.6,728.7 207.1,729.2 207.6,726.1 208.1,729.0 208.6,728.5 209.1,728.5 209.6,726.0 210.1,728.2 210.6,727.8 211.1,727.0 211.6,730.4 212.1,727.1 212.6,730.3 213.1,729.0 213.6,727.4 214.1,726.1 214.6,726.9 215.1,724.1 215.6,726.0 216.1,725.0 216.6,727.1 217.1,727.4 217.6,722.5 218.1,729.4 218.6,723.4 219.1,727.4 219.6,724.4 220.1,728.4 220.6,724.6 221.1,724.9 221.6,729.9 222.1,726.8 222.6,724.1 223.1,723.2 223.6,724.7 224.1,726.4 224.6,725.3 225.1,727.8 225.6,727.1 226.1,724.5 226.6,724.9 227.1,723.3 227.6,724.4 228.1,723.5 228.6,724.8 229.1,723.3 229.6,719.3 230.1,726.4 230.6,724.0 231.1,725.2 231.6,723.1 232.1,723.1 232.6,725.7 233.1,723.6 233.6,723.4 234.1,724.0 234.6,723.0 235.1,720.7 235.6,722.3 236.1,724.0 236.6,722.9 237.1,719.1 237.6,724.5 238.1,720.8 238.6,724.4 239.1,726.3 239.6,724.3 240.1,722.1 240.6,723.2 241.1,724.1 241.6,724.2 242.1,724.5 242.6,724.6 243.1,723.6 243.6,727.4 244.1,721.2 244.6,721.4 245.1,721.7 245.6,720.0 246.1,723.0 246.6,721.7 247.1,727.0 247.6,721.1 248.1,722.3 248.6,720.1 249.1,719.5 249.6,721.5 250.1,700.7 250.6,720.3 251.1,719.1 251.6,718.9 252.1,721.8 252.6,722.5 253.1,721.1 253.6,722.6 254.1,724.8 254.6,719.4 255.1,719.2 255.6,718.6 256.1,721.7 256.6,719.9 257.1,722.2 257.6,722.7 258.1,718.5 258.6,723.2 259.1,720.0 259.6,714.3 260.1,716.5 260.6,717.5 261.1,717.6 261.6,719.1 262.1,719.8 262.6,714.3 263.1,718.8 263.6,719.5 264.1,716.8 264.6,718.2 265.1,715.2 265.6,719.1 266.1,719.4 266.6,718.4 267.1,714.1 267.6,715.4 268.1,716.6 268.6,716.9 269.1,716.2 269.6,718.8 270.1,715.6 270.6,717.6 271.1,693.1 271.6,716.2 272.1,715.5 272.6,717.0 273.1,713.9 273.6,690.3 274.1,717.2 274.6,714.5 275.1,716.0 275.6,714.4 276.1,713.3 276.6,715.9 277.1,714.8 277.6,714.5 278.1,714.4 278.6,710.1 279.1,713.5 279.6,716.4 280.1,713.7 280.6,714.9 281.1,708.5 281.6,714.8 282.1,715.6 282.6,711.6 283.1,714.1 283.6,713.6 284.1,713.2 284.6,713.9 285.1,713.2 285.6,716.8 286.1,712.3 286.6,710.5 287.1,707.8 287.6,711.4 288.1,709.7 288.6,712.7 289.1,708.0 289.6,706.2 290.1,710.0 290.6,711.2 291.1,710.2 291.6,706.9 292.1,712.6 292.6,707.1 293.1,711.7 293.6,711.2 294.1,708.7 294.6,707.7 295.1,706.9 295.6,705.7 296.1,710.9 296.6,708.2 297.1,706.5 297.6,707.4 298.1,705.4 298.6,707.5 299.1,707.9 299.6,711.8 300.1,710.8 300.6,705.1 301.1,708.9 301.6,705.7 302.1,704.7 302.6,706.1 303.1,703.6 303.6,706.8 304.1,704.0 304.6,705.3 305.1,707.9 305.6,708.8 306.1,704.8 306.6,700.7 307.1,701.5 307.6,702.7 308.1,701.8 308.6,701.3 309.1,703.5 309.6,700.0 310.1,701.9 310.6,703.3 311.1,693.9 311.6,700.3 312.1,701.7 312.6,699.6 313.1,703.5 313.6,703.2 314.1,696.4 314.6,678.9 315.1,702.1 315.6,703.0 316.1,699.6 316.6,701.3 317.1,696.0 317.6,702.5 318.1,695.7 318.6,700.1 319.1,700.3 319.6,697.3 320.1,687.7 320.6,698.0 321.1,697.6 321.6,701.2 322.1,698.3 322.6,694.8 323.1,699.6 323.6,697.7 324.1,696.5 324.6,692.3 325.1,691.9 325.6,690.4 326.1,670.8 326.6,691.1 327.1,691.9 327.6,694.8 328.1,690.6 328.6,691.4 329.1,692.4 329.6,692.9 330.1,693.6 330.6,688.7 331.1,688.5 331.6,689.6 332.1,689.4 332.6,689.4 333.1,686.1 333.6,686.9 334.1,690.6 334.6,686.2 335.1,685.0 335.6,686.8 336.1,686.0 336.6,685.8 337.1,682.7 337.6,684.4 338.1,683.1 338.6,682.4 339.1,678.8 339.6,684.7 340.1,676.0 340.6,683.0 341.1,680.3 341.6,681.0 342.1,678.4 342.6,676.9 343.1,672.5 343.6,674.3 344.1,677.7 344.6,675.1 345.1,674.7 345.6,675.7 346.1,672.3 346.6,672.3 347.1,673.1 347.6,672.8 348.1,669.1 348.6,670.1 349.1,666.5 349.6,666.4 350.1,669.9 350.6,670.9 351.1,665.5 351.6,666.1 352.1,665.9 352.6,664.2 353.1,658.6 353.6,661.1 354.1,655.5 354.6,656.7 355.1,660.9 355.6,655.0 356.1,651.5 356.6,657.1 357.1,654.6 357.6,650.7 358.1,650.1 358.6,643.7 359.1,647.4 359.6,640.2 360.1,644.8 360.6,641.6 361.1,636.9 361.6,634.1 362.1,632.3 362.6,626.4 363.1,622.8 363.6,619.0 364.1,619.5 364.6,613.0 365.1,610.2 365.6,600.3 366.1,600.4 366.6,586.1 367.1,568.6 367.6,564.4 368.1,560.0 368.6,575.2 369.1,588.9 369.6,599.7 370.1,604.8 370.6,612.7 371.1,613.8 371.6,618.2 372.1,628.4 372.6,631.8 373.1,614.2 373.6,632.3 374.1,639.1 374.6,638.1 375.1,642.8 375.6,640.5 376.1,646.9 376.6,647.2 377.1,646.6 377.6,649.1 378.1,648.5 378.6,651.3 379.1,656.8 379.6,654.4 380.1,658.6 380.6,654.3 381.1,655.2 381.6,657.3 382.1,656.1 382.6,660.1 383.1,659.7 383.6,661.8 384.1,662.9 384.6,663.9 385.1,666.0 385.6,663.6 386.1,670.6 386.6,672.5 387.1,671.6 387.6,667.3 388.1,672.1 388.6,674.0 389.1,674.8 389.6,672.7 390.1,674.5 390.6,672.5 391.1,676.4 391.6,674.4 392.1,659.3 392.6,676.4 393.1,671.7 393.6,679.2 394.1,679.6 394.6,658.0 395.1,682.6 395.6,682.0 396.1,682.7 396.6,681.5 397.1,685.5 397.6,680.0 398.1,683.3 398.6,683.7 399.1,684.9 399.6,685.1 400.1,690.4 400.6,683.2 401.1,688.3 401.6,685.1 402.1,687.6 402.6,688.2 403.1,687.1 403.6,685.0 404.1,689.2 404.6,690.6 405.1,688.8 405.6,695.5 406.1,692.4 406.6,693.1 407.1,692.1 407.6,694.6 408.1,690.3 408.6,693.1 409.1,692.5 409.6,693.1 410.1,694.2 410.6,695.3 411.1,691.5 411.6,692.8 412.1,691.7 412.6,695.5 413.1,694.9 413.6,695.1 414.1,696.9 414.6,696.6 415.1,700.2 415.6,699.6 416.1,699.4 416.6,700.1 417.1,697.1 417.6,697.5 418.1,697.7 418.6,699.4 419.1,697.0 419.6,697.5 420.1,698.5 420.6,700.7 421.1,696.9 421.6,703.0 422.1,704.2 422.6,703.8 423.1,698.7 423.6,701.3 424.1,703.0 424.6,707.0 425.1,702.8 425.6,704.6 426.1,707.2 426.6,700.7 427.1,703.2 427.6,700.5 428.1,703.8 428.6,702.8 429.1,705.7 429.6,703.1 430.1,705.5 430.6,703.6 431.1,704.6 431.6,707.6 432.1,705.5 432.6,705.4 433.1,707.4 433.6,706.4 434.1,704.4 434.6,703.9 435.1,706.6 435.6,711.8 436.1,705.6 436.6,703.4 437.1,708.1 437.6,709.6 438.1,707.3 438.6,707.7 439.1,706.5 439.6,709.9 440.1,705.0 440.6,706.9 441.1,711.2 441.6,707.0 442.1,709.7 442.6,708.1 443.1,709.0 443.6,709.8 444.1,709.5 444.6,711.2 445.1,712.0 445.6,711.2 446.1,711.4 446.6,710.2 447.1,710.8 447.6,714.8 448.1,709.7 448.6,711.7 449.1,710.0 449.6,710.5 450.1,711.5 450.6,711.1 451.1,715.5 451.6,709.3 452.1,708.6 452.6,711.5 453.1,714.1 453.6,711.7 454.1,714.0 454.6,710.0 455.1,714.6 455.6,716.2 456.1,715.7 456.6,715.6 457.1,712.7 457.6,714.4 458.1,713.9 458.6,715.3 459.1,711.9 459.6,714.8 460.1,714.5 460.6,711.8 461.1,714.6 461.6,716.5 462.1,716.0 462.6,713.2 463.1,715.0 463.6,717.6 464.1,713.5 464.6,719.3 465.1,720.8 465.6,718.5 466.1,720.5 466.6,717.1 467.1,716.7 467.6,717.5 468.1,718.2 468.6,719.4 469.1,715.3 469.6,721.5 470.1,715.9 470.6,717.1 471.1,717.9 471.6,716.9 472.1,721.2 472.6,716.0 473.1,717.1 473.6,715.9 474.1,722.8 474.6,718.0 475.1,718.9 475.6,723.6 476.1,719.5 476.6,718.8 477.1,720.7 477.6,718.3 478.1,718.0 478.6,720.3 479.1,720.2 479.6,717.9 480.1,721.7 480.6,718.7 481.1,717.0 481.6,720.0 482.1,719.2 482.6,720.1 483.1,718.5 483.6,723.5 484.1,724.0 484.6,722.3 485.1,721.9 485.6,718.6 486.1,717.9 486.6,719.6 487.1,718.3 487.6,721.9 488.1,722.3 488.6,724.5 489.1,718.8 489.6,720.2 490.1,721.6 490.6,724.4 491.1,723.8 491.6,720.7 492.1,721.8 492.6,719.6 493.1,721.6 493.6,723.5 494.1,724.6 494.6,722.2 495.1,718.8 495.6,718.2 496.1,724.0 496.6,721.4 497.1,724.1 497.6,722.1 498.1,728.8 498.6,724.2 499.1,726.7 499.6,719.9 500.1,723.9 500.6,722.1 501.1,723.1 501.6,726.1 502.1,722.0 502.6,721.1 503.1,723.0 503.6,722.4 504.1,721.2 504.6,722.4 505.1,724.0 505.6,727.2 506.1,725.7 506.6,725.5 507.1,722.4 507.6,721.2 508.1,724.0 508.6,722.0 509.1,729.3 509.6,723.7 510.1,726.8 510.6,722.4 511.1,721.8 511.6,722.1 512.1,711.2 512.6,722.2 513.1,720.8 513.6,725.8 514.1,721.4 514.6,725.4 515.1,727.7 515.6,723.6 516.1,723.3 516.6,724.3 517.1,726.3 517.6,723.7 518.1,712.3 518.6,719.9 519.1,724.4 519.6,724.3 520.1,726.3 520.6,724.0 521.1,721.8 521.6,726.9 522.1,726.2 522.6,729.5 523.1,725.7 523.6,722.2 524.1,728.2 524.6,726.5 525.1,727.3 525.6,726.4 526.1,727.5 526.6,726.6 527.1,728.3 527.6,725.5 528.1,724.0 528.6,724.4 529.1,730.0 529.6,723.3 530.1,724.6 530.6,723.8 531.1,728.1 531.6,727.5 532.1,724.9 532.6,722.6 533.1,728.4 533.6,725.8 534.1,725.5 534.6,727.2 535.1,711.9 535.6,727.6 536.1,723.8 536.6,730.0 537.1,725.9 537.6,727.7 538.1,726.8 538.6,728.6 539.1,733.0 539.6,723.5 540.1,725.2 540.6,725.8 541.1,726.8 541.6,726.1 542.1,727.4 542.6,726.5 543.1,723.8 543.6,728.1 544.1,728.6 544.6,722.9 545.1,727.9 545.6,726.4 546.1,727.2 546.6,725.6 547.1,725.5 547.6,726.6 548.1,728.9 548.6,728.9 549.1,726.8 549.6,723.1 550.1,730.7 550.6,727.1 551.1,725.9 551.6,728.1 552.1,726.4 552.6,727.2 553.1,725.3 553.6,723.4 554.1,727.6 554.6,726.3 555.1,726.0 555.6,726.6 556.1,726.9 556.6,731.4 557.1,726.7 557.6,729.1 558.1,727.8 558.6,726.0 559.1,725.7 559.6,727.8 560.1,727.8 560.6,727.4 561.1,729.0 561.6,723.5 562.1,723.1 562.6,727.2 563.1,723.3 563.6,725.1 564.1,728.9 564.6,724.7 565.1,725.2 565.6,726.3 566.1,729.6 566.6,727.8 567.1,731.3 567.6,726.5 568.1,727.0 568.6,708.9 569.1,729.0 569.6,723.5 570.1,729.4 570.6,724.6 571.1,725.9 571.6,723.5 572.1,729.5 572.6,725.7 573.1,723.3 573.6,726.2 574.1,728.8 574.6,729.8 575.1,727.1 575.6,723.4 576.1,722.3 576.6,725.3 577.1,723.5 577.6,723.2 578.1,723.9 578.6,726.9 579.1,723.5 579.6,727.0 580.1,724.6 580.6,723.0 581.1,722.3 581.6,724.8 582.1,722.0 582.6,721.1 583.1,722.1 583.6,724.1 584.1,723.3 584.6,723.7 585.1,723.5 585.6,722.0 586.1,721.1 586.6,723.2 587.1,721.5 587.6,722.4 588.1,722.5 588.6,724.7 589.1,721.7 589.6,722.5 590.1,721.5 590.6,719.8 591.1,720.2 591.6,720.1 592.1,722.5 592.6,724.6 593.1,721.8 593.6,720.8 594.1,720.2 594.6,717.5 595.1,719.5 595.6,716.9 596.1,720.5 596.6,721.7 597.1,717.4 597.6,721.3 598.1,721.9 598.6,719.5 599.1,717.4 599.6,715.5 600.1,717.5 600.6,715.3 601.1,716.9 601.6,719.9 602.1,718.5 602.6,719.3 603.1,715.9 603.6,719.4 604.1,717.7 604.6,716.0 605.1,712.0 605.6,712.3 606.1,713.8 606.6,712.1 607.1,712.6 607.6,705.9 608.1,714.6 608.6,714.9 609.1,714.1 609.6,712.5 610.1,709.7 610.6,706.4 611.1,708.3 611.6,707.7 612.1,706.8 612.6,705.4 613.1,707.0 613.6,703.1 614.1,703.7 614.6,702.3 615.1,700.8 615.6,699.9 616.1,698.6 616.6,701.1 617.1,697.3 617.6,700.5 618.1,700.6 618.6,695.9 619.1,693.1 619.6,691.7 620.1,690.6 620.6,688.2 621.1,692.2 621.6,688.1 622.1,685.8 622.6,685.2 623.1,681.0 623.6,678.4 624.1,676.8 624.6,674.8 625.1,667.6 625.6,669.4 626.1,666.3 626.6,660.2 627.1,654.8 627.6,655.6 628.1,650.0 628.6,638.0 629.1,628.8 629.6,615.1 630.1,608.9 630.6,607.0 631.1,615.8 631.6,631.2 632.1,635.8 632.6,649.3 633.1,653.0 633.6,656.3 634.1,661.3 634.6,667.9 635.1,670.1 635.6,670.6 636.1,675.4 636.6,673.5 637.1,679.5 637.6,677.5 638.1,683.2 638.6,682.4 639.1,685.7 639.6,688.1 640.1,692.5 640.6,689.9 641.1,692.3 641.6,693.0 642.1,696.1 642.6,698.1 643.1,699.2 643.6,698.5 644.1,697.4 644.6,700.9 645.1,703.5 645.6,703.8 646.1,705.3 646.6,707.1 647.1,705.3 647.6,706.7 648.1,706.8 648.6,702.8 649.1,705.5 649.6,705.1 650.1,708.7 650.6,708.8 651.1,711.6 651.6,714.2 652.1,714.3 652.6,712.4 653.1,711.2 653.6,708.0 654.1,713.3 654.6,716.8 655.1,714.9 655.6,689.4 656.1,717.4 656.6,716.4 657.1,714.8 657.6,716.0 658.1,715.7 658.6,716.9 659.1,717.4 659.6,714.9 660.1,716.3 660.6,717.9 661.1,717.7 661.6,719.2 662.1,719.6 662.6,718.9 663.1,719.6 663.6,715.1 664.1,720.1 664.6,720.0 665.1,716.8 665.6,723.4 666.1,721.5 666.6,719.4 667.1,721.8 667.1,780.5 666.1,780.5 666.1,775.1 665.1,775.1 665.1,780.2 664.1,780.2 664.1,780.1 663.1,780.1 663.1,780.5 662.1,780.5 662.1,778.1 661.1,778.1 661.1,776.7 660.1,776.7 660.1,777.2 659.1,777.2 659.1,780.3 658.1,780.3 658.1,777.9 657.1,777.9 657.1,774.6 656.1,774.6 656.1,780.6 655.1,780.6 655.1,772.8 654.1,772.8 654.1,777.2 653.1,777.2 653.1,780.3 652.1,780.3 652.1,774.0 651.1,774.0 651.1,777.4 650.1,777.4 650.1,778.1 649.1,778.1 649.1,775.6 648.1,775.6 648.1,780.1 647.1,780.1 647.1,773.4 646.1,773.4 646.1,777.2 645.1,777.2 645.1,779.6 644.1,779.6 644.1,780.7 643.1,780.7 643.1,779.4 642.1,779.4 642.1,779.0 641.1,779.0 641.1,779.8 640.1,779.8 640.1,779.0 639.1,779.0 639.1,778.2 638.1,778.2 638.1,780.3 637.1,780.3 637.1,780.1 636.1,780.1 636.1,777.6 635.1,777.6 635.1,772.6 634.1,772.6 634.1,777.7 633.1,777.7 633.1,778.3 632.1,778.3 632.1,777.2 631.1,777.2 631.1,780.0 630.1,780.0 630.1,778.3 629.1,778.3 629.1,780.5 628.1,780.5 628.1,777.7 627.1,777.7 627.1,778.7 626.1,778.7 626.1,779.8 625.1,779.8 625.1,780.0 624.1,780.0 624.1,774.0 623.1,774.0 623.1,780.5 622.1,780.5 622.1,776.1 621.1,776.1 621.1,777.9 620.1,777.9 620.1,779.2 619.1,779.2 619.1,778.8 618.1,778.8 618.1,779.8 617.1,779.8 617.1,777.8 616.1,777.8 616.1,775.6 615.1,775.6 615.1,774.5 614.1,774.5 614.1,779.1 613.1,779.1 613.1,772.3 612.1,772.3 612.1,780.4 611.1,780.4 611.1,777.9 610.1,777.9 610.1,773.3 609.1,773.3 609.1,779.7 608.1,779.7 608.1,779.7 607.1,779.7 607.1,776.9 606.1,776.9 606.1,777.5 605.1,777.5 605.1,779.6 604.1,779.6 604.1,775.6 603.1,775.6 603.1,779.1 602.1,779.1 602.1,776.6 601.1,776.6 601.1,778.6 600.1,778.6 600.1,780.6 599.1,780.6 599.1,780.1 598.1,780.1 598.1,779.9 597.1,779.9 597.1,779.8 596.1,779.8 596.1,775.0 595.1,775.0 595.1,780.2 594.1,780.2 594.1,772.3 593.1,772.3 593.1,778.1 592.1,778.1 592.1,778.2 591.1,778.2 591.1,776.7 590.1,776.7 590.1,776.9 589.1,776.9 589.1,767.5 588.1,767.5 588.1,779.9 587.1,779.9 587.1,772.9 586.1,772.9 586.1,776.9 585.1,776.9 585.1,778.3 584.1,778.3 584.1,777.7 583.1,777.7 583.1,775.4 582.1,775.4 582.1,778.0 581.1,778.0 581.1,779.0 580.1,779.0 580.1,779.2 579.1,779.2 579.1,775.6 578.1,775.6 578.1,772.0 577.1,772.0 577.1,780.3 576.1,780.3 576.1,778.9 575.1,778.9 575.1,780.0 574.1,780.0 574.1,775.6 573.1,775.6 573.1,779.3 572.1,779.3 572.1,776.0 571.1,776.0 571.1,780.5 570.1,780.5 570.1,780.6 569.1,780.6 569.1,778.6 568.1,778.6 568.1,776.8 567.1,776.8 567.1,775.7 566.1,775.7 566.1,779.1 565.1,779.1 565.1,779.5 564.1,779.5 564.1,779.4 563.1,779.4 563.1,775.4 562.1,775.4 562.1,778.5 561.1,778.5 561.1,777.8 560.1,777.8 560.1,778.6 559.1,778.6 559.1,771.0 558.1,771.0 558.1,780.8 557.1,780.8 557.1,779.0 556.1,779.0 556.1,779.4 555.1,779.4 555.1,777.9 554.1,777.9 554.1,778.1 553.1,778.1 553.1,777.9 552.1,777.9 552.1,779.9 551.1,779.9 551.1,775.9 550.1,775.9 550.1,778.0 549.1,778.0 549.1,773.9 548.1,773.9 548.1,779.4 547.1,779.4 547.1,779.6 546.1,779.6 546.1,778.5 545.1,778.5 545.1,779.0 544.1,779.0 544.1,778.7 543.1,778.7 543.1,778.9 542.1,778.9 542.1,780.2 541.1,780.2 541.1,780.4 540.1,780.4 540.1,779.0 539.1,779.0 539.1,774.1 538.1,774.1 538.1,778.0 537.1,778.0 537.1,779.4 536.1,779.4 536.1,777.4 535.1,777.4 535.1,773.9 534.1,773.9 534.1,780.2 533.1,780.2 533.1,779.8 532.1,779.8 532.1,779.6 531.1,779.6 531.1,771.6 530.1,771.6 530.1,779.0 529.1,779.0 529.1,776.2 528.1,776.2 528.1,771.4 527.1,771.4 527.1,773.9 526.1,773.9 526.1,779.9 525.1,779.9 525.1,776.6 524.1,776.6 524.1,777.8 523.1,777.8 523.1,773.5 522.1,773.5 522.1,779.3 521.1,779.3 521.1,778.9 520.1,778.9 520.1,780.3 519.1,780.3 519.1,779.8 518.1,779.8 518.1,779.7 517.1,779.7 517.1,780.1 516.1,780.1 516.1,777.6 515.1,777.6 515.1,778.0 514.1,778.0 514.1,779.1 513.1,779.1 513.1,778.1 512.1,778.1 512.1,779.6 511.1,779.6 511.1,778.0 510.1,778.0 510.1,772.8 509.1,772.8 509.1,780.6 508.1,780.6 508.1,779.4 507.1,779.4 507.1,778.4 506.1,778.4 506.1,777.6 505.1,777.6 505.1,777.9 504.1,777.9 504.1,777.9 503.1,777.9 503.1,776.7 502.1,776.7 502.1,779.3 501.1,779.3 501.1,779.9 500.1,779.9 500.1,780.0 499.1,780.0 499.1,779.1 498.1,779.1 498.1,776.2 497.1,776.2 497.1,778.9 496.1,778.9 496.1,778.5 495.1,778.5 495.1,766.6 494.1,766.6 494.1,778.7 493.1,778.7 493.1,778.4 492.1,778.4 492.1,776.2 491.1,776.2 491.1,779.6 490.1,779.6 490.1,775.6 489.1,775.6 489.1,776.6 488.1,776.6 488.1,777.9 487.1,777.9 487.1,780.0 486.1,780.0 486.1,780.6 485.1,780.6 485.1,780.4 484.1,780.4 484.1,779.6 483.1,779.6 483.1,779.7 482.1,779.7 482.1,778.7 481.1,778.7 481.1,778.8 480.1,778.8 480.1,778.0 479.1,778.0 479.1,778.1 478.1,778.1 478.1,779.8 477.1,779.8 477.1,779.1 476.1,779.1 476.1,775.0 475.1,775.0 475.1,779.1 474.1,779.1 474.1,773.0 473.1,773.0 473.1,780.1 472.1,780.1 472.1,778.9 471.1,778.9 471.1,779.0 470.1,779.0 470.1,778.3 469.1,778.3 469.1,779.6 468.1,779.6 468.1,777.1 467.1,777.1 467.1,774.6 466.1,774.6 466.1,779.1 465.1,779.1 465.1,779.9 464.1,779.9 464.1,776.6 463.1,776.6 463.1,779.5 462.1,779.5 462.1,776.1 461.1,776.1 461.1,778.0 460.1,778.0 460.1,776.5 459.1,776.5 459.1,779.8 458.1,779.8 458.1,780.7 457.1,780.7 457.1,775.3 456.1,775.3 456.1,779.0 455.1,779.0 455.1,776.0 454.1,776.0 454.1,778.0 453.1,778.0 453.1,780.0 452.1,780.0 452.1,778.4 451.1,778.4 451.1,777.0 450.1,777.0 450.1,780.5 449.1,780.5 449.1,779.5 448.1,779.5 448.1,779.2 447.1,779.2 447.1,777.1 446.1,777.1 446.1,763.2 445.1,763.2 445.1,776.8 444.1,776.8 444.1,780.4 443.1,780.4 443.1,778.3 442.1,778.3 442.1,770.2 441.1,770.2 441.1,776.8 440.1,776.8 440.1,779.6 439.1,779.6 439.1,779.2 438.1,779.2 438.1,778.4 437.1,778.4 437.1,778.5 436.1,778.5 436.1,779.2 435.1,779.2 435.1,780.5 434.1,780.5 434.1,773.3 433.1,773.3 433.1,780.1 432.1,780.1 432.1,780.1 431.1,780.1 431.1,780.3 430.1,780.3 430.1,779.7 429.1,779.7 429.1,778.0 428.1,778.0 428.1,780.6 427.1,780.6 427.1,780.2 426.1,780.2 426.1,779.0 425.1,779.0 425.1,775.4 424.1,775.4 424.1,779.4 423.1,779.4 423.1,777.7 422.1,777.7 422.1,776.6 421.1,776.6 421.1,778.6 420.1,778.6 420.1,778.8 419.1,778.8 419.1,778.9 418.1,778.9 418.1,778.5 417.1,778.5 417.1,776.5 416.1,776.5 416.1,776.0 415.1,776.0 415.1,780.6 414.1,780.6 414.1,778.4 413.1,778.4 413.1,779.2 412.1,779.2 412.1,775.7 411.1,775.7 411.1,779.2 410.1,779.2 410.1,780.2 409.1,780.2 409.1,769.2 408.1,769.2 408.1,776.7 407.1,776.7 407.1,770.6 406.1,770.6 406.1,779.1 405.1,779.1 405.1,779.5 404.1,779.5 404.1,779.3 403.1,779.3 403.1,779.1 402.1,779.1 402.1,769.4 401.1,769.4 401.1,779.7 400.1,779.7 400.1,778.9 399.1,778.9 399.1,775.3 398.1,775.3 398.1,763.9 397.1,763.9 397.1,775.9 396.1,775.9 396.1,777.1 395.1,777.1 395.1,778.0 394.1,778.0 394.1,776.6 393.1,776.6 393.1,776.3 392.1,776.3 392.1,779.9 391.1,779.9 391.1,780.0 390.1,780.0 390.1,779.2 389.1,779.2 389.1,779.0 388.1,779.0 388.1,778.4 387.1,778.4 387.1,779.1 386.1,779.1 386.1,779.1 385.1,779.1 385.1,772.5 384.1,772.5 384.1,777.4 383.1,777.4 383.1,767.6 382.1,767.6 382.1,769.5 381.1,769.5 381.1,780.3 380.1,780.3 380.1,778.9 379.1,778.9 379.1,780.3 378.1,780.3 378.1,768.2 377.1,768.2 377.1,778.8 376.1,778.8 376.1,779.4 375.1,779.4 375.1,779.6 374.1,779.6 374.1,779.4 373.1,779.4 373.1,780.6 372.1,780.6 372.1,780.3 371.1,780.3 371.1,778.2 370.1,778.2 370.1,777.9 369.1,777.9 369.1,765.1 368.1,765.1 368.1,778.8 367.1,778.8 367.1,779.9 366.1,779.9 366.1,774.9 365.1,774.9 365.1,759.0 364.1,759.0 364.1,759.6 363.1,759.6 363.1,776.4 362.1,776.4 362.1,766.9 361.1,766.9 361.1,777.8 360.1,777.8 360.1,780.0 359.1,780.0 359.1,780.0 358.1,780.0 358.1,779.0 357.1,779.0 357.1,776.8 356.1,776.8 356.1,779.8 355.1,779.8 355.1,778.0 354.1,778.0 354.1,776.3 353.1,776.3 353.1,780.4 352.1,780.4 352.1,777.4 351.1,777.4 351.1,778.7 350.1,778.7 350.1,775.4 349.1,775.4 349.1,769.8 348.1,769.8 348.1,780.5 347.1,780.5 347.1,773.2 346.1,773.2 346.1,777.0 345.1,777.0 345.1,770.6 344.1,770.6 344.1,779.5 343.1,779.5 343.1,778.3 342.1,778.3 342.1,774.9 341.1,774.9 341.1,779.2 340.1,779.2 340.1,775.0 339.1,775.0 339.1,764.0 338.1,764.0 338.1,777.8 337.1,777.8 337.1,774.2 336.1,774.2 336.1,779.8 335.1,779.8 335.1,774.1 334.1,774.1 334.1,778.7 333.1,778.7 333.1,779.3 332.1,779.3 332.1,778.1 331.1,778.1 331.1,777.0 330.1,777.0 330.1,775.9 329.1,775.9 329.1,776.8 328.1,776.8 328.1,779.2 327.1,779.2 327.1,776.5 326.1,776.5 326.1,779.9 325.1,779.9 325.1,778.1 324.1,778.1 324.1,778.9 323.1,778.9 323.1,774.0 322.1,774.0 322.1,779.8 321.1,779.8 321.1,776.7 320.1,776.7 320.1,779.3 319.1,779.3 319.1,776.4 318.1,776.4 318.1,777.0 317.1,777.0 317.1,776.3 316.1,776.3 316.1,779.3 315.1,779.3 315.1,778.9 314.1,778.9 314.1,779.6 313.1,779.6 313.1,777.0 312.1,777.0 312.1,776.8 311.1,776.8 311.1,779.2 310.1,779.2 310.1,775.5 309.1,775.5 309.1,779.5 308.1,779.5 308.1,778.0 307.1,778.0 307.1,780.6 306.1,780.6 306.1,777.7 305.1,777.7 305.1,774.2 304.1,774.2 304.1,780.3 303.1,780.3 303.1,778.1 302.1,778.1 302.1,779.0 301.1,779.0 301.1,774.1 300.1,774.1 300.1,779.2 299.1,779.2 299.1,776.1 298.1,776.1 298.1,780.1 297.1,780.1 297.1,780.4 296.1,780.4 296.1,777.3 295.1,777.3 295.1,779.1 294.1,779.1 294.1,779.5 293.1,779.5 293.1,772.2 292.1,772.2 292.1,778.9 291.1,778.9 291.1,777.9 290.1,777.9 290.1,778.2 289.1,778.2 289.1,772.9 288.1,772.9 288.1,774.9 287.1,774.9 287.1,778.4 286.1,778.4 286.1,779.2 285.1,779.2 285.1,779.6 284.1,779.6 284.1,778.1 283.1,778.1 283.1,778.6 282.1,778.6 282.1,779.5 281.1,779.5 281.1,779.7 280.1,779.7 280.1,780.7 279.1,780.7 279.1,779.5 278.1,779.5 278.1,780.2 277.1,780.2 277.1,780.0 276.1,780.0 276.1,777.6 275.1,777.6 275.1,780.7 274.1,780.7 274.1,776.4 273.1,776.4 273.1,779.7 272.1,779.7 272.1,779.7 271.1,779.7 271.1,778.7 270.1,778.7 270.1,778.7 269.1,778.7 269.1,780.1 268.1,780.1 268.1,779.6 267.1,779.6 267.1,778.9 266.1,778.9 266.1,772.6 265.1,772.6 265.1,780.2 264.1,780.2 264.1,779.7 263.1,779.7 263.1,780.3 262.1,780.3 262.1,776.5 261.1,776.5 261.1,780.7 260.1,780.7 260.1,780.1 259.1,780.1 259.1,776.8 258.1,776.8 258.1,779.9 257.1,779.9 257.1,777.6 256.1,777.6 256.1,771.4 255.1,771.4 255.1,774.4 254.1,774.4 254.1,779.2 253.1,779.2 253.1,779.3 252.1,779.3 252.1,778.0 251.1,778.0 251.1,780.5 250.1,780.5 250.1,780.3 249.1,780.3 249.1,780.2 248.1,780.2 248.1,778.1 247.1,778.1 247.1,777.1 246.1,777.1 246.1,774.6 245.1,774.6 245.1,778.9 244.1,778.9 244.1,776.8 243.1,776.8 243.1,779.7 242.1,779.7 242.1,778.6 241.1,778.6 241.1,776.1 240.1,776.1 240.1,776.3 239.1,776.3 239.1,780.4 238.1,780.4 238.1,779.6 237.1,779.6 237.1,780.2 236.1,780.2 236.1,776.7 235.1,776.7 235.1,778.6 234.1,778.6 234.1,774.3 233.1,774.3 233.1,770.6 232.1,770.6 232.1,771.9 231.1,771.9 231.1,779.1 230.1,779.1 230.1,779.7 229.1,779.7 229.1,779.9 228.1,779.9 228.1,778.4 227.1,778.4 227.1,778.9 226.1,778.9 226.1,779.1 225.1,779.1 225.1,778.9 224.1,778.9 224.1,779.1 223.1,779.1 223.1,780.3 222.1,780.3 222.1,779.2 221.1,779.2 221.1,777.4 220.1,777.4 220.1,778.4 219.1,778.4 219.1,776.8 218.1,776.8 218.1,777.2 217.1,777.2 217.1,780.2 216.1,780.2 216.1,779.1 215.1,779.1 215.1,777.9 214.1,777.9 214.1,772.0 213.1,772.0 213.1,775.9 212.1,775.9 212.1,776.2 211.1,776.2 211.1,779.3 210.1,779.3 210.1,766.5 209.1,766.5 209.1,779.6 208.1,779.6 208.1,779.8 207.1,779.8 207.1,780.0 206.1,780.0 206.1,778.1 205.1,778.1 205.1,778.4 204.1,778.4 204.1,779.3 203.1,779.3 203.1,777.0 202.1,777.0 202.1,780.2 201.1,780.2 201.1,776.7 200.1,776.7 200.1,776.3 199.1,776.3 199.1,773.3 198.1,773.3 198.1,779.3 197.1,779.3 197.1,777.0 196.1,777.0 196.1,775.5 195.1,775.5 195.1,776.5 194.1,776.5 194.1,779.7 193.1,779.7 193.1,779.5 192.1,779.5 192.1,778.6 191.1,778.6 191.1,775.0 190.1,775.0 190.1,772.6 189.1,772.6 189.1,780.0 188.1,780.0 188.1,772.9 187.1,772.9 187.1,780.3 186.1,780.3 186.1,778.2 185.1,778.2 185.1,780.3 184.1,780.3 184.1,780.0 183.1,780.0 183.1,776.5 182.1,776.5 182.1,777.2 181.1,777.2 181.1,776.8 180.1,776.8 180.1,776.5 179.1,776.5 179.1,777.7 178.1,777.7 178.1,779.7 177.1,779.7 177.1,780.3 176.1,780.3 176.1,778.4 175.1,778.4 175.1,777.5 174.1,777.5 174.1,779.6 173.1,779.6 173.1,775.6 172.1,775.6 172.1,778.6 171.1,778.6 171.1,780.5 170.1,780.5 170.1,776.9 169.1,776.9 169.1,780.3 168.1,780.3 168.1,769.5 167.1,769.5 167.1,778.0 166.1,778.0 166.1,780.2 165.1,780.2 165.1,775.8 164.1,775.8 164.1,776.0 163.1,776.0 163.1,779.5 162.1,779.5 162.1,779.9 161.1,779.9 161.1,778.8 160.1,778.8 160.1,775.7 159.1,775.7 159.1,779.4 158.1,779.4 158.1,777.1 157.1,777.1 157.1,779.5 156.1,779.5 156.1,773.1 155.1,773.1 155.1,777.2 154.1,777.2 154.1,771.3 153.1,771.3 153.1,776.0 152.1,776.0 152.1,778.4 151.1,778.4 151.1,779.2 150.1,779.2 150.1,779.7 149.1,779.7 149.1,777.1 148.1,777.1 148.1,779.0 147.1,779.0 147.1,773.3 146.1,773.3 146.1,777.5 145.1,777.5 145.1,778.0 144.1,778.0 144.1,777.5 143.1,777.5 143.1,780.0 142.1,780.0 142.1,778.8 141.1,778.8 141.1,777.7 140.1,777.7 140.1,776.8 139.1,776.8 139.1,778.3 138.1,778.3 138.1,775.5 137.1,775.5 137.1,777.7 136.1,777.7 136.1,778.9 135.1,778.9 135.1,778.6 134.1,778.6 134.1,779.3 133.1,779.3 133.1,778.0 132.1,778.0 132.1,779.4 131.1,779.4 131.1,777.8 130.1,777.8 130.1,780.4 129.1,780.4 129.1,780.2 128.1,780.2 128.1,779.1 127.1,779.1 127.1,780.0 126.1,780.0 126.1,778.5 125.1,778.5 125.1,779.2 124.1,779.2 124.1,778.1 123.1,778.1 123.1,778.3 122.1,778.3 122.1,779.1 121.1,779.1 121.1,779.6 120.1,779.6 120.1,777.6 119.1,777.6 119.1,778.8 118.1,778.8 118.1,775.6 117.1,775.6 117.1,775.1 116.1,775.1 116.1,779.6 115.1,779.6 115.1,779.9 114.1,779.9 114.1,778.7 113.1,778.7 113.1,776.8 112.1,776.8 112.1,779.8 111.1,779.8 111.1,779.2 110.1,779.2 110.1,778.7 109.1,778.7 109.1,779.9 108.1,779.9 108.1,777.9 107.1,777.9 107.1,780.3 106.1,780.3 106.1,775.2 105.1,775.2 105.1,780.1 104.1,780.1 104.1,778.6 103.1,778.6 103.1,780.0 102.1,780.0 102.1,779.7 101.1,779.7 101.1,778.4 100.1,778.4 100.1,778.7 99.1,778.7 99.1,778.9 98.1,778.9 98.1,778.5 97.1,778.5 97.1,780.2 96.1,780.2 96.1,779.7 95.1,779.7 95.1,778.8 94.1,778.8 94.1,779.0 93.1,779.0 93.1,776.7 92.1,776.7 92.1,775.1 91.1,775.1 91.1,780.6 90.1,780.6 90.1,777.6 89.1,777.6Z" fill="#edb120"/>
<path d="M89.1,738.7 89.6,737.0 90.1,733.1 90.6,734.5 91.1,731.7 91.6,734.5 92.1,733.3 92.6,732.7 93.1,734.0 93.6,734.6 94.1,734.9 94.6,733.9 95.1,733.4 95.6,731.3 96.1,733.2 96.6,734.4 97.1,735.4 97.6,734.7 98.1,732.2 98.6,732.7 99.1,730.0 99.6,733.1 100.1,733.6 100.6,729.7 101.1,730.5 101.6,729.9 102.1,734.9 102.6,732.4 103.1,731.7 103.6,731.7 104.1,736.9 104.6,731.8 105.1,731.9 105.6,729.5 106.1,732.2 106.6,731.5 107.1,731.9 107.6,733.7 108.1,730.0 108.6,727.3 109.1,733.2 109.6,727.8 110.1,727.4 110.6,733.8 111.1,733.5 111.6,732.4 112.1,732.6 112.6,732.0 113.1,732.6 113.6,731.0 114.1,729.3 114.6,728.4 115.1,730.4 115.6,732.0 116.1,728.7 116.6,728.4 117.1,731.3 117.6,709.4 118.1,731.8 118.6,730.8 119.1,729.0 119.6,729.6 120.1,726.7 120.6,729.3 121.1,728.3 121.6,726.3 122.1,731.8 122.6,727.1 123.1,725.9 123.6,728.7 124.1,725.8 124.6,730.3 125.1,729.8 125.6,730.6 126.1,724.3 126.6,729.4 127.1,726.3 127.6,730.9 128.1,725.2 128.6,730.0 129.1,728.5 129.6,732.3 130.1,729.5 130.6,724.6 131.1,729.4 131.6,722.9 132.1,721.5 132.6,726.5 133.1,728.9 133.6,726.6 134.1,725.1 134.6,729.9 135.1,726.8 135.6,724.9 136.1,724.2 136.6,729.0 137.1,724.9 137.6,724.4 138.1,722.1 138.6,723.7 139.1,721.9 139.6,722.8 140.1,725.7 140.6,717.8 141.1,722.1 141.6,722.8 142.1,724.0 142.6,719.7 143.1,722.7 143.6,721.5 144.1,722.1 144.6,722.7 145.1,725.6 145.6,723.3 146.1,718.1 146.6,721.2 147.1,723.0 147.6,723.3 148.1,723.0 148.6,721.9 149.1,721.1 149.6,717.4 150.1,719.6 150.6,716.5 151.1,723.6 151.6,720.2 152.1,723.8 152.6,724.1 153.1,718.7 153.6,722.9 154.1,718.7 154.6,720.5 155.1,715.9 155.6,715.6 156.1,721.4 156.6,716.1 157.1,717.5 157.6,716.1 158.1,718.2 158.6,714.1 159.1,714.4 159.6,716.4 160.1,719.5 160.6,721.0 161.1,713.4 161.6,714.9 162.1,718.2 162.6,704.7 163.1,708.9 163.6,716.7 164.1,713.2 164.6,710.9 165.1,708.3 165.6,712.4 166.1,711.8 166.6,697.8 167.1,711.2 167.6,712.0 168.1,714.0 168.6,713.8 169.1,708.2 169.6,708.3 170.1,704.5 170.6,710.8 171.1,714.1 171.6,704.9 172.1,707.6 172.6,704.8 173.1,709.8 173.6,708.7 174.1,704.2 174.6,708.9 175.1,706.9 175.6,706.4 176.1,703.9 176.6,703.2 177.1,706.8 177.6,702.6 178.1,704.7 178.6,704.0 179.1,703.0 179.6,700.8 180.1,702.6 180.6,700.9 181.1,703.1 181.6,704.1 182.1,702.9 182.6,699.4 183.1,699.2 183.6,698.5 184.1,701.3 184.6,680.1 185.1,697.1 185.6,695.1 186.1,694.9 186.6,696.2 187.1,696.4 187.6,697.5 188.1,694.7 188.6,690.4 189.1,692.7 189.6,692.7 190.1,690.2 190.6,684.1 191.1,690.3 191.6,690.7 192.1,691.5 192.6,691.4 193.1,685.2 193.6,684.5 194.1,685.7 194.6,682.6 195.1,681.2 195.6,683.2 196.1,679.9 196.6,677.6 197.1,681.6 197.6,677.6 198.1,675.9 198.6,678.8 199.1,668.3 199.6,669.9 200.1,666.7 200.6,672.6 201.1,668.0 201.6,663.7 202.1,665.7 202.6,658.3 203.1,663.4 203.6,659.1 204.1,657.7 204.6,633.7 205.1,652.7 205.6,649.6 206.1,649.1 206.6,644.6 207.1,638.0 207.6,634.3 208.1,630.8 208.6,625.2 209.1,617.9 209.6,613.7 210.1,605.4 210.6,590.2 211.1,573.2 211.6,575.0 212.1,573.0 212.6,589.7 213.1,601.5 213.6,615.4 214.1,618.0 214.6,627.1 215.1,634.9 215.6,633.8 216.1,638.9 216.6,643.3 217.1,649.2 217.6,647.7 218.1,654.4 218.6,657.0 219.1,635.2 219.6,656.9 220.1,660.9 220.6,662.6 221.1,666.6 221.6,664.2 222.1,668.6 222.6,668.0 223.1,664.6 223.6,671.7 224.1,675.7 224.6,677.9 225.1,678.1 225.6,679.3 226.1,677.6 226.6,676.4 227.1,680.3 227.6,682.0 228.1,680.9 228.6,685.1 229.1,684.6 229.6,683.0 230.1,666.2 230.6,687.5 231.1,688.3 231.6,689.3 232.1,688.3 232.6,686.3 233.1,690.2 233.6,693.6 234.1,689.4 234.6,690.0 235.1,690.5 235.6,691.8 236.1,695.0 236.6,697.0 237.1,694.1 237.6,696.5 238.1,696.2 238.6,694.1 239.1,701.4 239.6,701.7 240.1,701.6 240.6,700.4 241.1,699.6 241.6,699.1 242.1,702.0 242.6,698.1 243.1,701.7 243.6,699.8 244.1,698.2 244.6,699.7 245.1,703.2 245.6,703.1 246.1,702.2 246.6,701.8 247.1,706.5 247.6,706.6 248.1,705.8 248.6,702.5 249.1,704.7 249.6,705.7 250.1,708.8 250.6,709.0 251.1,705.5 251.6,708.9 252.1,704.7 252.6,708.9 253.1,706.9 253.6,705.9 254.1,706.5 254.6,707.9 255.1,703.4 255.6,708.5 256.1,707.5 256.6,709.4 257.1,706.6 257.6,706.3 258.1,706.6 258.6,708.7 259.1,707.4 259.6,711.9 260.1,710.6 260.6,708.5 261.1,714.9 261.6,713.7 262.1,708.8 262.6,710.0 263.1,711.1 263.6,711.1 264.1,707.5 264.6,709.8 265.1,711.7 265.6,714.3 266.1,710.9 266.6,713.7 267.1,711.7 267.6,713.0 268.1,708.6 268.6,713.0 269.1,711.6 269.6,708.5 270.1,716.5 270.6,712.8 271.1,715.2 271.6,708.3 272.1,710.8 272.6,712.0 273.1,711.5 273.6,710.1 274.1,710.6 274.6,711.6 275.1,709.8 275.6,711.0 276.1,707.5 276.6,714.2 277.1,712.6 277.6,710.1 278.1,710.0 278.6,712.9 279.1,708.9 279.6,709.7 280.1,708.0 280.6,712.3 281.1,709.0 281.6,711.8 282.1,710.8 282.6,709.8 283.1,712.4 283.6,712.1 284.1,707.5 284.6,713.5 285.1,710.1 285.6,708.3 286.1,707.8 286.6,711.5 287.1,713.2 287.6,708.5 288.1,712.1 288.6,710.8 289.1,712.3 289.6,713.7 290.1,711.9 290.6,711.1 291.1,714.3 291.6,707.2 292.1,710.8 292.6,706.6 293.1,707.5 293.6,711.2 294.1,709.9 294.6,710.7 295.1,709.7 295.6,709.3 296.1,708.5 296.6,708.3 297.1,708.8 297.6,710.3 298.1,712.3 298.6,708.3 299.1,709.0 299.6,707.0 300.1,709.7 300.6,707.6 301.1,710.1 301.6,707.0 302.1,708.3 302.6,706.7 303.1,701.8 303.6,705.5 304.1,707.3 304.6,706.3 305.1,706.7 305.6,706.6 306.1,706.2 306.6,706.2 307.1,706.0 307.6,703.7 308.1,703.5 308.6,701.7 309.1,704.2 309.6,704.1 310.1,699.7 310.6,707.8 311.1,704.0 311.6,703.2 312.1,702.7 312.6,705.2 313.1,704.5 313.6,706.5 314.1,704.3 314.6,707.1 315.1,701.0 315.6,702.9 316.1,695.7 316.6,699.0 317.1,701.8 317.6,703.7 318.1,700.3 318.6,702.1 319.1,705.0 319.6,700.4 320.1,697.0 320.6,703.7 321.1,700.7 321.6,698.0 322.1,698.6 322.6,697.0 323.1,699.1 323.6,695.5 324.1,698.0 324.6,697.9 325.1,696.5 325.6,697.7 326.1,697.5 326.6,697.5 327.1,697.9 327.6,697.4 328.1,698.4 328.6,694.0 329.1,694.2 329.6,698.7 330.1,695.1 330.6,693.7 331.1,695.6 331.6,692.1 332.1,693.9 332.6,692.2 333.1,693.9 333.6,691.1 334.1,690.8 334.6,685.8 335.1,686.9 335.6,689.5 336.1,689.3 336.6,688.8 337.1,688.0 337.6,692.7 338.1,687.7 338.6,685.8 339.1,686.6 339.6,688.8 340.1,689.0 340.6,689.1 341.1,681.2 341.6,671.0 342.1,680.8 342.6,683.8 343.1,684.1 343.6,685.3 344.1,680.6 344.6,683.9 345.1,681.9 345.6,677.1 346.1,675.8 346.6,678.9 347.1,675.8 347.6,676.7 348.1,675.3 348.6,678.4 349.1,674.2 349.6,673.6 350.1,672.5 350.6,671.7 351.1,671.5 351.6,669.8 352.1,671.7 352.6,668.4 353.1,670.2 353.6,667.1 354.1,667.3 354.6,666.9 355.1,665.6 355.6,664.5 356.1,660.5 356.6,662.6 357.1,659.0 357.6,657.5 358.1,652.6 358.6,653.8 359.1,656.5 359.6,655.5 360.1,651.3 360.6,648.7 361.1,649.4 361.6,644.1 362.1,648.2 362.6,646.4 363.1,641.4 363.6,636.0 364.1,632.7 364.6,631.5 365.1,625.4 365.6,623.8 366.1,621.1 366.6,612.8 367.1,609.7 367.6,605.3 368.1,594.0 368.6,584.5 369.1,564.2 369.6,567.1 370.1,570.4 370.6,579.5 371.1,593.9 371.6,604.6 372.1,589.5 372.6,614.6 373.1,620.8 373.6,624.3 374.1,626.2 374.6,632.6 375.1,634.6 375.6,633.5 376.1,640.4 376.6,643.5 377.1,643.9 377.6,644.0 378.1,649.7 378.6,650.2 379.1,652.7 379.6,649.2 380.1,651.8 380.6,655.1 381.1,654.8 381.6,661.5 382.1,661.4 382.6,660.3 383.1,637.3 383.6,666.4 384.1,663.6 384.6,665.9 385.1,666.9 385.6,667.0 386.1,670.6 386.6,666.1 387.1,671.2 387.6,670.1 388.1,674.1 388.6,674.0 389.1,677.0 389.6,670.9 390.1,669.1 390.6,675.3 391.1,675.4 391.6,672.6 392.1,678.9 392.6,677.6 393.1,680.3 393.6,677.7 394.1,679.2 394.6,678.4 395.1,679.1 395.6,684.1 396.1,683.7 396.6,682.5 397.1,682.3 397.6,684.2 398.1,683.2 398.6,683.4 399.1,686.5 399.6,686.0 400.1,687.4 400.6,689.5 401.1,685.3 401.6,684.0 402.1,688.8 402.6,685.1 403.1,685.8 403.6,690.9 404.1,690.8 404.6,691.7 405.1,688.9 405.6,688.5 406.1,692.8 406.6,695.4 407.1,692.3 407.6,690.1 408.1,692.4 408.6,693.6 409.1,697.5 409.6,693.0 410.1,695.4 410.6,694.9 411.1,695.1 411.6,696.7 412.1,698.0 412.6,696.1 413.1,695.5 413.6,693.3 414.1,697.9 414.6,699.8 415.1,693.9 415.6,695.9 416.1,700.1 416.6,699.3 417.1,698.9 417.6,696.3 418.1,699.6 418.6,696.8 419.1,699.6 419.6,702.0 420.1,700.2 420.6,704.5 421.1,702.6 421.6,692.7 422.1,703.4 422.6,702.7 423.1,704.9 423.6,702.4 424.1,706.3 424.6,703.7 425.1,701.5 425.6,704.5 426.1,701.7 426.6,703.0 427.1,702.7 427.6,705.8 428.1,704.6 428.6,706.9 429.1,706.4 429.6,706.1 430.1,704.1 430.6,702.1 431.1,708.5 431.6,702.7 432.1,711.0 432.6,710.6 433.1,702.7 433.6,704.0 434.1,706.4 434.6,706.5 435.1,707.0 435.6,712.0 436.1,706.0 436.6,708.6 437.1,712.3 437.6,706.9 438.1,706.5 438.6,705.4 439.1,706.2 439.6,709.1 440.1,707.2 440.6,708.9 441.1,708.7 441.6,705.1 442.1,709.9 442.6,714.7 443.1,710.5 443.6,712.9 444.1,712.0 444.6,706.8 445.1,709.1 445.6,711.8 446.1,710.6 446.6,708.2 447.1,710.1 447.6,707.0 448.1,712.9 448.6,710.3 449.1,710.7 449.6,712.9 450.1,710.4 450.6,709.7 451.1,708.8 451.6,715.7 452.1,711.2 452.6,710.2 453.1,709.1 453.6,710.9 454.1,711.7 454.6,713.3 455.1,708.8 455.6,712.2 456.1,708.8 456.6,711.9 457.1,711.5 457.6,714.0 458.1,715.1 458.6,711.7 459.1,712.8 459.6,709.6 460.1,715.4 460.6,715.4 461.1,710.3 461.6,714.6 462.1,715.0 462.6,717.2 463.1,714.7 463.6,711.6 464.1,710.9 464.6,716.9 465.1,712.2 465.6,715.0 466.1,714.5 466.6,711.7 467.1,713.3 467.6,712.4 468.1,711.6 468.6,711.7 469.1,712.2 469.6,711.1 470.1,714.0 470.6,714.8 471.1,714.6 471.6,712.7 472.1,714.5 472.6,712.3 473.1,713.0 473.6,709.4 474.1,714.6 474.6,709.9 475.1,710.9 475.6,707.5 476.1,713.6 476.6,711.0 477.1,713.3 477.6,712.8 478.1,711.3 478.6,709.8 479.1,708.6 479.6,712.3 480.1,712.9 480.6,711.1 481.1,708.8 481.6,709.8 482.1,709.5 482.6,700.3 483.1,710.6 483.6,709.2 484.1,706.0 484.6,708.9 485.1,711.3 485.6,710.6 486.1,710.1 486.6,708.8 487.1,707.9 487.6,712.3 488.1,710.4 488.6,709.4 489.1,710.5 489.6,712.4 490.1,710.6 490.6,705.5 491.1,710.2 491.6,703.8 492.1,706.8 492.6,706.3 493.1,702.3 493.6,701.8 494.1,708.2 494.6,703.2 495.1,703.7 495.6,706.2 496.1,705.0 496.6,705.9 497.1,700.0 497.6,697.6 498.1,705.9 498.6,704.1 499.1,702.3 499.6,703.5 500.1,698.7 500.6,700.0 501.1,700.6 501.6,703.1 502.1,702.5 502.6,698.5 503.1,702.1 503.6,695.7 504.1,697.8 504.6,694.0 505.1,694.9 505.6,693.7 506.1,693.4 506.6,695.0 507.1,694.2 507.6,693.0 508.1,691.1 508.6,688.9 509.1,690.3 509.6,686.1 510.1,689.0 510.6,689.6 511.1,687.8 511.6,686.6 512.1,681.2 512.6,681.4 513.1,681.2 513.6,681.1 514.1,679.2 514.6,681.1 515.1,672.0 515.6,674.6 516.1,672.2 516.6,670.4 517.1,671.4 517.6,670.0 518.1,669.9 518.6,666.2 519.1,664.5 519.6,665.9 520.1,659.1 520.6,659.8 521.1,655.0 521.6,646.8 522.1,644.8 522.6,648.1 523.1,640.6 523.6,635.7 524.1,627.9 524.6,620.7 525.1,617.2 525.6,608.3 526.1,591.7 526.6,578.1 527.1,583.0 527.6,578.5 528.1,600.1 528.6,608.0 529.1,619.2 529.6,613.9 530.1,631.6 530.6,638.7 531.1,642.3 531.6,645.7 532.1,653.6 532.6,651.0 533.1,653.5 533.6,656.7 534.1,658.3 534.6,665.3 535.1,664.5 535.6,667.3 536.1,669.2 536.6,673.0 537.1,674.0 537.6,673.9 538.1,677.4 538.6,677.3 539.1,680.4 539.6,678.2 540.1,676.1 540.6,680.7 541.1,682.9 541.6,686.8 542.1,686.4 542.6,684.5 543.1,686.6 543.6,688.4 544.1,692.8 544.6,692.1 545.1,689.7 545.6,693.5 546.1,690.4 546.6,692.7 547.1,672.2 547.6,690.5 548.1,700.5 548.6,696.8 549.1,699.7 549.6,697.9 550.1,696.6 550.6,695.6 551.1,698.1 551.6,700.0 552.1,699.7 552.6,703.3 553.1,701.5 553.6,700.1 554.1,701.7 554.6,701.3 555.1,704.2 555.6,702.5 556.1,704.5 556.6,706.7 557.1,708.5 557.6,710.6 558.1,708.0 558.6,707.5 559.1,706.5 559.6,709.0 560.1,710.2 560.6,707.3 561.1,707.4 561.6,707.7 562.1,708.3 562.6,710.7 563.1,686.2 563.6,709.1 564.1,708.4 564.6,711.3 565.1,713.4 565.6,709.2 566.1,709.7 566.6,712.4 567.1,717.0 567.6,714.4 568.1,702.8 568.6,714.7 569.1,714.6 569.6,711.4 570.1,713.7 570.6,714.2 571.1,716.0 571.6,714.1 572.1,714.6 572.6,713.8 573.1,719.2 573.6,713.1 574.1,711.9 574.6,715.0 575.1,717.1 575.6,713.9 576.1,714.0 576.6,718.4 577.1,717.3 577.6,716.9 578.1,719.4 578.6,718.0 579.1,715.9 579.6,713.7 580.1,722.1 580.6,717.1 581.1,721.7 581.6,720.1 582.1,717.6 582.6,721.3 583.1,718.5 583.6,720.4 584.1,718.1 584.6,722.7 585.1,715.7 585.6,722.1 586.1,721.6 586.6,723.0 587.1,717.7 587.6,719.8 588.1,720.6 588.6,717.8 589.1,723.6 589.6,723.1 590.1,720.7 590.6,723.2 591.1,722.2 591.6,722.1 592.1,722.4 592.6,721.4 593.1,724.5 593.6,720.0 594.1,722.3 594.6,724.0 595.1,723.7 595.6,722.1 596.1,723.0 596.6,721.8 597.1,719.9 597.6,723.1 598.1,726.6 598.6,722.6 599.1,723.1 599.6,723.2 600.1,724.0 600.6,727.1 601.1,724.4 601.6,723.5 602.1,724.3 602.6,720.7 603.1,720.5 603.6,728.4 604.1,720.2 604.6,726.9 605.1,725.5 605.6,718.7 606.1,721.3 606.6,722.7 607.1,727.0 607.6,724.7 608.1,723.9 608.6,727.0 609.1,724.3 609.6,728.0 610.1,722.3 610.6,725.5 611.1,727.2 611.6,722.5 612.1,723.7 612.6,722.5 613.1,728.6 613.6,727.1 614.1,726.1 614.6,729.4 615.1,725.7 615.6,725.9 616.1,726.6 616.6,726.4 617.1,729.4 617.6,725.0 618.1,723.4 618.6,729.2 619.1,729.0 619.6,726.5 620.1,729.1 620.6,728.5 621.1,727.5 621.6,729.7 622.1,730.4 622.6,724.9 623.1,729.2 623.6,725.2 624.1,728.8 624.6,725.7 625.1,728.2 625.6,730.4 626.1,726.2 626.6,727.7 627.1,728.9 627.6,722.8 628.1,723.7 628.6,730.0 629.1,727.8 629.6,728.5 630.1,729.5 630.6,726.6 631.1,726.1 631.6,725.5 632.1,730.3 632.6,726.7 633.1,725.2 633.6,732.3 634.1,728.7 634.6,729.8 635.1,726.6 635.6,731.2 636.1,728.3 636.6,728.6 637.1,713.5 637.6,728.3 638.1,731.7 638.6,730.8 639.1,730.4 639.6,726.8 640.1,725.5 640.6,729.0 641.1,729.4 641.6,732.0 642.1,731.6 642.6,728.3 643.1,726.4 643.6,729.6 644.1,730.3 644.6,730.0 645.1,727.5 645.6,726.1 646.1,728.9 646.6,729.7 647.1,728.4 647.6,730.2 648.1,729.1 648.6,726.6 649.1,728.0 649.6,732.3 650.1,724.8 650.6,723.0 651.1,732.2 651.6,730.1 652.1,727.8 652.6,726.5 653.1,733.1 653.6,725.7 654.1,726.6 654.6,727.8 655.1,729.5 655.6,733.4 656.1,729.0 656.6,731.0 657.1,728.6 657.6,730.3 658.1,732.0 658.6,725.0 659.1,723.9 659.6,732.7 660.1,728.9 660.6,731.8 661.1,727.9 661.6,731.5 662.1,728.6 662.6,730.8 663.1,728.2 663.6,733.5 664.1,706.8 664.6,729.2 665.1,728.8 665.6,729.3 666.1,726.8 666.6,727.0 667.1,731.1 667.1,777.3 666.1,777.3 666.1,766.0 665.1,766.0 665.1,776.2 664.1,776.2 664.1,777.1 663.1,777.1 663.1,771.8 662.1,771.8 662.1,757.6 661.1,757.6 661.1,777.9 660.1,777.9 660.1,757.6 659.1,757.6 659.1,778.0 658.1,778.0 658.1,778.9 657.1,778.9 657.1,776.6 656.1,776.6 656.1,778.6 655.1,778.6 655.1,778.3 654.1,778.3 654.1,774.4 653.1,774.4 653.1,773.8 652.1,773.8 652.1,755.0 651.1,755.0 651.1,778.2 650.1,778.2 650.1,777.9 649.1,777.9 649.1,777.4 648.1,777.4 648.1,777.0 647.1,777.0 647.1,778.4 646.1,778.4 646.1,777.2 645.1,777.2 645.1,778.4 644.1,778.4 644.1,777.1 643.1,777.1 643.1,778.3 642.1,778.3 642.1,751.1 641.1,751.1 641.1,778.5 640.1,778.5 640.1,774.2 639.1,774.2 639.1,777.8 638.1,777.8 638.1,776.5 637.1,776.5 637.1,777.1 636.1,777.1 636.1,777.9 635.1,777.9 635.1,778.0 634.1,778.0 634.1,778.2 633.1,778.2 633.1,767.9 632.1,767.9 632.1,770.7 631.1,770.7 631.1,774.4 630.1,774.4 630.1,777.8 629.1,777.8 629.1,771.9 628.1,771.9 628.1,777.4 627.1,777.4 627.1,775.2 626.1,775.2 626.1,777.0 625.1,777.0 625.1,776.1 624.1,776.1 624.1,778.0 623.1,778.0 623.1,750.2 622.1,750.2 622.1,778.0 621.1,778.0 621.1,773.8 620.1,773.8 620.1,777.3 619.1,777.3 619.1,776.7 618.1,776.7 618.1,765.7 617.1,765.7 617.1,755.1 616.1,755.1 616.1,757.8 615.1,757.8 615.1,775.6 614.1,775.6 614.1,773.4 613.1,773.4 613.1,767.3 612.1,767.3 612.1,777.6 611.1,777.6 611.1,749.6 610.1,749.6 610.1,777.2 609.1,777.2 609.1,762.3 608.1,762.3 608.1,778.8 607.1,778.8 607.1,778.3 606.1,778.3 606.1,778.1 605.1,778.1 605.1,776.1 604.1,776.1 604.1,778.4 603.1,778.4 603.1,754.2 602.1,754.2 602.1,778.1 601.1,778.1 601.1,777.9 600.1,777.9 600.1,777.1 599.1,777.1 599.1,757.0 598.1,757.0 598.1,778.6 597.1,778.6 597.1,774.2 596.1,774.2 596.1,779.1 595.1,779.1 595.1,777.8 594.1,777.8 594.1,778.2 593.1,778.2 593.1,771.1 592.1,771.1 592.1,776.0 591.1,776.0 591.1,766.0 590.1,766.0 590.1,750.9 589.1,750.9 589.1,778.0 588.1,778.0 588.1,778.6 587.1,778.6 587.1,778.3 586.1,778.3 586.1,778.4 585.1,778.4 585.1,778.7 584.1,778.7 584.1,769.3 583.1,769.3 583.1,777.8 582.1,777.8 582.1,778.5 581.1,778.5 581.1,776.6 580.1,776.6 580.1,772.8 579.1,772.8 579.1,779.1 578.1,779.1 578.1,775.4 577.1,775.4 577.1,778.2 576.1,778.2 576.1,778.4 575.1,778.4 575.1,778.5 574.1,778.5 574.1,776.7 573.1,776.7 573.1,778.9 572.1,778.9 572.1,778.7 571.1,778.7 571.1,777.6 570.1,777.6 570.1,778.0 569.1,778.0 569.1,777.0 568.1,777.0 568.1,772.3 567.1,772.3 567.1,779.1 566.1,779.1 566.1,776.5 565.1,776.5 565.1,778.5 564.1,778.5 564.1,778.7 563.1,778.7 563.1,776.2 562.1,776.2 562.1,777.4 561.1,777.4 561.1,773.6 560.1,773.6 560.1,776.7 559.1,776.7 559.1,764.1 558.1,764.1 558.1,755.0 557.1,755.0 557.1,776.3 556.1,776.3 556.1,761.7 555.1,761.7 555.1,776.7 554.1,776.7 554.1,767.8 553.1,767.8 553.1,773.9 552.1,773.9 552.1,764.3 551.1,764.3 551.1,778.4 550.1,778.4 550.1,778.1 549.1,778.1 549.1,771.7 548.1,771.7 548.1,776.0 547.1,776.0 547.1,778.5 546.1,778.5 546.1,778.1 545.1,778.1 545.1,750.5 544.1,750.5 544.1,777.0 543.1,777.0 543.1,779.1 542.1,779.1 542.1,766.9 541.1,766.9 541.1,777.9 540.1,777.9 540.1,777.9 539.1,777.9 539.1,770.1 538.1,770.1 538.1,761.5 537.1,761.5 537.1,778.1 536.1,778.1 536.1,769.9 535.1,769.9 535.1,750.9 534.1,750.9 534.1,777.1 533.1,777.1 533.1,778.9 532.1,778.9 532.1,774.3 531.1,774.3 531.1,776.7 530.1,776.7 530.1,750.9 529.1,750.9 529.1,778.9 528.1,778.9 528.1,778.4 527.1,778.4 527.1,772.8 526.1,772.8 526.1,761.9 525.1,761.9 525.1,760.6 524.1,760.6 524.1,761.9 523.1,761.9 523.1,777.7 522.1,777.7 522.1,776.8 521.1,776.8 521.1,774.9 520.1,774.9 520.1,778.1 519.1,778.1 519.1,771.6 518.1,771.6 518.1,778.1 517.1,778.1 517.1,777.8 516.1,777.8 516.1,774.7 515.1,774.7 515.1,772.5 514.1,772.5 514.1,769.7 513.1,769.7 513.1,777.9 512.1,777.9 512.1,774.4 511.1,774.4 511.1,775.5 510.1,775.5 510.1,773.6 509.1,773.6 509.1,777.3 508.1,777.3 508.1,776.6 507.1,776.6 507.1,777.6 506.1,777.6 506.1,768.3 505.1,768.3 505.1,778.5 504.1,778.5 504.1,769.2 503.1,769.2 503.1,772.0 502.1,772.0 502.1,775.8 501.1,775.8 501.1,776.1 500.1,776.1 500.1,769.8 499.1,769.8 499.1,777.7 498.1,777.7 498.1,778.8 497.1,778.8 497.1,777.2 496.1,777.2 496.1,773.6 495.1,773.6 495.1,777.6 494.1,777.6 494.1,775.4 493.1,775.4 493.1,769.1 492.1,769.1 492.1,766.2 491.1,766.2 491.1,764.9 490.1,764.9 490.1,777.1 489.1,777.1 489.1,778.7 488.1,778.7 488.1,775.6 487.1,775.6 487.1,778.4 486.1,778.4 486.1,777.3 485.1,777.3 485.1,760.9 484.1,760.9 484.1,778.0 483.1,778.0 483.1,766.7 482.1,766.7 482.1,775.2 481.1,775.2 481.1,772.5 480.1,772.5 480.1,778.8 479.1,778.8 479.1,750.5 478.1,750.5 478.1,766.6 477.1,766.6 477.1,768.7 476.1,768.7 476.1,778.3 475.1,778.3 475.1,778.1 474.1,778.1 474.1,773.2 473.1,773.2 473.1,775.9 472.1,775.9 472.1,777.6 471.1,777.6 471.1,775.4 470.1,775.4 470.1,776.2 469.1,776.2 469.1,777.8 468.1,777.8 468.1,778.2 467.1,778.2 467.1,773.8 466.1,773.8 466.1,778.6 465.1,778.6 465.1,750.9 464.1,750.9 464.1,769.0 463.1,769.0 463.1,777.4 462.1,777.4 462.1,772.1 461.1,772.1 461.1,779.0 460.1,779.0 460.1,773.9 459.1,773.9 459.1,778.5 458.1,778.5 458.1,775.9 457.1,775.9 457.1,766.5 456.1,766.5 456.1,778.3 455.1,778.3 455.1,778.1 454.1,778.1 454.1,776.4 453.1,776.4 453.1,777.2 452.1,777.2 452.1,770.3 451.1,770.3 451.1,776.6 450.1,776.6 450.1,772.1 449.1,772.1 449.1,757.8 448.1,757.8 448.1,777.3 447.1,777.3 447.1,768.5 446.1,768.5 446.1,777.3 445.1,777.3 445.1,778.4 444.1,778.4 444.1,776.3 443.1,776.3 443.1,772.7 442.1,772.7 442.1,777.9 441.1,777.9 441.1,776.3 440.1,776.3 440.1,777.7 439.1,777.7 439.1,755.6 438.1,755.6 438.1,778.8 437.1,778.8 437.1,778.1 436.1,778.1 436.1,773.6 435.1,773.6 435.1,778.3 434.1,778.3 434.1,776.0 433.1,776.0 433.1,773.5 432.1,773.5 432.1,773.4 431.1,773.4 431.1,778.2 430.1,778.2 430.1,773.0 429.1,773.0 429.1,778.1 428.1,778.1 428.1,778.6 427.1,778.6 427.1,778.4 426.1,778.4 426.1,777.7 425.1,777.7 425.1,763.8 424.1,763.8 424.1,754.6 423.1,754.6 423.1,758.8 422.1,758.8 422.1,772.2 421.1,772.2 421.1,776.8 420.1,776.8 420.1,774.9 419.1,774.9 419.1,778.5 418.1,778.5 418.1,776.4 417.1,776.4 417.1,767.0 416.1,767.0 416.1,777.7 415.1,777.7 415.1,774.8 414.1,774.8 414.1,772.6 413.1,772.6 413.1,756.0 412.1,756.0 412.1,765.7 411.1,765.7 411.1,778.3 410.1,778.3 410.1,778.1 409.1,778.1 409.1,776.2 408.1,776.2 408.1,763.0 407.1,763.0 407.1,775.6 406.1,775.6 406.1,773.5 405.1,773.5 405.1,758.5 404.1,758.5 404.1,776.6 403.1,776.6 403.1,777.3 402.1,777.3 402.1,775.4 401.1,775.4 401.1,772.8 400.1,772.8 400.1,768.6 399.1,768.6 399.1,773.7 398.1,773.7 398.1,777.6 397.1,777.6 397.1,778.0 396.1,778.0 396.1,776.8 395.1,776.8 395.1,776.2 394.1,776.2 394.1,759.0 393.1,759.0 393.1,769.8 392.1,769.8 392.1,777.3 391.1,777.3 391.1,776.1 390.1,776.1 390.1,764.3 389.1,764.3 389.1,767.2 388.1,767.2 388.1,761.0 387.1,761.0 387.1,777.4 386.1,777.4 386.1,778.4 385.1,778.4 385.1,777.2 384.1,777.2 384.1,773.3 383.1,773.3 383.1,751.0 382.1,751.0 382.1,773.9 381.1,773.9 381.1,773.6 380.1,773.6 380.1,778.5 379.1,778.5 379.1,778.5 378.1,778.5 378.1,777.6 377.1,777.6 377.1,777.9 376.1,777.9 376.1,775.7 375.1,775.7 375.1,777.3 374.1,777.3 374.1,779.0 373.1,779.0 373.1,762.0 372.1,762.0 372.1,777.2 371.1,777.2 371.1,776.9 370.1,776.9 370.1,778.0 369.1,778.0 369.1,776.0 368.1,776.0 368.1,778.5 367.1,778.5 367.1,750.6 366.1,750.6 366.1,776.9 365.1,776.9 365.1,777.9 364.1,777.9 364.1,778.7 363.1,778.7 363.1,775.8 362.1,775.8 362.1,777.6 361.1,777.6 361.1,755.1 360.1,755.1 360.1,759.0 359.1,759.0 359.1,778.4 358.1,778.4 358.1,775.0 357.1,775.0 357.1,776.4 356.1,776.4 356.1,777.0 355.1,777.0 355.1,777.0 354.1,777.0 354.1,778.1 353.1,778.1 353.1,774.1 352.1,774.1 352.1,777.3 351.1,777.3 351.1,777.1 350.1,777.1 350.1,778.5 349.1,778.5 349.1,778.2 348.1,778.2 348.1,775.1 347.1,775.1 347.1,773.6 346.1,773.6 346.1,773.7 345.1,773.7 345.1,764.4 344.1,764.4 344.1,777.5 343.1,777.5 343.1,778.0 342.1,778.0 342.1,773.6 341.1,773.6 341.1,777.6 340.1,777.6 340.1,777.5 339.1,777.5 339.1,778.0 338.1,778.0 338.1,749.3 337.1,749.3 337.1,778.2 336.1,778.2 336.1,776.6 335.1,776.6 335.1,778.2 334.1,778.2 334.1,775.8 333.1,775.8 333.1,776.9 332.1,776.9 332.1,750.2 331.1,750.2 331.1,778.7 330.1,778.7 330.1,767.8 329.1,767.8 329.1,770.4 328.1,770.4 328.1,778.6 327.1,778.6 327.1,778.6 326.1,778.6 326.1,777.4 325.1,777.4 325.1,775.0 324.1,775.0 324.1,775.5 323.1,775.5 323.1,775.3 322.1,775.3 322.1,777.0 321.1,777.0 321.1,758.1 320.1,758.1 320.1,778.2 319.1,778.2 319.1,772.4 318.1,772.4 318.1,775.7 317.1,775.7 317.1,777.1 316.1,777.1 316.1,774.8 315.1,774.8 315.1,775.2 314.1,775.2 314.1,763.0 313.1,763.0 313.1,768.2 312.1,768.2 312.1,766.3 311.1,766.3 311.1,776.5 310.1,776.5 310.1,772.6 309.1,772.6 309.1,777.3 308.1,777.3 308.1,777.6 307.1,777.6 307.1,768.0 306.1,768.0 306.1,775.2 305.1,775.2 305.1,766.0 304.1,766.0 304.1,777.6 303.1,777.6 303.1,777.7 302.1,777.7 302.1,777.2 301.1,777.2 301.1,777.4 300.1,777.4 300.1,776.6 299.1,776.6 299.1,778.0 298.1,778.0 298.1,774.1 297.1,774.1 297.1,776.6 296.1,776.6 296.1,776.0 295.1,776.0 295.1,778.3 294.1,778.3 294.1,765.8 293.1,765.8 293.1,776.6 292.1,776.6 292.1,778.0 291.1,778.0 291.1,777.7 290.1,777.7 290.1,778.8 289.1,778.8 289.1,778.2 288.1,778.2 288.1,776.1 287.1,776.1 287.1,776.6 286.1,776.6 286.1,762.6 285.1,762.6 285.1,779.1 284.1,779.1 284.1,776.9 283.1,776.9 283.1,778.7 282.1,778.7 282.1,777.4 281.1,777.4 281.1,777.3 280.1,777.3 280.1,777.3 279.1,777.3 279.1,778.1 278.1,778.1 278.1,771.6 277.1,771.6 277.1,778.1 276.1,778.1 276.1,778.8 275.1,778.8 275.1,772.0 274.1,772.0 274.1,775.9 273.1,775.9 273.1,774.0 272.1,774.0 272.1,778.0 271.1,778.0 271.1,775.9 270.1,775.9 270.1,773.3 269.1,773.3 269.1,776.9 268.1,776.9 268.1,775.9 267.1,775.9 267.1,761.4 266.1,761.4 266.1,778.1 265.1,778.1 265.1,776.0 264.1,776.0 264.1,779.1 263.1,779.1 263.1,778.2 262.1,778.2 262.1,778.9 261.1,778.9 261.1,778.6 260.1,778.6 260.1,776.0 259.1,776.0 259.1,778.3 258.1,778.3 258.1,775.9 257.1,775.9 257.1,778.9 256.1,778.9 256.1,777.1 255.1,777.1 255.1,777.3 254.1,777.3 254.1,763.0 253.1,763.0 253.1,777.8 252.1,777.8 252.1,777.4 251.1,777.4 251.1,770.0 250.1,770.0 250.1,776.7 249.1,776.7 249.1,775.8 248.1,775.8 248.1,775.4 247.1,775.4 247.1,773.8 246.1,773.8 246.1,778.8 245.1,778.8 245.1,776.1 244.1,776.1 244.1,772.6 243.1,772.6 243.1,777.2 242.1,777.2 242.1,776.1 241.1,776.1 241.1,775.0 240.1,775.0 240.1,776.4 239.1,776.4 239.1,777.3 238.1,777.3 238.1,777.1 237.1,777.1 237.1,778.3 236.1,778.3 236.1,777.8 235.1,777.8 235.1,773.5 234.1,773.5 234.1,767.6 233.1,767.6 233.1,774.5 232.1,774.5 232.1,777.8 231.1,777.8 231.1,775.8 230.1,775.8 230.1,764.2 229.1,764.2 229.1,770.6 228.1,770.6 228.1,777.0 227.1,777.0 227.1,777.0 226.1,777.0 226.1,777.0 225.1,777.0 225.1,777.9 224.1,777.9 224.1,778.8 223.1,778.8 223.1,775.1 222.1,775.1 222.1,776.8 221.1,776.8 221.1,776.3 220.1,776.3 220.1,778.2 219.1,778.2 219.1,777.6 218.1,777.6 218.1,778.8 217.1,778.8 217.1,766.5 216.1,766.5 216.1,776.9 215.1,776.9 215.1,777.8 214.1,777.8 214.1,778.8 213.1,778.8 213.1,776.4 212.1,776.4 212.1,776.1 211.1,776.1 211.1,771.9 210.1,771.9 210.1,776.7 209.1,776.7 209.1,778.1 208.1,778.1 208.1,779.0 207.1,779.0 207.1,777.4 206.1,777.4 206.1,777.4 205.1,777.4 205.1,774.2 204.1,774.2 204.1,778.0 203.1,778.0 203.1,774.2 202.1,774.2 202.1,777.6 201.1,777.6 201.1,773.4 200.1,773.4 200.1,764.9 199.1,764.9 199.1,772.5 198.1,772.5 198.1,776.0 197.1,776.0 197.1,776.3 196.1,776.3 196.1,771.7 195.1,771.7 195.1,774.2 194.1,774.2 194.1,777.5 193.1,777.5 193.1,778.0 192.1,778.0 192.1,777.2 191.1,777.2 191.1,777.4 190.1,777.4 190.1,777.3 189.1,777.3 189.1,778.1 188.1,778.1 188.1,762.7 187.1,762.7 187.1,776.3 186.1,776.3 186.1,775.9 185.1,775.9 185.1,778.2 184.1,778.2 184.1,751.1 183.1,751.1 183.1,776.2 182.1,776.2 182.1,778.8 181.1,778.8 181.1,771.8 180.1,771.8 180.1,779.2 179.1,779.2 179.1,778.1 178.1,778.1 178.1,777.7 177.1,777.7 177.1,772.5 176.1,772.5 176.1,777.5 175.1,777.5 175.1,772.2 174.1,772.2 174.1,777.6 173.1,777.6 173.1,776.7 172.1,776.7 172.1,777.0 171.1,777.0 171.1,777.7 170.1,777.7 170.1,777.7 169.1,777.7 169.1,773.2 168.1,773.2 168.1,778.8 167.1,778.8 167.1,777.7 166.1,777.7 166.1,778.6 165.1,778.6 165.1,779.1 164.1,779.1 164.1,778.6 163.1,778.6 163.1,776.3 162.1,776.3 162.1,775.3 161.1,775.3 161.1,778.1 160.1,778.1 160.1,771.4 159.1,771.4 159.1,776.4 158.1,776.4 158.1,776.0 157.1,776.0 157.1,777.8 156.1,777.8 156.1,778.4 155.1,778.4 155.1,778.5 154.1,778.5 154.1,775.8 153.1,775.8 153.1,777.9 152.1,777.9 152.1,771.1 151.1,771.1 151.1,779.0 150.1,779.0 150.1,775.0 149.1,775.0 149.1,778.3 148.1,778.3 148.1,776.3 147.1,776.3 147.1,778.5 146.1,778.5 146.1,778.9 145.1,778.9 145.1,775.0 144.1,775.0 144.1,777.5 143.1,777.5 143.1,777.6 142.1,777.6 142.1,777.7 141.1,777.7 141.1,778.8 140.1,778.8 140.1,776.6 139.1,776.6 139.1,779.0 138.1,779.0 138.1,778.9 137.1,778.9 137.1,777.1 136.1,777.1 136.1,777.0 135.1,777.0 135.1,778.1 134.1,778.1 134.1,777.5 133.1,777.5 133.1,774.0 132.1,774.0 132.1,774.4 131.1,774.4 131.1,776.9 130.1,776.9 130.1,774.3 129.1,774.3 129.1,778.3 128.1,778.3 128.1,773.2 127.1,773.2 127.1,774.2 126.1,774.2 126.1,777.1 125.1,777.1 125.1,777.4 124.1,777.4 124.1,771.5 123.1,771.5 123.1,776.1 122.1,776.1 122.1,777.2 121.1,777.2 121.1,775.1 120.1,775.1 120.1,778.1 119.1,778.1 119.1,778.0 118.1,778.0 118.1,774.6 117.1,774.6 117.1,777.2 116.1,777.2 116.1,775.5 115.1,775.5 115.1,774.1 114.1,774.1 114.1,777.3 113.1,777.3 113.1,769.1 112.1,769.1 112.1,777.8 111.1,777.8 111.1,775.9 110.1,775.9 110.1,776.6 109.1,776.6 109.1,777.6 108.1,777.6 108.1,778.1 107.1,778.1 107.1,777.8 106.1,777.8 106.1,774.1 105.1,774.1 105.1,771.9 104.1,771.9 104.1,774.9 103.1,774.9 103.1,775.8 102.1,775.8 102.1,778.6 101.1,778.6 101.1,777.3 100.1,777.3 100.1,777.8 99.1,777.8 99.1,778.4 98.1,778.4 98.1,774.0 97.1,774.0 97.1,778.7 96.1,778.7 96.1,777.5 95.1,777.5 95.1,776.4 94.1,776.4 94.1,776.1 93.1,776.1 93.1,768.6 92.1,768.6 92.1,778.1 91.1,778.1 91.1,778.0 90.1,778.0 90.1,778.4 89.1,778.4Z" fill="#7e2f8e"/>
<line x1="211.9" y1="617.3" x2="211.9" y2="709.4" stroke="#ffffff" stroke-width="1" opacity="0.85"/>
<line x1="211.9" y1="709.4" x2="211.9" y2="780.1" stroke="#e8a030" stroke-width="1.2"/>
<line x1="527.3" y1="617.3" x2="527.3" y2="711.1" stroke="#ffffff" stroke-width="1" opacity="0.85"/>
<line x1="527.3" y1="711.1" x2="527.3" y2="780.1" stroke="#d97a30" stroke-width="1.2"/>
<line x1="369.3" y1="610.3" x2="369.3" y2="780.1" stroke="#d98a3a" stroke-width="1.1"/>
<line x1="630.2" y1="638.6" x2="630.2" y2="727.0" stroke="#d96a20" stroke-width="1"/>
</g>
<g clip-path="url(#cc)">
<line x1="118.9" y1="464.8" x2="118.9" y2="610.3" stroke="#0072bd" stroke-width="1.5"/>
<line x1="381.3" y1="360.5" x2="381.3" y2="610.3" stroke="#0072bd" stroke-width="1.5"/>
<line x1="643.2" y1="463.4" x2="643.2" y2="610.3" stroke="#0072bd" stroke-width="1.5"/>
<line x1="113.7" y1="424.1" x2="113.7" y2="610.3" stroke="#d95319" stroke-width="1.5"/>
<line x1="376.9" y1="360.5" x2="376.9" y2="610.3" stroke="#d95319" stroke-width="1.5"/>
<line x1="638.5" y1="417.8" x2="638.5" y2="610.3" stroke="#d95319" stroke-width="1.5"/>
<line x1="105.3" y1="410.0" x2="105.3" y2="610.3" stroke="#edb120" stroke-width="1.5"/>
<line x1="367.8" y1="362.9" x2="367.8" y2="610.3" stroke="#edb120" stroke-width="1.5"/>
<line x1="630.4" y1="397.3" x2="630.4" y2="610.3" stroke="#edb120" stroke-width="1.5"/>
<line x1="211.6" y1="396.5" x2="211.6" y2="610.3" stroke="#7e2f8e" stroke-width="1.5"/>
<line x1="369.6" y1="365.1" x2="369.6" y2="610.3" stroke="#7e2f8e" stroke-width="1.5"/>
<line x1="527.0" y1="394.4" x2="527.0" y2="610.3" stroke="#7e2f8e" stroke-width="1.5"/>
</g>
<text transform="translate(114.41,814.30)" font-family='"Liberation Sans", sans-serif' font-weight="normal" font-style="normal" font-size="23.6" fill="#262626" >7.6</text>
<text transform="translate(219.48,814.30)" font-family='"Liberation Sans", sans-serif' font-weight="normal" font-style="normal" font-size="23.6" fill="#262626" >7.8</text>
<text transform="translate(334.50,814.30)" font-family='"Liberation Sans", sans-serif' font-weight="normal" font-style="normal" font-size="23.6" fill="#262626" >8</text>
<text transform="translate(429.82,814.30)" font-family='"Liberation Sans", sans-serif' font-weight="normal" font-style="normal" font-size="23.6" fill="#262626" >8.2</text>
<text transform="translate(534.65,814.30)" font-family='"Liberation Sans", sans-serif' font-weight="normal" font-style="normal" font-size="23.6" fill="#262626" >8.4</text>
<text transform="translate(639.90,814.30)" font-family='"Liberation Sans", sans-serif' font-weight="normal" font-style="normal" font-size="23.6" fill="#262626" >8.6</text>
<text transform="translate(66.00,364.50)" font-family='"Liberation Sans", sans-serif' font-weight="normal" font-style="normal" font-size="23.6" fill="#262626" >0</text>
<text transform="translate(45.01,435.27)" font-family='"Liberation Sans", sans-serif' font-weight="normal" font-style="normal" font-size="23.6" fill="#262626" >-20</text>
<text transform="translate(45.01,506.04)" font-family='"Liberation Sans", sans-serif' font-weight="normal" font-style="normal" font-size="23.6" fill="#262626" >-40</text>
<text transform="translate(45.01,576.81)" font-family='"Liberation Sans", sans-serif' font-weight="normal" font-style="normal" font-size="23.6" fill="#262626" >-60</text>
<text transform="translate(45.01,647.58)" font-family='"Liberation Sans", sans-serif' font-weight="normal" font-style="normal" font-size="23.6" fill="#262626" >-80</text>
<text transform="translate(31.89,718.35)" font-family='"Liberation Sans", sans-serif' font-weight="normal" font-style="normal" font-size="23.6" fill="#262626" >-100</text>
<text transform="translate(31.89,789.12)" font-family='"Liberation Sans", sans-serif' font-weight="normal" font-style="normal" font-size="23.6" fill="#262626" >-120</text>
<text transform="translate(283.57,849.40) scale(1.0168,1)" font-family='"Liberation Sans", sans-serif' font-weight="normal" font-style="normal" font-size="25.5" fill="#262626" >Frequency (kHz)</text>
<g transform="translate(20.0,0) rotate(-90)"><text transform="translate(-690.02,0.00) scale(1.0139,1)" font-family='"Liberation Sans", sans-serif' font-weight="normal" font-style="normal" font-size="25.5" fill="#262626" >Power Spectrum (dB)</text></g>
<rect x="398.5" y="495.7" width="282.4" height="138.1" fill="#fff" stroke="#3c3c3c" stroke-width="1.2"/>
<line x1="404.2" y1="514.5" x2="474.3" y2="514.5" stroke="#0072bd" stroke-width="1.6"/>
<text transform="translate(479.69,526.20) scale(1.0629,1)" font-family='"Liberation Sans", sans-serif' font-weight="normal" font-style="normal" font-size="19.6" fill="#1a1a1a" >0.5kHz, 0.47mVcm</text>
<text transform="translate(657.90,517.80) scale(1.0918,1)" font-family='"Liberation Sans", sans-serif' font-weight="normal" font-style="normal" font-size="14.5" fill="#1a1a1a" >-1</text>
<line x1="404.2" y1="548.4" x2="474.3" y2="548.4" stroke="#d95319" stroke-width="1.6"/>
<text transform="translate(479.69,559.60) scale(1.0629,1)" font-family='"Liberation Sans", sans-serif' font-weight="normal" font-style="normal" font-size="19.6" fill="#1a1a1a" >0.5kHz, 1.41mVcm</text>
<text transform="translate(657.90,551.20) scale(1.0918,1)" font-family='"Liberation Sans", sans-serif' font-weight="normal" font-style="normal" font-size="14.5" fill="#1a1a1a" >-1</text>
<line x1="404.2" y1="581.8" x2="474.3" y2="581.8" stroke="#edb120" stroke-width="1.6"/>
<text transform="translate(479.69,592.50) scale(1.0629,1)" font-family='"Liberation Sans", sans-serif' font-weight="normal" font-style="normal" font-size="19.6" fill="#1a1a1a" >0.5kHz, 2.35mVcm</text>
<text transform="translate(657.90,584.10) scale(1.0918,1)" font-family='"Liberation Sans", sans-serif' font-weight="normal" font-style="normal" font-size="14.5" fill="#1a1a1a" >-1</text>
<line x1="404.2" y1="615.2" x2="474.3" y2="615.2" stroke="#7e2f8e" stroke-width="1.6"/>
<text transform="translate(479.69,626.10) scale(1.0629,1)" font-family='"Liberation Sans", sans-serif' font-weight="normal" font-style="normal" font-size="19.6" fill="#1a1a1a" >0.3kHz, 2.35mVcm</text>
<text transform="translate(657.90,617.70) scale(1.0918,1)" font-family='"Liberation Sans", sans-serif' font-weight="normal" font-style="normal" font-size="14.5" fill="#1a1a1a" >-1</text>
</g>
<text transform="translate(153.79,375.10) scale(1.1001,1)" font-family='"Liberation Sans", sans-serif' font-weight="bold" font-style="normal" font-size="16.4" fill="#0d0d0d" >0.5kHz</text>
<line x1="150.6" y1="375.3" x2="133.2" y2="384.5" stroke="#000" stroke-width="2.3"/>
<path d="M123.5,389.7 L131.5,379.1 L136.7,389.0Z" fill="#000"/>
<path d="M93.5,409 C96,398 106,394.6 115,394.6 C124,394.6 134,398 136.7,409" fill="none" stroke="#000" stroke-width="2.3"/>
<text transform="translate(141.96,427.00) scale(1.1273,1)" font-family='"Liberation Sans", sans-serif' font-weight="bold" font-style="normal" font-size="16.4" fill="#0d0d0d" >2.3mVcm</text>
<text transform="translate(222.40,420.80) scale(0.9845,1)" font-family='"Liberation Sans", sans-serif' font-weight="bold" font-style="normal" font-size="10.5" fill="#0d0d0d" >-1</text>
<line x1="139.0" y1="423.5" x2="119.3" y2="415.0" stroke="#000" stroke-width="2.3"/>
<path d="M109.2,410.7 L122.4,410.3 L118.0,420.6Z" fill="#000"/>
<text transform="translate(151.49,448.10) scale(1.0747,1)" font-family='"Liberation Sans", sans-serif' font-weight="bold" font-style="normal" font-size="16.4" fill="#0d0d0d" >1.4mVcm</text>
<text transform="translate(228.08,441.90) scale(1.2625,1)" font-family='"Liberation Sans", sans-serif' font-weight="bold" font-style="normal" font-size="10.5" fill="#0d0d0d" >-1</text>
<line x1="147.2" y1="441.0" x2="123.4" y2="429.9" stroke="#000" stroke-width="2.3"/>
<path d="M113.4,425.2 L126.6,425.2 L121.9,435.4Z" fill="#000"/>
<text transform="translate(153.48,487.80) scale(1.1129,1)" font-family='"Liberation Sans", sans-serif' font-weight="bold" font-style="normal" font-size="16.4" fill="#0d0d0d" >0.4mVcm</text>
<text transform="translate(232.84,481.60) scale(1.1235,1)" font-family='"Liberation Sans", sans-serif' font-weight="bold" font-style="normal" font-size="10.5" fill="#0d0d0d" >-1</text>
<line x1="151.9" y1="480.8" x2="131.6" y2="472.2" stroke="#000" stroke-width="2.3"/>
<path d="M121.5,467.9 L134.7,467.4 L130.4,477.7Z" fill="#000"/>
<text transform="translate(245.59,380.40) scale(1.0942,1)" font-family='"Liberation Sans", sans-serif' font-weight="bold" font-style="normal" font-size="16.4" fill="#0d0d0d" >0.3kHz</text>
<line x1="241.5" y1="380.5" x2="223.6" y2="389.4" stroke="#000" stroke-width="2.3"/>
<path d="M213.8,394.3 L222.0,383.9 L227.0,394.0Z" fill="#000"/>
<text transform="translate(386.81,387.60) scale(1.0259,1)" font-family='"Liberation Sans", sans-serif' font-weight="bold" font-style="normal" font-size="16.4" fill="#0d0d0d"  letter-spacing="0.434">OSC</text>
<text transform="translate(420.89,434.30) scale(1.0922,1)" font-family='"Liberation Sans", sans-serif' font-weight="bold" font-style="normal" font-size="16.4" fill="#0d0d0d" >0.3kHz</text>
<text transform="translate(550.09,453.40) scale(1.0922,1)" font-family='"Liberation Sans", sans-serif' font-weight="bold" font-style="normal" font-size="16.4" fill="#0d0d0d" >0.5kHz</text>
<text transform="translate(535.45,383.70) scale(1.0460,1)" font-family='"Liberation Sans", sans-serif' font-weight="bold" font-style="normal" font-size="16.4" fill="#0d0d0d"  letter-spacing="0.659">Modulated</text>
<text transform="translate(536.01,405.10) scale(1.0292,1)" font-family='"Liberation Sans", sans-serif' font-weight="bold" font-style="normal" font-size="16.4" fill="#0d0d0d"  letter-spacing="0.425">sidebands</text>
<line x1="382.4" y1="442.9" x2="512.5" y2="442.9" stroke="#000" stroke-width="2.4"/>
<path d="M371.9,442.9 L383.4,437.5 L383.4,448.29999999999995Z M523.0,442.9 L511.5,437.5 L511.5,448.29999999999995Z" fill="#000"/>
<line x1="383.1" y1="461.3" x2="616.0" y2="461.3" stroke="#000" stroke-width="2.4"/>
<path d="M372.6,461.3 L384.1,455.90000000000003 L384.1,466.7Z M626.5,461.3 L615.0,455.90000000000003 L615.0,466.7Z" fill="#000"/>
<text transform="translate(68.86,316.30) scale(1.0136,1)" font-family='"Liberation Sans", sans-serif' font-weight="bold" font-style="normal" font-size="22.5" fill="#000" >(a)</text>
<text transform="translate(414.87,316.30) scale(1.0042,1)" font-family='"Liberation Sans", sans-serif' font-weight="bold" font-style="normal" font-size="22.5" fill="#000" >(b)</text>
<text transform="translate(67.73,837.60) scale(1.0413,1)" font-family='"Liberation Sans", sans-serif' font-weight="bold" font-style="normal" font-size="22.5" fill="#000" >(c)</text>
</svg>
</body></html>
